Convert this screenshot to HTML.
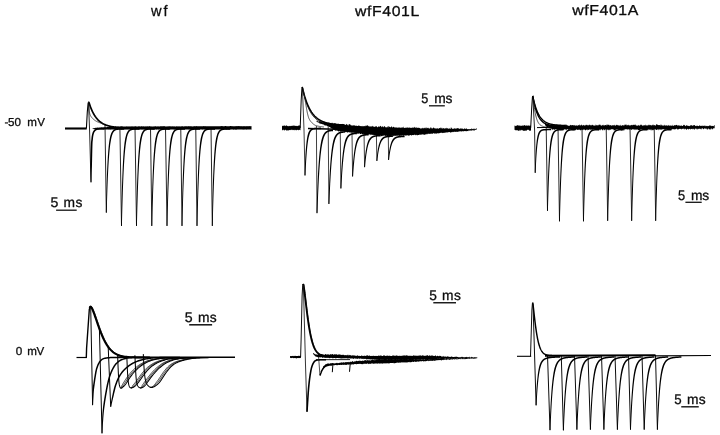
<!DOCTYPE html>
<html><head><meta charset="utf-8"><title>figure</title>
<style>html,body{margin:0;padding:0;background:#fff;}body{width:720px;height:435px;overflow:hidden;font-family:"Liberation Sans",sans-serif;}svg{display:block;}</style></head>
<body>
<svg width="720" height="435" viewBox="0 0 720 435">
<rect width="720" height="435" fill="#fff"/>
<g fill="none" stroke-linejoin="round" stroke-linecap="butt">
<path d="M65.00,128.50 L86.70,128.50" stroke="#000" stroke-width="2.1"/>
<path d="M86.40,128.40 L87.30,112.00 L88.10,103.40 L88.40,102.30" stroke="#000" stroke-width="1.1"/>
<path d="M88.35,102.20 L88.60,102.20 L89.00,102.60 L89.25,103.38 L89.50,104.14 L89.75,104.88 L90.00,105.60 L90.25,106.29 L90.50,106.96 L90.75,107.61 L91.00,108.24 L91.25,108.85 L91.50,109.44 L91.75,110.02 L92.00,110.57 L92.25,111.11 L92.50,111.64 L92.75,112.14 L93.00,112.63 L93.25,113.11 L93.50,113.57 L93.75,114.02 L94.00,114.45 L94.25,114.87 L94.50,115.28 L94.75,115.67 L95.00,116.05 L95.25,116.43 L95.50,116.78 L95.75,117.13 L96.00,117.47 L96.25,117.80 L96.50,118.11 L96.75,118.42 L97.00,118.72 L97.25,119.01 L97.50,119.29 L97.75,119.56 L98.00,119.82 L98.25,120.08 L98.50,120.32 L98.75,120.56 L99.00,120.79 L99.25,121.02 L99.50,121.24 L99.75,121.45 L100.00,121.65 L100.25,121.85 L100.50,122.04 L100.75,122.23 L101.00,122.41 L101.25,122.59 L101.50,122.75 L101.75,122.92 L102.00,123.08 L102.25,123.23 L102.50,123.38 L102.75,123.53 L103.00,123.67 L103.25,123.81 L103.50,123.94 L103.75,124.07 L104.00,124.19 L104.25,124.31 L104.50,124.43 L104.75,124.54 L105.00,124.65 L105.25,124.76 L105.50,124.86 L105.75,124.96 L106.00,125.05 L106.25,125.15 L106.50,125.24 L106.75,125.33 L107.00,125.41 L107.25,125.50 L107.50,125.58 L107.75,125.65 L108.00,125.73 L108.25,125.80 L108.50,125.87 L108.75,125.94 L109.00,126.01 L109.25,126.07 L109.50,126.13 L109.75,126.19 L110.00,126.25 L110.25,126.31 L110.50,126.36 L110.75,126.42 L111.00,126.47 L111.25,126.52 L111.50,126.57 L111.75,126.62 L112.00,126.66 L112.25,126.71 L112.50,126.75 L112.75,126.79 L113.00,126.83 L113.25,126.87 L113.50,126.91 L113.75,126.94 L114.00,126.98 L114.25,127.01 L114.50,127.05 L114.75,127.08 L115.00,127.11 L115.25,127.14 L115.50,127.17 L115.75,127.20 L116.00,127.23 L116.25,127.25 L116.50,127.28 L116.75,127.31 L117.00,127.33 L117.25,127.35 L117.50,127.38 L117.75,127.40 L118.00,127.42 L118.25,127.44 L118.50,127.46 L118.75,127.48 L119.00,127.50 L119.25,127.52 L119.50,127.54 L119.75,127.55 L120.00,127.57 L120.25,127.59 L120.50,127.60 L120.75,127.62 L121.00,127.63 L121.25,127.65 L121.50,127.66 L121.75,127.67 L122.00,127.69 L122.25,127.70 L122.50,127.71 L122.75,127.72 L123.00,127.74 L123.25,127.75 L123.50,127.76 L123.75,127.77 L124.00,127.78 L124.25,127.79 L124.50,127.80 L124.75,127.81 L125.00,127.82 L125.25,127.83 L125.50,127.83 L125.75,127.84 L126.00,127.85 L126.25,127.86 L126.50,127.87 L126.75,127.87 L127.00,127.88 L127.25,127.89 L127.50,127.89 L127.75,127.90 L128.00,127.91 L128.25,127.91 L128.50,127.92 L128.75,127.92 L129.00,127.93 L129.25,127.93 L129.50,127.94 L129.75,127.94 L130.00,127.95 L130.25,127.95 L130.50,127.96 L130.75,127.96 L131.00,127.97 L131.25,127.97 L131.50,127.97 L131.75,127.98 L132.00,127.98 L132.25,127.99 L132.50,127.99 L132.75,127.99 L133.00,128.00 L133.25,128.00 L133.50,128.00 L133.75,128.01 L134.00,128.01 L134.25,128.01 L134.50,128.01 L134.75,128.02 L135.00,128.02 L135.25,128.02 L135.50,128.02 L135.75,128.03 L136.00,128.03 L136.25,128.03 L136.50,128.03 L136.75,128.03 L137.00,128.04 L137.25,128.04 L137.50,128.04 L137.75,128.04 L138.00,128.04 L138.25,128.05 L138.50,128.05 L138.75,128.05 L139.00,128.05 L139.25,128.05 L139.50,128.05 L139.75,128.06 L140.00,128.06" stroke="#000" stroke-width="1.7"/>
<path d="M88.90,104.50 L88.92,104.90 L88.95,105.42 L88.98,106.04 L89.00,106.73 L89.04,107.48 L89.08,108.26 L89.12,109.06 L89.17,109.86 L89.24,110.63 L89.31,111.36 L89.40,112.02 L89.50,112.60 L89.61,113.11 L89.73,113.58 L89.85,114.02 L89.98,114.43 L90.12,114.81 L90.28,115.17 L90.44,115.52 L90.62,115.86 L90.81,116.20 L91.02,116.53 L91.25,116.86 L91.50,117.20 L91.77,117.54 L92.06,117.88 L92.37,118.22 L92.70,118.55 L93.04,118.88 L93.40,119.19 L93.77,119.50 L94.14,119.80 L94.53,120.09 L94.92,120.37 L95.31,120.64 L95.70,120.90 L96.11,121.14 L96.53,121.37 L96.98,121.59 L97.44,121.80 L97.90,122.00 L98.37,122.19 L98.83,122.38 L99.29,122.55 L99.72,122.72 L100.14,122.88 L100.54,123.04 L100.90,123.20 L101.24,123.35 L101.57,123.50 L101.90,123.65 L102.20,123.79 L102.50,123.92 L102.78,124.04 L103.03,124.16 L103.27,124.27 L103.49,124.37 L103.69,124.46 L103.86,124.54 L104.00,124.60" stroke="#222" stroke-width="0.8"/>
<path d="M88.50,102.50 L89.50,128.00 L91.00,182.10" stroke="#000" stroke-width="0.85"/>
<path d="M105.00,124.58 L106.30,212.50" stroke="#000" stroke-width="0.85"/>
<path d="M119.90,127.55 L121.50,225.80" stroke="#000" stroke-width="0.85"/>
<path d="M135.00,127.50 L136.50,225.80" stroke="#000" stroke-width="0.85"/>
<path d="M150.50,127.50 L151.80,225.80" stroke="#000" stroke-width="0.85"/>
<path d="M165.50,127.50 L167.00,225.80" stroke="#000" stroke-width="0.85"/>
<path d="M180.75,127.50 L182.00,225.80" stroke="#000" stroke-width="0.85"/>
<path d="M195.75,127.50 L197.00,225.80" stroke="#000" stroke-width="0.85"/>
<path d="M211.00,127.50 L212.30,225.80" stroke="#000" stroke-width="0.85"/>
<path d="M300.20,128.00 L301.20,100.00 L301.90,88.50 L302.20,87.00" stroke="#000" stroke-width="1.0"/>
<path d="M302.15,87.00 L302.30,87.20 L302.30,87.20 L302.55,88.28 L302.80,89.32 L303.05,90.34 L303.30,91.33 L303.55,92.29 L303.80,93.22 L304.05,94.12 L304.30,95.00 L304.55,95.86 L304.80,96.69 L305.05,97.50 L305.30,98.28 L305.55,99.05 L305.80,99.79 L306.05,100.51 L306.30,101.21 L306.55,101.89 L306.80,102.55 L307.05,103.19 L307.30,103.81 L307.55,104.42 L307.80,105.01 L308.05,105.58 L308.30,106.13 L308.55,106.67 L308.80,107.20 L309.05,107.71 L309.30,108.20 L309.55,108.69 L309.80,109.15 L310.05,109.61 L310.30,110.05 L310.55,110.48 L310.80,110.90 L311.05,111.30 L311.30,111.69 L311.55,112.08 L311.80,112.45 L312.05,112.81 L312.30,113.16 L312.55,113.50 L312.80,113.83 L313.05,114.16 L313.30,114.47 L313.55,114.77 L313.80,115.07 L314.05,115.35 L314.30,115.63 L314.55,115.90 L314.80,116.17 L315.05,116.42 L315.30,116.67 L315.55,116.91 L315.80,117.15 L316.05,117.38 L316.30,117.60 L316.55,117.81 L316.80,118.02 L317.05,118.23 L317.30,118.42 L317.55,118.62 L317.80,118.80 L318.05,118.98 L318.30,119.16 L318.55,119.33 L318.80,119.50 L319.05,119.66 L319.30,119.82 L319.55,119.97 L319.80,120.12 L320.05,120.26 L320.30,120.40 L320.55,120.54 L320.80,120.67 L321.05,120.80 L321.30,120.92 L321.55,121.04 L321.80,121.16 L322.05,121.27 L322.30,121.39 L322.55,121.49 L322.80,121.60 L323.05,121.70 L323.30,121.80 L323.55,121.90 L323.80,121.99 L324.05,122.08 L324.30,122.17 L324.55,122.25 L324.80,122.34 L325.05,122.42 L325.30,122.50 L325.55,122.57 L325.80,122.65 L326.05,122.72 L326.30,122.79 L326.55,122.86 L326.80,122.93 L327.05,122.99 L327.30,123.05 L327.55,123.11 L327.80,123.17 L328.05,123.23 L328.30,123.29 L328.55,123.34 L328.80,123.39 L329.05,123.44 L329.30,123.49 L329.55,123.54 L329.80,123.59 L330.05,123.63 L330.30,123.68 L330.55,123.72 L330.80,123.76 L331.05,123.80 L331.30,123.84 L331.55,123.88 L331.80,123.92 L332.05,123.96 L332.30,123.99 L332.55,124.03 L332.80,124.06 L333.05,124.09 L333.30,124.12 L333.55,124.15 L333.80,124.18 L334.05,124.21 L334.30,124.24 L334.55,124.27 L334.80,124.29 L335.05,124.32 L335.30,124.34 L335.55,124.37 L335.80,124.39 L336.05,124.41 L336.30,124.44 L336.55,124.46 L336.80,124.48 L337.05,124.50 L337.30,124.52 L337.55,124.54 L337.80,124.56 L338.05,124.58 L338.30,124.59 L338.55,124.61 L338.80,124.63 L339.05,124.64 L339.30,124.66 L339.55,124.67 L339.80,124.69 L340.05,124.70 L340.30,124.72 L340.55,124.73 L340.80,124.75 L341.05,124.76 L341.30,124.77 L341.55,124.78 L341.80,124.79 L342.05,124.81 L342.30,124.82 L342.55,124.83 L342.80,124.84 L343.05,124.85 L343.30,124.86 L343.55,124.87 L343.80,124.88 L344.05,124.89 L344.30,124.90 L344.55,124.90 L344.80,124.91" stroke="#000" stroke-width="1.5"/>
<path d="M302.15,87.00 L302.30,87.20 L302.30,87.20 L302.55,88.40 L302.80,89.57 L303.05,90.70 L303.30,91.79 L303.55,92.85 L303.80,93.88 L304.05,94.87 L304.30,95.83 L304.55,96.77 L304.80,97.67 L305.05,98.55 L305.30,99.40 L305.55,100.22 L305.80,101.02 L306.05,101.79 L306.30,102.54 L306.55,103.26 L306.80,103.96 L307.05,104.64 L307.30,105.30 L307.55,105.94 L307.80,106.56 L308.05,107.16 L308.30,107.74 L308.55,108.30 L308.80,108.85 L309.05,109.37 L309.30,109.89 L309.55,110.38 L309.80,110.86 L310.05,111.33 L310.30,111.78 L310.55,112.22 L310.80,112.64 L311.05,113.05 L311.30,113.45 L311.55,113.83 L311.80,114.20 L312.05,114.56 L312.30,114.91 L312.55,115.25 L312.80,115.58 L313.05,115.90 L313.30,116.21 L313.55,116.51 L313.80,116.80 L314.05,117.08 L314.30,117.35 L314.55,117.61 L314.80,117.87 L315.05,118.11 L315.30,118.35 L315.55,118.59 L315.80,118.81 L316.05,119.03 L316.30,119.24 L316.55,119.44 L316.80,119.64 L317.05,119.83 L317.30,120.02 L317.55,120.20 L317.80,120.37 L318.05,120.54 L318.30,120.71 L318.55,120.87 L318.80,121.02 L319.05,121.17 L319.30,121.31 L319.55,121.45 L319.80,121.59 L320.05,121.72 L320.30,121.85 L320.55,121.97 L320.80,122.09 L321.05,122.20 L321.30,122.32 L321.55,122.42 L321.80,122.53 L322.05,122.63 L322.30,122.73 L322.55,122.83 L322.80,122.92 L323.05,123.01 L323.30,123.10 L323.55,123.18 L323.80,123.26 L324.05,123.34 L324.30,123.42 L324.55,123.49 L324.80,123.56 L325.05,123.63 L325.30,123.70 L325.55,123.77 L325.80,123.83 L326.05,123.89 L326.30,123.95 L326.55,124.01 L326.80,124.06 L327.05,124.12 L327.30,124.17 L327.55,124.22 L327.80,124.27 L328.05,124.32 L328.30,124.36 L328.55,124.41 L328.80,124.45 L329.05,124.49 L329.30,124.53 L329.55,124.57 L329.80,124.61 L330.05,124.65 L330.30,124.68 L330.55,124.72 L330.80,124.75 L331.05,124.79 L331.30,124.82 L331.55,124.85 L331.80,124.88 L332.05,124.91 L332.30,124.93 L332.55,124.96 L332.80,124.99 L333.05,125.01 L333.30,125.04 L333.55,125.06 L333.80,125.08 L334.05,125.11 L334.30,125.13 L334.55,125.15 L334.80,125.17 L335.05,125.19 L335.30,125.21 L335.55,125.23 L335.80,125.24 L336.05,125.26 L336.30,125.28 L336.55,125.29 L336.80,125.31 L337.05,125.33 L337.30,125.34 L337.55,125.35 L337.80,125.37 L338.05,125.38 L338.30,125.39 L338.55,125.41 L338.80,125.42 L339.05,125.43 L339.30,125.44 L339.55,125.45 L339.80,125.46 L340.05,125.48 L340.30,125.49 L340.55,125.50 L340.80,125.50 L341.05,125.51 L341.30,125.52 L341.55,125.53 L341.80,125.54 L342.05,125.55 L342.30,125.56 L342.55,125.56 L342.80,125.57 L343.05,125.58 L343.30,125.58 L343.55,125.59 L343.80,125.60 L344.05,125.60 L344.30,125.61 L344.55,125.62 L344.80,125.62" stroke="#000" stroke-width="1.0"/>
<path d="M302.60,87.80 L302.63,87.87 L302.66,87.94 L302.70,88.00 L302.74,88.08 L302.78,88.17 L302.83,88.27 L302.88,88.40 L302.94,88.55 L303.00,88.73 L303.06,88.95 L303.13,89.20 L303.20,89.50 L303.27,89.85 L303.35,90.24 L303.44,90.68 L303.53,91.15 L303.62,91.65 L303.71,92.17 L303.81,92.72 L303.91,93.27 L304.01,93.84 L304.11,94.40 L304.20,94.95 L304.30,95.50 L304.39,96.03 L304.48,96.54 L304.57,97.04 L304.66,97.54 L304.74,98.05 L304.83,98.58 L304.92,99.12 L305.02,99.69 L305.13,100.30 L305.24,100.94 L305.36,101.64 L305.50,102.40 L305.65,103.24 L305.81,104.17 L305.98,105.18 L306.16,106.24 L306.34,107.34 L306.53,108.46 L306.73,109.57 L306.92,110.66 L307.12,111.70 L307.32,112.69 L307.51,113.59 L307.70,114.40 L307.88,115.12 L308.05,115.77 L308.22,116.36 L308.38,116.90 L308.54,117.41 L308.71,117.88 L308.89,118.32 L309.07,118.74 L309.27,119.15 L309.49,119.56 L309.73,119.98 L310.00,120.40 L310.29,120.83 L310.61,121.26 L310.95,121.68 L311.31,122.09 L311.68,122.49 L312.06,122.88 L312.45,123.25 L312.85,123.61 L313.24,123.94 L313.64,124.25 L314.02,124.54 L314.40,124.80 L314.77,125.03 L315.14,125.23 L315.50,125.40 L315.87,125.54 L316.24,125.67 L316.61,125.78 L316.98,125.88 L317.35,125.97 L317.73,126.05 L318.11,126.13 L318.50,126.21 L318.90,126.30 L319.32,126.39 L319.77,126.47 L320.25,126.55 L320.74,126.62 L321.24,126.68 L321.73,126.74 L322.21,126.80 L322.66,126.85 L323.07,126.89 L323.44,126.93 L323.75,126.97 L324.00,127.00" stroke="#222" stroke-width="0.8"/>
<path d="M308.00,128.60 L337.00,129.20" stroke="#000" stroke-width="1.5"/>
<path d="M302.40,87.50 L304.00,130.00 L305.00,175.30" stroke="#000" stroke-width="0.75"/>
<path d="M316.40,126.00 L317.00,212.90" stroke="#000" stroke-width="0.75"/>
<path d="M328.20,126.00 L328.90,203.80" stroke="#000" stroke-width="0.75"/>
<path d="M340.20,126.00 L340.90,188.30" stroke="#000" stroke-width="0.75"/>
<path d="M351.90,126.00 L352.60,176.30" stroke="#000" stroke-width="0.75"/>
<path d="M363.90,126.00 L364.60,166.90" stroke="#000" stroke-width="0.75"/>
<path d="M376.20,126.00 L376.90,160.70" stroke="#000" stroke-width="0.75"/>
<path d="M388.20,126.00 L388.60,159.70" stroke="#000" stroke-width="0.75"/>
<path d="M530.70,127.90 L531.70,108.00 L532.40,97.20 L532.70,96.00" stroke="#000" stroke-width="1.0"/>
<path d="M532.65,96.00 L532.80,96.20 L532.80,96.20 L533.05,97.40 L533.30,98.55 L533.55,99.65 L533.80,100.71 L534.05,101.73 L534.30,102.70 L534.55,103.64 L534.80,104.53 L535.05,105.39 L535.30,106.22 L535.55,107.01 L535.80,107.77 L536.05,108.50 L536.30,109.19 L536.55,109.86 L536.80,110.51 L537.05,111.12 L537.30,111.71 L537.55,112.28 L537.80,112.82 L538.05,113.34 L538.30,113.84 L538.55,114.32 L538.80,114.78 L539.05,115.23 L539.30,115.65 L539.55,116.06 L539.80,116.44 L540.05,116.82 L540.30,117.18 L540.55,117.52 L540.80,117.85 L541.05,118.17 L541.30,118.47 L541.55,118.76 L541.80,119.04 L542.05,119.31 L542.30,119.56 L542.55,119.81 L542.80,120.05 L543.05,120.27 L543.30,120.49 L543.55,120.70 L543.80,120.90 L544.05,121.09 L544.30,121.28 L544.55,121.45 L544.80,121.62 L545.05,121.78 L545.30,121.94 L545.55,122.09 L545.80,122.23 L546.05,122.37 L546.30,122.50 L546.55,122.63 L546.80,122.75 L547.05,122.87 L547.30,122.98 L547.55,123.08 L547.80,123.19 L548.05,123.29 L548.30,123.38 L548.55,123.47 L548.80,123.56 L549.05,123.64 L549.30,123.72 L549.55,123.80 L549.80,123.87 L550.05,123.94 L550.30,124.01 L550.55,124.07 L550.80,124.14 L551.05,124.20 L551.30,124.25 L551.55,124.31 L551.80,124.36 L552.05,124.41 L552.30,124.46 L552.55,124.51 L552.80,124.55 L553.05,124.59 L553.30,124.64 L553.55,124.67 L553.80,124.71 L554.05,124.75 L554.30,124.78 L554.55,124.82 L554.80,124.85 L555.05,124.88 L555.30,124.91 L555.55,124.94 L555.80,124.96 L556.05,124.99 L556.30,125.01 L556.55,125.04 L556.80,125.06 L557.05,125.08 L557.30,125.10 L557.55,125.12 L557.80,125.14 L558.05,125.16 L558.30,125.18 L558.55,125.20 L558.80,125.21 L559.05,125.23 L559.30,125.25 L559.55,125.26 L559.80,125.27 L560.05,125.29 L560.30,125.30 L560.55,125.31 L560.80,125.32 L561.05,125.33 L561.30,125.35 L561.55,125.36 L561.80,125.37 L562.05,125.38 L562.30,125.38 L562.55,125.39 L562.80,125.40 L563.05,125.41 L563.30,125.42 L563.55,125.43 L563.80,125.43 L564.05,125.44 L564.30,125.45 L564.55,125.45 L564.80,125.46 L565.05,125.46 L565.30,125.47 L565.55,125.47 L565.80,125.48" stroke="#000" stroke-width="1.4"/>
<path d="M532.65,96.00 L532.80,96.20 L532.80,96.20 L533.05,97.62 L533.30,98.97 L533.55,100.26 L533.80,101.48 L534.05,102.65 L534.30,103.77 L534.55,104.83 L534.80,105.84 L535.05,106.81 L535.30,107.73 L535.55,108.60 L535.80,109.44 L536.05,110.24 L536.30,110.99 L536.55,111.72 L536.80,112.41 L537.05,113.06 L537.30,113.69 L537.55,114.29 L537.80,114.85 L538.05,115.40 L538.30,115.91 L538.55,116.41 L538.80,116.87 L539.05,117.32 L539.30,117.75 L539.55,118.15 L539.80,118.54 L540.05,118.91 L540.30,119.26 L540.55,119.60 L540.80,119.92 L541.05,120.22 L541.30,120.51 L541.55,120.79 L541.80,121.05 L542.05,121.30 L542.30,121.54 L542.55,121.77 L542.80,121.99 L543.05,122.19 L543.30,122.39 L543.55,122.58 L543.80,122.76 L544.05,122.93 L544.30,123.09 L544.55,123.25 L544.80,123.40 L545.05,123.54 L545.30,123.67 L545.55,123.80 L545.80,123.92 L546.05,124.04 L546.30,124.15 L546.55,124.25 L546.80,124.35 L547.05,124.45 L547.30,124.54 L547.55,124.63 L547.80,124.71 L548.05,124.79 L548.30,124.87 L548.55,124.94 L548.80,125.01 L549.05,125.07 L549.30,125.14 L549.55,125.19 L549.80,125.25 L550.05,125.31 L550.30,125.36 L550.55,125.41 L550.80,125.45 L551.05,125.50 L551.30,125.54 L551.55,125.58 L551.80,125.62 L552.05,125.65 L552.30,125.69 L552.55,125.72 L552.80,125.75 L553.05,125.79 L553.30,125.81 L553.55,125.84 L553.80,125.87 L554.05,125.89 L554.30,125.92 L554.55,125.94 L554.80,125.96 L555.05,125.98 L555.30,126.00 L555.55,126.02 L555.80,126.04 L556.05,126.05 L556.30,126.07 L556.55,126.09 L556.80,126.10 L557.05,126.12 L557.30,126.13 L557.55,126.14 L557.80,126.15 L558.05,126.16 L558.30,126.18 L558.55,126.19 L558.80,126.20 L559.05,126.21 L559.30,126.22 L559.55,126.22 L559.80,126.23 L560.05,126.24 L560.30,126.25 L560.55,126.25 L560.80,126.26 L561.05,126.27 L561.30,126.27 L561.55,126.28 L561.80,126.29 L562.05,126.29 L562.30,126.30 L562.55,126.30 L562.80,126.31 L563.05,126.31 L563.30,126.31 L563.55,126.32 L563.80,126.32 L564.05,126.33 L564.30,126.33 L564.55,126.33 L564.80,126.34 L565.05,126.34 L565.30,126.34 L565.55,126.34 L565.80,126.35" stroke="#000" stroke-width="1.4"/>
<path d="M533.40,99.00 L533.65,101.49 L533.90,103.77 L534.15,105.84 L534.40,107.73 L534.65,109.45 L534.90,111.02 L535.15,112.45 L535.40,113.76 L535.65,114.94 L535.90,116.03 L536.15,117.02 L536.40,117.92 L536.65,118.74 L536.90,119.49 L537.15,120.17 L537.40,120.79 L537.65,121.36 L537.90,121.87 L538.15,122.34 L538.40,122.77 L538.65,123.17 L538.90,123.52 L539.15,123.85 L539.40,124.14 L539.65,124.41 L539.90,124.66 L540.15,124.89 L540.40,125.09 L540.65,125.28 L540.90,125.45 L541.15,125.60 L541.40,125.74 L541.65,125.87 L541.90,125.99 L542.15,126.10 L542.40,126.19 L542.65,126.28 L542.90,126.36 L543.15,126.44 L543.40,126.51 L543.65,126.57 L543.90,126.62 L544.15,126.67 L544.40,126.72 L544.65,126.76 L544.90,126.80 L545.15,126.84 L545.40,126.87 L545.65,126.90 L545.90,126.92" stroke="#222" stroke-width="0.8"/>
<path d="M537.00,127.60 L552.00,127.40" stroke="#000" stroke-width="1.0"/>
<path d="M532.80,96.50 L534.60,130.00 L535.20,172.60" stroke="#000" stroke-width="0.85"/>
<path d="M546.20,127.00 L547.50,210.60" stroke="#000" stroke-width="0.85"/>
<path d="M558.00,127.00 L559.50,221.10" stroke="#000" stroke-width="0.85"/>
<path d="M582.00,127.00 L583.50,221.10" stroke="#000" stroke-width="0.85"/>
<path d="M606.20,127.00 L607.70,220.60" stroke="#000" stroke-width="0.85"/>
<path d="M630.00,127.00 L631.70,220.60" stroke="#000" stroke-width="0.85"/>
<path d="M654.20,127.00 L655.70,220.60" stroke="#000" stroke-width="0.85"/>
<path d="M76.50,357.50 L86.90,357.50" stroke="#000" stroke-width="1.2"/>
<path d="M86.30,357.80 L86.60,348.00 L89.30,309.50 L90.00,307.10 L90.60,306.60" stroke="#000" stroke-width="1.4"/>
<path d="M89.60,308.00 L90.10,306.90 L90.60,306.60 L90.85,306.77 L91.10,307.06 L91.35,307.42 L91.60,307.84 L91.85,308.31 L92.10,308.81 L92.35,309.35 L92.60,309.92 L92.85,310.51 L93.10,311.13 L93.35,311.76 L93.60,312.42 L93.85,313.08 L94.10,313.76 L94.35,314.46 L94.60,315.16 L94.85,315.87 L95.10,316.59 L95.35,317.31 L95.60,318.03 L95.85,318.76 L96.10,319.50 L96.35,320.23 L96.60,320.96 L96.85,321.69 L97.10,322.42 L97.35,323.15 L97.60,323.87 L97.85,324.59 L98.10,325.31 L98.35,326.02 L98.60,326.72 L98.85,327.42 L99.10,328.11 L99.35,328.80 L99.60,329.47 L99.85,330.14 L100.10,330.80 L100.35,331.46 L100.60,332.10 L100.85,332.74 L101.10,333.36 L101.35,333.98 L101.60,334.59 L101.85,335.19 L102.10,335.77 L102.35,336.35 L102.60,336.92 L102.85,337.48 L103.10,338.03 L103.35,338.56 L103.60,339.09 L103.85,339.61 L104.10,340.11 L104.35,340.61 L104.60,341.10 L104.85,341.57 L105.10,342.04 L105.35,342.49 L105.60,342.94 L105.85,343.37 L106.10,343.80 L106.35,344.21 L106.60,344.62 L106.85,345.02 L107.10,345.40 L107.35,345.78 L107.60,346.15 L107.85,346.51 L108.10,346.86 L108.35,347.20 L108.60,347.53 L108.85,347.85 L109.10,348.17 L109.35,348.47 L109.60,348.77 L109.85,349.06 L110.10,349.34 L110.35,349.62 L110.60,349.88 L110.85,350.14 L111.10,350.39 L111.35,350.63 L111.60,350.87 L111.85,351.10 L112.10,351.32 L112.35,351.54 L112.60,351.75 L112.85,351.95 L113.10,352.15 L113.35,352.34 L113.60,352.53 L113.85,352.71 L114.10,352.88 L114.35,353.05 L114.60,353.21 L114.85,353.37 L115.10,353.52 L115.35,353.67 L115.60,353.81 L115.85,353.95 L116.10,354.08 L116.35,354.21 L116.60,354.34 L116.85,354.46 L117.10,354.57 L117.35,354.69 L117.60,354.79 L117.85,354.90 L118.10,355.00 L118.35,355.10 L118.60,355.19 L118.85,355.28 L119.10,355.37 L119.35,355.46 L119.60,355.54 L119.85,355.61 L120.10,355.69 L120.35,355.76 L120.60,355.83 L120.85,355.90 L121.10,355.97 L121.35,356.03 L121.60,356.09 L121.85,356.15 L122.10,356.20 L122.35,356.26 L122.60,356.31 L122.85,356.36 L123.10,356.41 L123.35,356.45 L123.60,356.50 L123.85,356.54 L124.10,356.58 L124.35,356.62 L124.60,356.66 L124.85,356.69 L125.10,356.73 L125.35,356.76 L125.60,356.79 L125.85,356.82 L126.10,356.85 L126.35,356.88 L126.60,356.91 L126.85,356.93 L127.10,356.96 L127.35,356.98 L127.60,357.01 L127.85,357.03 L128.10,357.05 L128.35,357.07 L128.60,357.09 L128.85,357.11 L129.10,357.12 L129.35,357.14 L129.60,357.16 L129.85,357.17 L130.10,357.19 L130.35,357.20 L130.60,357.22 L130.85,357.23 L131.10,357.24 L131.35,357.25 L131.60,357.27 L131.85,357.28 L132.10,357.29 L132.35,357.30 L132.60,357.31 L132.85,357.32 L133.10,357.32 L133.35,357.33 L133.60,357.34 L133.85,357.35 L134.10,357.35 L134.35,357.36 L134.60,357.37 L134.85,357.37 L135.10,357.38 L135.35,357.39 L135.60,357.39 L135.85,357.40 L136.10,357.40 L136.35,357.41 L136.60,357.41 L136.85,357.42 L137.10,357.42 L137.35,357.42 L137.60,357.43 L137.85,357.43 L138.10,357.43 L138.35,357.44 L138.60,357.44 L138.85,357.44 L139.10,357.45 L139.35,357.45 L139.60,357.45 L139.85,357.45 L140.10,357.46 L140.35,357.46 L140.60,357.46 L140.85,357.46 L141.10,357.46 L141.35,357.47 L141.60,357.47 L141.85,357.47 L142.10,357.47 L142.35,357.47 L142.60,357.47 L142.85,357.48 L143.10,357.48 L143.35,357.48 L143.60,357.48 L143.85,357.48 L144.10,357.48 L144.35,357.48 L144.60,357.48 L144.85,357.48 L145.10,357.48 L145.35,357.49 L145.60,357.49 L145.85,357.49 L146.10,357.49 L146.35,357.49 L146.60,357.49 L146.85,357.49 L147.10,357.49 L147.35,357.49 L147.60,357.49 L147.85,357.49 L148.10,357.49 L148.35,357.49 L148.60,357.49 L148.85,357.49 L149.10,357.49 L149.35,357.49 L149.60,357.49 L149.85,357.49" stroke="#000" stroke-width="2.0"/>
<path d="M91.20,307.10 L91.40,306.60 L91.65,306.77 L91.90,307.06 L92.15,307.42 L92.40,307.84 L92.65,308.31 L92.90,308.81 L93.15,309.35 L93.40,309.92 L93.65,310.51 L93.90,311.13 L94.15,311.76 L94.40,312.42 L94.65,313.08 L94.90,313.76 L95.15,314.46 L95.40,315.16 L95.65,315.87 L95.90,316.59 L96.15,317.31 L96.40,318.03 L96.65,318.76 L96.90,319.50 L97.15,320.23 L97.40,320.96 L97.65,321.69 L97.90,322.42 L98.15,323.15 L98.40,323.87 L98.65,324.59 L98.90,325.31 L99.15,326.02 L99.40,326.72 L99.65,327.42 L99.90,328.11 L100.15,328.80 L100.40,329.47 L100.65,330.14 L100.90,330.80 L101.15,331.46 L101.40,332.10 L101.65,332.74 L101.90,333.36 L102.15,333.98 L102.40,334.59 L102.65,335.19 L102.90,335.77 L103.15,336.35 L103.40,336.92 L103.65,337.48 L103.90,338.03 L104.15,338.56 L104.40,339.09 L104.65,339.61 L104.90,340.11 L105.15,340.61 L105.40,341.10 L105.65,341.57 L105.90,342.04 L106.15,342.49 L106.40,342.94 L106.65,343.37 L106.90,343.80 L107.15,344.21 L107.40,344.62 L107.65,345.02 L107.90,345.40 L108.15,345.78 L108.40,346.15 L108.65,346.51 L108.90,346.86 L109.15,347.20 L109.40,347.53 L109.65,347.85 L109.90,348.17 L110.15,348.47 L110.40,348.77 L110.65,349.06 L110.90,349.34 L111.15,349.62 L111.40,349.88 L111.65,350.14 L111.90,350.39 L112.15,350.63 L112.40,350.87 L112.65,351.10 L112.90,351.32 L113.15,351.54 L113.40,351.75 L113.65,351.95 L113.90,352.15 L114.15,352.34 L114.40,352.53 L114.65,352.71 L114.90,352.88 L115.15,353.05 L115.40,353.21 L115.65,353.37 L115.90,353.52 L116.15,353.67 L116.40,353.81 L116.65,353.95 L116.90,354.08 L117.15,354.21 L117.40,354.34 L117.65,354.46 L117.90,354.57 L118.15,354.69 L118.40,354.79 L118.65,354.90 L118.90,355.00 L119.15,355.10 L119.40,355.19 L119.65,355.28 L119.90,355.37 L120.15,355.46 L120.40,355.54 L120.65,355.61 L120.90,355.69 L121.15,355.76 L121.40,355.83 L121.65,355.90 L121.90,355.97 L122.15,356.03 L122.40,356.09 L122.65,356.15 L122.90,356.20 L123.15,356.26 L123.40,356.31 L123.65,356.36 L123.90,356.41 L124.15,356.45 L124.40,356.50 L124.65,356.54 L124.90,356.58 L125.15,356.62 L125.40,356.66 L125.65,356.69 L125.90,356.73 L126.15,356.76" stroke="#000" stroke-width="1.0"/>
<path d="M118.00,357.30 L235.00,357.30" stroke="#000" stroke-width="1.4"/>
<path d="M90.70,306.80 L92.60,405.00" stroke="#000" stroke-width="1.0"/>
<path d="M99.40,328.59 L102.00,433.20" stroke="#000" stroke-width="1.0"/>
<path d="M108.20,346.87 L110.70,406.70" stroke="#000" stroke-width="1.0"/>
<path d="M117.60,354.80 L117.63,355.65 L117.68,356.75 L117.73,358.05 L117.78,359.51 L117.84,361.09 L117.91,362.74 L117.97,364.44 L118.04,366.13 L118.11,367.77 L118.18,369.32 L118.24,370.75 L118.30,372.00 L118.36,373.13 L118.41,374.21 L118.47,375.24 L118.53,376.23 L118.58,377.16 L118.64,378.06 L118.69,378.90 L118.75,379.71 L118.81,380.47 L118.87,381.19 L118.93,381.86 L119.00,382.50 L119.07,383.08 L119.14,383.61 L119.21,384.08 L119.28,384.50 L119.35,384.88 L119.43,385.22 L119.50,385.53 L119.58,385.81 L119.66,386.07 L119.74,386.32 L119.82,386.56 L119.90,386.80 L119.98,387.03 L120.07,387.23 L120.15,387.41 L120.23,387.57 L120.32,387.71 L120.41,387.83 L120.50,387.93 L120.59,388.01 L120.69,388.08 L120.79,388.13 L120.89,388.17 L121.00,388.20 L121.11,388.21 L121.22,388.21 L121.33,388.19 L121.44,388.16 L121.55,388.11 L121.67,388.04 L121.79,387.96 L121.93,387.86 L122.08,387.75 L122.23,387.62 L122.41,387.47 L122.60,387.30 L122.81,387.12 L123.03,386.93 L123.26,386.73 L123.50,386.51 L123.76,386.27 L124.02,386.02 L124.30,385.74 L124.59,385.45 L124.88,385.13 L125.18,384.78 L125.49,384.41 L125.80,384.00 L126.12,383.55 L126.46,383.06 L126.80,382.53 L127.15,381.97 L127.51,381.39 L127.88,380.79 L128.26,380.18 L128.64,379.56 L129.02,378.95 L129.41,378.34 L129.81,377.76 L130.20,377.20 L130.59,376.66 L130.98,376.12 L131.37,375.59 L131.76,375.07 L132.15,374.54 L132.55,374.02 L132.96,373.51 L133.39,372.99 L133.83,372.47 L134.30,371.95 L134.79,371.43 L135.30,370.90 L135.84,370.36 L136.39,369.82 L136.97,369.26 L137.56,368.70 L138.16,368.14 L138.79,367.59 L139.43,367.04 L140.09,366.50 L140.77,365.97 L141.46,365.46 L142.17,364.97 L142.90,364.50 L143.64,364.05 L144.39,363.61 L145.16,363.19 L145.94,362.77 L146.74,362.37 L147.56,361.98 L148.40,361.61 L149.26,361.25 L150.15,360.91 L151.07,360.59 L152.02,360.28 L153.00,360.00 L154.02,359.74 L155.08,359.49 L156.18,359.27 L157.31,359.06 L158.46,358.87 L159.64,358.69 L160.83,358.53 L162.04,358.39 L163.25,358.25 L164.47,358.12 L165.69,358.01 L166.90,357.90 L168.16,357.81 L169.52,357.73 L170.94,357.67 L172.40,357.63 L173.87,357.59 L175.32,357.57 L176.72,357.55 L178.04,357.54 L179.26,357.53 L180.34,357.52 L181.27,357.51 L182.00,357.50" stroke="#000" stroke-width="1.05"/>
<path d="M121.00,388.20 L121.04,388.16 L121.07,388.13 L121.12,388.09 L121.16,388.06 L121.21,388.01 L121.27,387.96 L121.34,387.89 L121.42,387.81 L121.51,387.71 L121.61,387.60 L121.72,387.46 L121.85,387.30 L121.99,387.12 L122.14,386.93 L122.30,386.73 L122.48,386.51 L122.66,386.27 L122.85,386.02 L123.06,385.74 L123.28,385.45 L123.51,385.13 L123.76,384.78 L124.02,384.41 L124.30,384.00 L124.60,383.55 L124.91,383.06 L125.25,382.53 L125.60,381.97 L125.96,381.39 L126.33,380.79 L126.72,380.18 L127.11,379.56 L127.51,378.95 L127.90,378.34 L128.30,377.76 L128.70,377.20 L129.09,376.66 L129.48,376.12 L129.87,375.59 L130.26,375.07 L130.65,374.54 L131.05,374.02 L131.46,373.51 L131.89,372.99 L132.33,372.47 L132.80,371.95 L133.29,371.43 L133.80,370.90 L134.34,370.36 L134.89,369.82 L135.47,369.26 L136.06,368.70 L136.66,368.14 L137.29,367.59 L137.93,367.04 L138.59,366.50 L139.27,365.97 L139.96,365.46 L140.67,364.97 L141.40,364.50 L142.14,364.05 L142.89,363.61 L143.66,363.19 L144.44,362.77 L145.24,362.37 L146.06,361.98 L146.90,361.61 L147.76,361.25 L148.65,360.91 L149.57,360.59 L150.52,360.28 L151.50,360.00 L152.52,359.74 L153.58,359.49 L154.68,359.27 L155.81,359.06 L156.96,358.87 L158.14,358.69 L159.33,358.53 L160.54,358.39 L161.75,358.25 L162.97,358.12 L164.19,358.01 L165.40,357.90 L166.66,357.81 L168.02,357.73 L169.44,357.67 L170.90,357.63 L172.37,357.59 L173.82,357.57 L175.22,357.55 L176.54,357.54 L177.76,357.53 L178.84,357.52 L179.77,357.51 L180.50,357.50" stroke="#000" stroke-width="0.8"/>
<path d="M121.00,388.20 L121.00,388.16 L120.99,388.13 L120.98,388.09 L120.97,388.06 L120.95,388.01 L120.94,387.96 L120.94,387.89 L120.94,387.81 L120.96,387.71 L120.99,387.60 L121.04,387.46 L121.10,387.30 L121.18,387.12 L121.26,386.93 L121.35,386.73 L121.45,386.51 L121.56,386.27 L121.68,386.02 L121.82,385.74 L121.97,385.45 L122.15,385.13 L122.34,384.78 L122.56,384.41 L122.80,384.00 L123.07,383.55 L123.37,383.06 L123.69,382.53 L124.04,381.97 L124.41,381.39 L124.79,380.79 L125.18,380.18 L125.58,379.56 L125.99,378.95 L126.39,378.34 L126.80,377.76 L127.20,377.20 L127.59,376.66 L127.98,376.12 L128.37,375.59 L128.76,375.07 L129.15,374.54 L129.55,374.02 L129.96,373.51 L130.39,372.99 L130.83,372.47 L131.30,371.95 L131.79,371.43 L132.30,370.90 L132.84,370.36 L133.39,369.82 L133.97,369.26 L134.56,368.70 L135.16,368.14 L135.79,367.59 L136.43,367.04 L137.09,366.50 L137.77,365.97 L138.46,365.46 L139.17,364.97 L139.90,364.50 L140.64,364.05 L141.39,363.61 L142.16,363.19 L142.94,362.77 L143.74,362.37 L144.56,361.98 L145.40,361.61 L146.26,361.25 L147.15,360.91 L148.07,360.59 L149.02,360.28 L150.00,360.00 L151.02,359.74 L152.08,359.49 L153.18,359.27 L154.31,359.06 L155.46,358.87 L156.64,358.69 L157.83,358.53 L159.04,358.39 L160.25,358.25 L161.47,358.12 L162.69,358.01 L163.90,357.90 L165.16,357.81 L166.52,357.73 L167.94,357.67 L169.40,357.63 L170.87,357.59 L172.32,357.57 L173.72,357.55 L175.04,357.54 L176.26,357.53 L177.34,357.52 L178.27,357.51 L179.00,357.50" stroke="#000" stroke-width="0.8"/>
<path d="M126.80,355.70 L126.83,356.51 L126.88,357.55 L126.92,358.78 L126.98,360.16 L127.04,361.66 L127.10,363.22 L127.17,364.83 L127.23,366.43 L127.30,367.99 L127.37,369.46 L127.44,370.81 L127.50,372.00 L127.56,373.07 L127.62,374.09 L127.69,375.07 L127.75,376.00 L127.81,376.89 L127.88,377.74 L127.94,378.54 L128.01,379.31 L128.08,380.03 L128.15,380.72 L128.22,381.38 L128.30,382.00 L128.38,382.58 L128.46,383.10 L128.54,383.58 L128.63,384.02 L128.71,384.42 L128.80,384.79 L128.89,385.12 L128.99,385.43 L129.08,385.72 L129.18,385.99 L129.29,386.25 L129.40,386.50 L129.51,386.73 L129.63,386.94 L129.74,387.12 L129.86,387.27 L129.99,387.41 L130.11,387.53 L130.24,387.62 L130.38,387.70 L130.53,387.77 L130.68,387.82 L130.83,387.87 L131.00,387.90 L131.18,387.92 L131.36,387.92 L131.56,387.90 L131.77,387.87 L131.98,387.82 L132.19,387.76 L132.41,387.69 L132.63,387.61 L132.85,387.52 L133.07,387.42 L133.29,387.31 L133.50,387.20 L133.71,387.08 L133.91,386.96 L134.11,386.83 L134.31,386.69 L134.52,386.54 L134.72,386.38 L134.92,386.21 L135.13,386.03 L135.34,385.84 L135.55,385.64 L135.77,385.43 L136.00,385.20 L136.22,384.97 L136.43,384.75 L136.64,384.53 L136.84,384.31 L137.04,384.08 L137.26,383.82 L137.48,383.55 L137.73,383.24 L138.00,382.90 L138.30,382.52 L138.63,382.09 L139.00,381.60 L139.41,381.04 L139.87,380.41 L140.36,379.71 L140.89,378.96 L141.43,378.18 L141.99,377.38 L142.57,376.56 L143.15,375.75 L143.73,374.95 L144.30,374.19 L144.86,373.47 L145.40,372.80 L145.92,372.18 L146.43,371.58 L146.92,371.00 L147.41,370.44 L147.90,369.89 L148.39,369.36 L148.90,368.85 L149.41,368.34 L149.94,367.85 L150.50,367.36 L151.08,366.88 L151.70,366.40 L152.34,365.93 L152.99,365.46 L153.66,365.01 L154.34,364.56 L155.04,364.12 L155.76,363.69 L156.50,363.28 L157.26,362.87 L158.05,362.48 L158.87,362.11 L159.72,361.75 L160.60,361.40 L161.51,361.07 L162.44,360.75 L163.39,360.44 L164.37,360.14 L165.38,359.86 L166.41,359.59 L167.46,359.33 L168.55,359.09 L169.67,358.87 L170.81,358.66 L171.99,358.47 L173.20,358.30 L174.51,358.15 L175.95,358.02 L177.50,357.92 L179.11,357.83 L180.75,357.76 L182.39,357.71 L183.98,357.66 L185.49,357.62 L186.88,357.59 L188.12,357.56 L189.17,357.53 L190.00,357.50" stroke="#000" stroke-width="1.05"/>
<path d="M131.00,387.90 L131.08,387.87 L131.19,387.84 L131.31,387.80 L131.45,387.77 L131.61,387.72 L131.77,387.67 L131.93,387.62 L132.10,387.56 L132.27,387.48 L132.44,387.40 L132.60,387.31 L132.75,387.20 L132.89,387.08 L133.03,386.96 L133.16,386.83 L133.29,386.69 L133.42,386.54 L133.55,386.38 L133.68,386.21 L133.82,386.03 L133.97,385.84 L134.14,385.64 L134.31,385.43 L134.50,385.20 L134.70,384.97 L134.89,384.75 L135.08,384.53 L135.28,384.31 L135.49,384.08 L135.71,383.82 L135.95,383.55 L136.20,383.24 L136.48,382.90 L136.79,382.52 L137.13,382.09 L137.50,381.60 L137.91,381.04 L138.37,380.41 L138.86,379.71 L139.39,378.96 L139.93,378.18 L140.49,377.38 L141.07,376.56 L141.65,375.75 L142.23,374.95 L142.80,374.19 L143.36,373.47 L143.90,372.80 L144.42,372.18 L144.93,371.58 L145.42,371.00 L145.91,370.44 L146.40,369.89 L146.89,369.36 L147.40,368.85 L147.91,368.34 L148.44,367.85 L149.00,367.36 L149.58,366.88 L150.20,366.40 L150.84,365.93 L151.49,365.46 L152.16,365.01 L152.84,364.56 L153.54,364.12 L154.26,363.69 L155.00,363.28 L155.76,362.87 L156.55,362.48 L157.37,362.11 L158.22,361.75 L159.10,361.40 L160.01,361.07 L160.94,360.75 L161.89,360.44 L162.87,360.14 L163.88,359.86 L164.91,359.59 L165.96,359.33 L167.05,359.09 L168.17,358.87 L169.31,358.66 L170.49,358.47 L171.70,358.30 L173.01,358.15 L174.45,358.02 L176.00,357.92 L177.61,357.83 L179.25,357.76 L180.89,357.71 L182.48,357.66 L183.99,357.62 L185.38,357.59 L186.62,357.56 L187.67,357.53 L188.50,357.50" stroke="#000" stroke-width="0.8"/>
<path d="M131.00,387.90 L131.05,387.87 L131.11,387.84 L131.18,387.80 L131.26,387.77 L131.35,387.72 L131.44,387.67 L131.53,387.62 L131.63,387.56 L131.73,387.48 L131.82,387.40 L131.91,387.31 L132.00,387.20 L132.08,387.08 L132.14,386.96 L132.20,386.83 L132.26,386.69 L132.32,386.54 L132.38,386.38 L132.44,386.21 L132.52,386.03 L132.61,385.84 L132.72,385.64 L132.85,385.43 L133.00,385.20 L133.17,384.97 L133.34,384.75 L133.53,384.53 L133.73,384.31 L133.94,384.08 L134.16,383.82 L134.41,383.55 L134.67,383.24 L134.96,382.90 L135.28,382.52 L135.62,382.09 L136.00,381.60 L136.41,381.04 L136.87,380.41 L137.36,379.71 L137.89,378.96 L138.43,378.18 L138.99,377.38 L139.57,376.56 L140.15,375.75 L140.73,374.95 L141.30,374.19 L141.86,373.47 L142.40,372.80 L142.92,372.18 L143.43,371.58 L143.92,371.00 L144.41,370.44 L144.90,369.89 L145.39,369.36 L145.90,368.85 L146.41,368.34 L146.94,367.85 L147.50,367.36 L148.08,366.88 L148.70,366.40 L149.34,365.93 L149.99,365.46 L150.66,365.01 L151.34,364.56 L152.04,364.12 L152.76,363.69 L153.50,363.28 L154.26,362.87 L155.05,362.48 L155.87,362.11 L156.72,361.75 L157.60,361.40 L158.51,361.07 L159.44,360.75 L160.39,360.44 L161.37,360.14 L162.38,359.86 L163.41,359.59 L164.46,359.33 L165.55,359.09 L166.67,358.87 L167.81,358.66 L168.99,358.47 L170.20,358.30 L171.51,358.15 L172.95,358.02 L174.50,357.92 L176.11,357.83 L177.75,357.76 L179.39,357.71 L180.98,357.66 L182.49,357.62 L183.88,357.59 L185.12,357.56 L186.17,357.53 L187.00,357.50" stroke="#000" stroke-width="0.8"/>
<path d="M134.90,355.20 L134.94,356.03 L134.99,357.11 L135.04,358.38 L135.10,359.81 L135.17,361.35 L135.24,362.97 L135.32,364.63 L135.40,366.28 L135.47,367.88 L135.55,369.40 L135.63,370.78 L135.70,372.00 L135.77,373.09 L135.84,374.12 L135.90,375.11 L135.97,376.04 L136.03,376.93 L136.10,377.77 L136.17,378.57 L136.24,379.33 L136.32,380.05 L136.41,380.73 L136.50,381.38 L136.60,382.00 L136.71,382.58 L136.82,383.10 L136.93,383.58 L137.06,384.02 L137.18,384.42 L137.31,384.79 L137.45,385.12 L137.59,385.43 L137.73,385.72 L137.88,385.99 L138.04,386.25 L138.20,386.50 L138.37,386.73 L138.54,386.94 L138.72,387.12 L138.91,387.27 L139.10,387.41 L139.29,387.53 L139.49,387.62 L139.69,387.70 L139.89,387.77 L140.10,387.82 L140.30,387.87 L140.50,387.90 L140.70,387.92 L140.91,387.92 L141.11,387.91 L141.32,387.88 L141.53,387.83 L141.74,387.77 L141.95,387.70 L142.16,387.62 L142.37,387.53 L142.58,387.43 L142.79,387.32 L143.00,387.20 L143.21,387.07 L143.42,386.93 L143.63,386.78 L143.84,386.62 L144.05,386.45 L144.26,386.27 L144.47,386.08 L144.67,385.88 L144.88,385.67 L145.09,385.45 L145.30,385.23 L145.50,385.00 L145.69,384.77 L145.86,384.56 L146.02,384.35 L146.16,384.13 L146.31,383.91 L146.46,383.68 L146.63,383.42 L146.81,383.13 L147.03,382.82 L147.28,382.46 L147.56,382.06 L147.90,381.60 L148.29,381.08 L148.72,380.49 L149.20,379.85 L149.71,379.16 L150.24,378.43 L150.80,377.69 L151.37,376.93 L151.95,376.18 L152.53,375.44 L153.10,374.72 L153.66,374.04 L154.20,373.40 L154.73,372.80 L155.25,372.21 L155.76,371.64 L156.28,371.08 L156.80,370.53 L157.32,370.00 L157.84,369.48 L158.37,368.96 L158.91,368.46 L159.46,367.96 L160.02,367.48 L160.60,367.00 L161.18,366.53 L161.75,366.07 L162.33,365.61 L162.91,365.17 L163.49,364.73 L164.09,364.31 L164.71,363.89 L165.35,363.49 L166.01,363.10 L166.71,362.72 L167.43,362.35 L168.20,362.00 L168.99,361.66 L169.79,361.33 L170.60,361.01 L171.43,360.70 L172.28,360.40 L173.17,360.11 L174.09,359.84 L175.06,359.58 L176.08,359.34 L177.16,359.11 L178.29,358.90 L179.50,358.70 L180.85,358.52 L182.38,358.36 L184.05,358.22 L185.82,358.10 L187.63,357.99 L189.46,357.89 L191.24,357.81 L192.94,357.73 L194.51,357.67 L195.90,357.61 L197.08,357.55 L198.00,357.50" stroke="#000" stroke-width="1.05"/>
<path d="M140.50,387.90 L140.58,387.87 L140.69,387.84 L140.81,387.81 L140.95,387.77 L141.11,387.73 L141.27,387.69 L141.43,387.63 L141.60,387.57 L141.77,387.50 L141.94,387.41 L142.10,387.31 L142.25,387.20 L142.39,387.07 L142.53,386.93 L142.67,386.78 L142.81,386.62 L142.95,386.45 L143.08,386.27 L143.22,386.08 L143.37,385.88 L143.52,385.67 L143.67,385.45 L143.83,385.23 L144.00,385.00 L144.16,384.77 L144.32,384.56 L144.46,384.35 L144.61,384.13 L144.76,383.91 L144.92,383.68 L145.09,383.42 L145.29,383.13 L145.51,382.82 L145.77,382.46 L146.06,382.06 L146.40,381.60 L146.79,381.08 L147.22,380.49 L147.70,379.85 L148.21,379.16 L148.74,378.43 L149.30,377.69 L149.87,376.93 L150.45,376.18 L151.03,375.44 L151.60,374.72 L152.16,374.04 L152.70,373.40 L153.23,372.80 L153.75,372.21 L154.26,371.64 L154.78,371.08 L155.30,370.53 L155.82,370.00 L156.34,369.48 L156.87,368.96 L157.41,368.46 L157.96,367.96 L158.52,367.48 L159.10,367.00 L159.68,366.53 L160.25,366.07 L160.83,365.61 L161.41,365.17 L161.99,364.73 L162.59,364.31 L163.21,363.89 L163.85,363.49 L164.51,363.10 L165.21,362.72 L165.93,362.35 L166.70,362.00 L167.49,361.66 L168.29,361.33 L169.10,361.01 L169.93,360.70 L170.78,360.40 L171.67,360.11 L172.59,359.84 L173.56,359.58 L174.58,359.34 L175.66,359.11 L176.79,358.90 L178.00,358.70 L179.35,358.52 L180.88,358.36 L182.55,358.22 L184.32,358.10 L186.13,357.99 L187.96,357.89 L189.74,357.81 L191.44,357.73 L193.01,357.67 L194.40,357.61 L195.58,357.55 L196.50,357.50" stroke="#000" stroke-width="0.8"/>
<path d="M140.50,387.90 L140.55,387.87 L140.61,387.84 L140.68,387.81 L140.76,387.77 L140.85,387.73 L140.94,387.69 L141.03,387.63 L141.13,387.57 L141.23,387.50 L141.32,387.41 L141.41,387.31 L141.50,387.20 L141.58,387.07 L141.65,386.93 L141.72,386.78 L141.78,386.62 L141.85,386.45 L141.91,386.27 L141.98,386.08 L142.06,385.88 L142.15,385.67 L142.25,385.45 L142.37,385.23 L142.50,385.00 L142.64,384.77 L142.77,384.56 L142.91,384.35 L143.05,384.13 L143.20,383.91 L143.37,383.68 L143.55,383.42 L143.76,383.13 L143.99,382.82 L144.26,382.46 L144.56,382.06 L144.90,381.60 L145.29,381.08 L145.72,380.49 L146.20,379.85 L146.71,379.16 L147.24,378.43 L147.80,377.69 L148.37,376.93 L148.95,376.18 L149.53,375.44 L150.10,374.72 L150.66,374.04 L151.20,373.40 L151.73,372.80 L152.25,372.21 L152.76,371.64 L153.28,371.08 L153.80,370.53 L154.32,370.00 L154.84,369.48 L155.37,368.96 L155.91,368.46 L156.46,367.96 L157.02,367.48 L157.60,367.00 L158.18,366.53 L158.75,366.07 L159.33,365.61 L159.91,365.17 L160.49,364.73 L161.09,364.31 L161.71,363.89 L162.35,363.49 L163.01,363.10 L163.71,362.72 L164.43,362.35 L165.20,362.00 L165.99,361.66 L166.79,361.33 L167.60,361.01 L168.43,360.70 L169.28,360.40 L170.17,360.11 L171.09,359.84 L172.06,359.58 L173.08,359.34 L174.16,359.11 L175.29,358.90 L176.50,358.70 L177.85,358.52 L179.38,358.36 L181.05,358.22 L182.82,358.10 L184.63,357.99 L186.46,357.89 L188.24,357.81 L189.94,357.73 L191.51,357.67 L192.90,357.61 L194.08,357.55 L195.00,357.50" stroke="#000" stroke-width="0.8"/>
<path d="M143.30,354.10 L143.34,354.89 L143.39,355.90 L143.45,357.10 L143.52,358.44 L143.60,359.90 L143.68,361.43 L143.76,362.99 L143.84,364.55 L143.93,366.07 L144.02,367.51 L144.11,368.83 L144.20,370.00 L144.29,371.06 L144.37,372.07 L144.46,373.04 L144.55,373.96 L144.64,374.85 L144.73,375.69 L144.83,376.50 L144.93,377.27 L145.04,378.00 L145.15,378.70 L145.27,379.37 L145.40,380.00 L145.54,380.59 L145.67,381.13 L145.82,381.62 L145.97,382.07 L146.12,382.49 L146.28,382.87 L146.45,383.23 L146.62,383.56 L146.80,383.88 L146.99,384.19 L147.19,384.50 L147.40,384.80 L147.62,385.10 L147.85,385.39 L148.09,385.66 L148.33,385.92 L148.59,386.16 L148.85,386.39 L149.12,386.59 L149.39,386.78 L149.66,386.95 L149.94,387.09 L150.22,387.21 L150.50,387.30 L150.78,387.37 L151.06,387.41 L151.34,387.44 L151.62,387.44 L151.91,387.42 L152.20,387.38 L152.50,387.32 L152.80,387.24 L153.11,387.13 L153.43,387.01 L153.76,386.86 L154.10,386.70 L154.46,386.51 L154.83,386.29 L155.22,386.04 L155.63,385.77 L156.04,385.48 L156.45,385.17 L156.86,384.84 L157.27,384.51 L157.68,384.16 L158.07,383.81 L158.44,383.46 L158.80,383.10 L159.14,382.74 L159.46,382.36 L159.78,381.98 L160.08,381.58 L160.38,381.18 L160.67,380.77 L160.96,380.35 L161.24,379.92 L161.53,379.49 L161.81,379.06 L162.10,378.63 L162.40,378.20 L162.69,377.77 L162.98,377.33 L163.26,376.89 L163.54,376.45 L163.82,376.01 L164.10,375.56 L164.39,375.11 L164.68,374.65 L164.99,374.18 L165.31,373.71 L165.64,373.23 L166.00,372.75 L166.38,372.25 L166.77,371.72 L167.19,371.18 L167.61,370.63 L168.05,370.07 L168.50,369.51 L168.95,368.96 L169.41,368.42 L169.86,367.89 L170.31,367.40 L170.76,366.93 L171.20,366.50 L171.63,366.10 L172.07,365.73 L172.50,365.38 L172.94,365.04 L173.37,364.73 L173.81,364.43 L174.24,364.15 L174.67,363.88 L175.11,363.63 L175.54,363.38 L175.97,363.14 L176.40,362.90 L176.82,362.68 L177.23,362.47 L177.63,362.28 L178.03,362.11 L178.42,361.94 L178.82,361.79 L179.22,361.64 L179.64,361.49 L180.07,361.35 L180.52,361.20 L181.00,361.05 L181.50,360.90 L182.03,360.74 L182.58,360.58 L183.15,360.42 L183.74,360.26 L184.34,360.10 L184.96,359.94 L185.58,359.79 L186.22,359.64 L186.86,359.50 L187.51,359.36 L188.15,359.22 L188.80,359.10 L189.43,358.98 L190.04,358.87 L190.63,358.76 L191.21,358.66 L191.81,358.56 L192.42,358.47 L193.06,358.38 L193.73,358.30 L194.45,358.22 L195.23,358.14 L196.08,358.07 L197.00,358.00 L198.06,357.94 L199.28,357.88 L200.62,357.82 L202.05,357.77 L203.53,357.72 L205.01,357.68 L206.47,357.64 L207.86,357.61 L209.15,357.58 L210.29,357.55 L211.25,357.52 L212.00,357.50" stroke="#000" stroke-width="1.05"/>
<path d="M150.50,387.30 L150.63,387.28 L150.80,387.27 L150.99,387.26 L151.20,387.26 L151.43,387.24 L151.68,387.22 L151.94,387.19 L152.21,387.14 L152.49,387.07 L152.78,386.98 L153.06,386.86 L153.35,386.70 L153.64,386.51 L153.95,386.29 L154.27,386.04 L154.60,385.77 L154.94,385.48 L155.28,385.17 L155.62,384.84 L155.97,384.51 L156.31,384.16 L156.65,383.81 L156.98,383.46 L157.30,383.10 L157.61,382.74 L157.92,382.36 L158.22,381.98 L158.53,381.58 L158.82,381.18 L159.12,380.77 L159.42,380.35 L159.71,379.92 L160.01,379.49 L160.30,379.06 L160.60,378.63 L160.90,378.20 L161.19,377.77 L161.48,377.33 L161.76,376.89 L162.04,376.45 L162.32,376.01 L162.60,375.56 L162.89,375.11 L163.18,374.65 L163.49,374.18 L163.81,373.71 L164.14,373.23 L164.50,372.75 L164.88,372.25 L165.27,371.72 L165.69,371.18 L166.11,370.63 L166.55,370.07 L167.00,369.51 L167.45,368.96 L167.91,368.42 L168.36,367.89 L168.81,367.40 L169.26,366.93 L169.70,366.50 L170.13,366.10 L170.57,365.73 L171.00,365.38 L171.44,365.04 L171.87,364.73 L172.31,364.43 L172.74,364.15 L173.17,363.88 L173.61,363.63 L174.04,363.38 L174.47,363.14 L174.90,362.90 L175.32,362.68 L175.73,362.47 L176.13,362.28 L176.53,362.11 L176.92,361.94 L177.32,361.79 L177.72,361.64 L178.14,361.49 L178.57,361.35 L179.02,361.20 L179.50,361.05 L180.00,360.90 L180.53,360.74 L181.08,360.58 L181.65,360.42 L182.24,360.26 L182.84,360.10 L183.46,359.94 L184.08,359.79 L184.72,359.64 L185.36,359.50 L186.01,359.36 L186.65,359.22 L187.30,359.10 L187.93,358.98 L188.54,358.87 L189.13,358.76 L189.71,358.66 L190.31,358.56 L190.92,358.47 L191.56,358.38 L192.23,358.30 L192.95,358.22 L193.73,358.14 L194.58,358.07 L195.50,358.00 L196.56,357.94 L197.78,357.88 L199.12,357.82 L200.55,357.77 L202.03,357.72 L203.51,357.68 L204.97,357.64 L206.36,357.61 L207.65,357.58 L208.79,357.55 L209.75,357.52 L210.50,357.50" stroke="#000" stroke-width="0.8"/>
<path d="M150.50,387.30 L150.60,387.28 L150.72,387.27 L150.85,387.26 L151.00,387.26 L151.17,387.24 L151.35,387.22 L151.54,387.19 L151.74,387.14 L151.95,387.07 L152.16,386.98 L152.38,386.86 L152.60,386.70 L152.83,386.51 L153.07,386.29 L153.31,386.04 L153.57,385.77 L153.84,385.48 L154.11,385.17 L154.38,384.84 L154.66,384.51 L154.95,384.16 L155.23,383.81 L155.52,383.46 L155.80,383.10 L156.09,382.74 L156.38,382.36 L156.67,381.98 L156.97,381.58 L157.27,381.18 L157.57,380.77 L157.88,380.35 L158.19,379.92 L158.49,379.49 L158.80,379.06 L159.10,378.63 L159.40,378.20 L159.69,377.77 L159.98,377.33 L160.26,376.89 L160.54,376.45 L160.82,376.01 L161.10,375.56 L161.39,375.11 L161.68,374.65 L161.99,374.18 L162.31,373.71 L162.64,373.23 L163.00,372.75 L163.38,372.25 L163.77,371.72 L164.19,371.18 L164.61,370.63 L165.05,370.07 L165.50,369.51 L165.95,368.96 L166.41,368.42 L166.86,367.89 L167.31,367.40 L167.76,366.93 L168.20,366.50 L168.63,366.10 L169.07,365.73 L169.50,365.38 L169.94,365.04 L170.37,364.73 L170.81,364.43 L171.24,364.15 L171.67,363.88 L172.11,363.63 L172.54,363.38 L172.97,363.14 L173.40,362.90 L173.82,362.68 L174.23,362.47 L174.63,362.28 L175.03,362.11 L175.42,361.94 L175.82,361.79 L176.22,361.64 L176.64,361.49 L177.07,361.35 L177.52,361.20 L178.00,361.05 L178.50,360.90 L179.03,360.74 L179.58,360.58 L180.15,360.42 L180.74,360.26 L181.34,360.10 L181.96,359.94 L182.58,359.79 L183.22,359.64 L183.86,359.50 L184.51,359.36 L185.15,359.22 L185.80,359.10 L186.43,358.98 L187.04,358.87 L187.63,358.76 L188.21,358.66 L188.81,358.56 L189.42,358.47 L190.06,358.38 L190.73,358.30 L191.45,358.22 L192.23,358.14 L193.08,358.07 L194.00,358.00 L195.06,357.94 L196.28,357.88 L197.62,357.82 L199.05,357.77 L200.53,357.72 L202.01,357.68 L203.47,357.64 L204.86,357.61 L206.15,357.58 L207.29,357.55 L208.25,357.52 L209.00,357.50" stroke="#000" stroke-width="0.8"/>
<path d="M300.60,357.00 L301.10,340.00 L302.10,296.00 L302.70,285.40 L303.00,284.00" stroke="#000" stroke-width="0.95"/>
<path d="M303.10,283.90 L303.35,284.82 L303.60,286.23 L303.85,287.87 L304.10,289.68 L304.35,291.60 L304.60,293.60 L304.85,295.65 L305.10,297.74 L305.35,299.84 L305.60,301.95 L305.85,304.04 L306.10,306.12 L306.35,308.18 L306.60,310.20 L306.85,312.19 L307.10,314.13 L307.35,316.03 L307.60,317.88 L307.85,319.68 L308.10,321.43 L308.35,323.12 L308.60,324.75 L308.85,326.33 L309.10,327.85 L309.35,329.32 L309.60,330.72 L309.85,332.08 L310.10,333.37 L310.35,334.61 L310.60,335.80 L310.85,336.94 L311.10,338.02 L311.35,339.06 L311.60,340.04 L311.85,340.98 L312.10,341.87 L312.35,342.72 L312.60,343.52 L312.85,344.29 L313.10,345.01 L313.35,345.70 L313.60,346.35 L313.85,346.96 L314.10,347.54 L314.35,348.09 L314.60,348.61 L314.85,349.09 L315.10,349.55 L315.35,349.99 L315.60,350.39 L315.85,350.78 L316.10,351.14 L316.35,351.48 L316.60,351.79 L316.85,352.09 L317.10,352.37 L317.35,352.64 L317.60,352.88 L317.85,353.11 L318.10,353.33 L318.35,353.53 L318.60,353.72 L318.85,353.89 L319.10,354.06 L319.35,354.21 L319.60,354.36 L319.85,354.49 L320.10,354.61 L320.35,354.73 L320.60,354.84 L320.85,354.94 L321.10,355.03 L321.35,355.12 L321.60,355.20 L321.85,355.28 L322.10,355.35 L322.35,355.41 L322.60,355.47 L322.85,355.53 L323.10,355.58 L323.35,355.63 L323.60,355.67 L323.85,355.71 L324.10,355.75 L324.35,355.79 L324.60,355.82 L324.85,355.85 L325.10,355.88 L325.35,355.90 L325.60,355.93 L325.85,355.95 L326.10,355.97 L326.35,355.99 L326.60,356.00 L326.85,356.02 L327.10,356.04 L327.35,356.05 L327.60,356.06 L327.85,356.07 L328.10,356.08 L328.35,356.09 L328.60,356.10 L328.85,356.11 L329.10,356.12 L329.35,356.12 L329.60,356.13 L329.85,356.14" stroke="#000" stroke-width="1.7"/>
<path d="M303.70,283.90 L303.95,284.82 L304.20,286.23 L304.45,287.87 L304.70,289.68 L304.95,291.60 L305.20,293.60 L305.45,295.65 L305.70,297.74 L305.95,299.84 L306.20,301.95 L306.45,304.04 L306.70,306.12 L306.95,308.18 L307.20,310.20 L307.45,312.19 L307.70,314.13 L307.95,316.03 L308.20,317.88 L308.45,319.68 L308.70,321.43 L308.95,323.12 L309.20,324.75 L309.45,326.33 L309.70,327.85 L309.95,329.32 L310.20,330.72 L310.45,332.08 L310.70,333.37 L310.95,334.61 L311.20,335.80 L311.45,336.94 L311.70,338.02 L311.95,339.06 L312.20,340.04 L312.45,340.98 L312.70,341.87 L312.95,342.72 L313.20,343.52 L313.45,344.29 L313.70,345.01 L313.95,345.70 L314.20,346.35 L314.45,346.96 L314.70,347.54 L314.95,348.09 L315.20,348.61 L315.45,349.09 L315.70,349.55 L315.95,349.99 L316.20,350.39 L316.45,350.78 L316.70,351.14 L316.95,351.48 L317.20,351.79 L317.45,352.09 L317.70,352.37 L317.95,352.64 L318.20,352.88 L318.45,353.11 L318.70,353.33 L318.95,353.53 L319.20,353.72 L319.45,353.89 L319.70,354.06 L319.95,354.21 L320.20,354.36 L320.45,354.49 L320.70,354.61 L320.95,354.73 L321.20,354.84 L321.45,354.94 L321.70,355.03 L321.95,355.12 L322.20,355.20 L322.45,355.28 L322.70,355.35 L322.95,355.41 L323.20,355.47 L323.45,355.53 L323.70,355.58 L323.95,355.63 L324.20,355.67 L324.45,355.71 L324.70,355.75 L324.95,355.79 L325.20,355.82 L325.45,355.85 L325.70,355.88 L325.95,355.90 L326.20,355.93 L326.45,355.95 L326.70,355.97 L326.95,355.99 L327.20,356.00 L327.45,356.02 L327.70,356.04 L327.95,356.05 L328.20,356.06 L328.45,356.07 L328.70,356.08 L328.95,356.09 L329.20,356.10 L329.45,356.11 L329.70,356.12 L329.95,356.12 L330.20,356.13 L330.45,356.14" stroke="#000" stroke-width="0.9"/>
<path d="M316.00,359.70 L350.00,359.60" stroke="#000" stroke-width="0.9"/>
<path d="M303.40,285.00 L305.50,365.00 L307.00,411.80" stroke="#111" stroke-width="0.85"/>
<path d="M307.00,411.80 L307.03,411.34 L307.06,410.78 L307.10,410.14 L307.14,409.41 L307.19,408.62 L307.24,407.78 L307.29,406.88 L307.35,405.94 L307.41,404.98 L307.47,403.99 L307.53,402.99 L307.60,402.00 L307.67,400.97 L307.74,399.89 L307.81,398.75 L307.89,397.57 L307.97,396.36 L308.05,395.14 L308.13,393.90 L308.22,392.67 L308.31,391.46 L308.41,390.27 L308.50,389.11 L308.60,388.00 L308.70,386.92 L308.81,385.84 L308.92,384.78 L309.03,383.72 L309.14,382.68 L309.26,381.66 L309.38,380.65 L309.50,379.67 L309.63,378.71 L309.75,377.77 L309.88,376.87 L310.00,376.00 L310.12,375.16 L310.25,374.34 L310.37,373.55 L310.50,372.78 L310.63,372.03 L310.76,371.31 L310.89,370.62 L311.02,369.94 L311.16,369.30 L311.30,368.67 L311.45,368.07 L311.60,367.50 L311.76,366.95 L311.92,366.43 L312.09,365.94 L312.26,365.47 L312.43,365.02 L312.61,364.60 L312.79,364.20 L312.97,363.82 L313.15,363.46 L313.33,363.12 L313.52,362.80 L313.70,362.50 L313.88,362.22 L314.05,361.96 L314.22,361.74 L314.39,361.53 L314.56,361.34 L314.73,361.18 L314.91,361.02 L315.10,360.88 L315.30,360.75 L315.52,360.63 L315.75,360.51 L316.00,360.40 L316.27,360.30 L316.55,360.21 L316.83,360.13 L317.13,360.07 L317.44,360.02 L317.77,359.97 L318.11,359.94 L318.46,359.91 L318.82,359.88 L319.20,359.85 L319.59,359.83 L320.00,359.80 L320.45,359.77 L320.95,359.75 L321.50,359.74 L322.07,359.73 L322.66,359.72 L323.25,359.71 L323.82,359.71 L324.37,359.71 L324.88,359.71 L325.32,359.71 L325.70,359.70 L326.00,359.70" stroke="#000" stroke-width="1.6"/>
<path d="M318.50,356.00 L320.00,375.60" stroke="#222" stroke-width="0.8"/>
<path d="M320.00,375.60 L320.04,375.49 L320.08,375.35 L320.13,375.19 L320.18,375.01 L320.24,374.82 L320.31,374.61 L320.38,374.39 L320.45,374.16 L320.53,373.93 L320.62,373.69 L320.71,373.44 L320.80,373.20 L320.90,372.95 L321.00,372.68 L321.11,372.41 L321.22,372.12 L321.34,371.82 L321.46,371.52 L321.59,371.22 L321.72,370.93 L321.86,370.63 L322.00,370.34 L322.15,370.07 L322.30,369.80 L322.46,369.54 L322.62,369.28 L322.79,369.03 L322.97,368.78 L323.15,368.53 L323.34,368.29 L323.53,368.05 L323.72,367.82 L323.91,367.60 L324.11,367.39 L324.30,367.19 L324.50,367.00 L324.69,366.82 L324.88,366.66 L325.07,366.50 L325.26,366.35 L325.44,366.21 L325.64,366.08 L325.84,365.96 L326.04,365.84 L326.26,365.72 L326.49,365.61 L326.74,365.51 L327.00,365.40 L327.29,365.30 L327.63,365.20 L327.99,365.10 L328.37,365.01 L328.76,364.93 L329.16,364.85 L329.54,364.78 L329.91,364.71 L330.25,364.65 L330.55,364.59 L330.80,364.54 L331.00,364.50" stroke="#000" stroke-width="1.5"/>
<path d="M332.90,364.50 L332.30,372.20" stroke="#000" stroke-width="1.0"/>
<path d="M350.20,364.00 L349.50,371.80" stroke="#000" stroke-width="1.0"/>
<path d="M517.00,356.30 L531.20,356.30" stroke="#000" stroke-width="1.1"/>
<path d="M530.50,356.30 L531.00,340.00 L531.90,310.00 L532.40,303.60 L532.70,302.60" stroke="#000" stroke-width="0.95"/>
<path d="M532.70,302.60 L532.95,304.05 L533.20,305.99 L533.45,308.11 L533.70,310.31 L533.95,312.55 L534.20,314.78 L534.45,316.98 L534.70,319.14 L534.95,321.24 L535.20,323.28 L535.45,325.24 L535.70,327.12 L535.95,328.93 L536.20,330.65 L536.45,332.29 L536.70,333.84 L536.95,335.32 L537.20,336.71 L537.45,338.03 L537.70,339.27 L537.95,340.44 L538.20,341.54 L538.45,342.57 L538.70,343.53 L538.95,344.44 L539.20,345.28 L539.45,346.07 L539.70,346.81 L539.95,347.49 L540.20,348.13 L540.45,348.72 L540.70,349.27 L540.95,349.78 L541.20,350.26 L541.45,350.69 L541.70,351.10 L541.95,351.48 L542.20,351.82 L542.45,352.14 L542.70,352.44 L542.95,352.71 L543.20,352.96 L543.45,353.20 L543.70,353.41 L543.95,353.61 L544.20,353.79 L544.45,353.95 L544.70,354.10 L544.95,354.24 L545.20,354.37 L545.45,354.49 L545.70,354.60 L545.95,354.69 L546.20,354.78 L546.45,354.87 L546.70,354.94 L546.95,355.01 L547.20,355.07 L547.45,355.13 L547.70,355.18 L547.95,355.23 L548.20,355.27 L548.45,355.31 L548.70,355.35 L548.95,355.38 L549.20,355.41 L549.45,355.44 L549.70,355.46 L549.95,355.49 L550.20,355.51 L550.45,355.53 L550.70,355.54 L550.95,355.56 L551.20,355.57 L551.45,355.58 L551.70,355.59 L551.95,355.61 L552.20,355.61 L552.45,355.62 L552.70,355.63 L552.95,355.64 L553.20,355.64 L553.45,355.65 L553.70,355.65 L553.95,355.66 L554.20,355.66 L554.45,355.67 L554.70,355.67 L554.95,355.67 L555.20,355.68 L555.45,355.68 L555.70,355.68 L555.95,355.68 L556.20,355.68 L556.45,355.69 L556.70,355.69 L556.95,355.69 L557.20,355.69 L557.45,355.69 L557.70,355.69 L557.95,355.69 L558.20,355.69 L558.45,355.69 L558.70,355.69 L558.95,355.70 L559.20,355.70 L559.45,355.70 L559.70,355.70 L559.95,355.70" stroke="#000" stroke-width="1.45"/>
<path d="M545.00,355.70 L655.50,355.30" stroke="#000" stroke-width="2.0"/>
<path d="M655.00,355.90 L711.00,355.50" stroke="#000" stroke-width="1.1"/>
<path d="M533.00,303.50 L536.10,405.10" stroke="#000" stroke-width="0.95"/>
<path d="M547.50,355.00 L550.00,430.00" stroke="#000" stroke-width="0.95"/>
<path d="M561.25,355.00 L563.40,430.10" stroke="#000" stroke-width="0.95"/>
<path d="M574.50,355.00 L576.90,429.50" stroke="#000" stroke-width="0.95"/>
<path d="M588.00,355.00 L590.40,429.50" stroke="#000" stroke-width="0.95"/>
<path d="M601.50,355.00 L603.90,429.50" stroke="#000" stroke-width="0.95"/>
<path d="M615.00,355.00 L617.40,429.50" stroke="#000" stroke-width="0.95"/>
<path d="M628.50,355.00 L630.50,429.50" stroke="#000" stroke-width="0.95"/>
<path d="M642.00,355.00 L644.20,429.50" stroke="#000" stroke-width="0.95"/>
<path d="M655.50,355.00 L657.40,429.50" stroke="#000" stroke-width="0.95"/>
</g>
<g fill="#000" stroke="none">
<path d="M92.50,128.55 L93.00,128.30 L93.50,128.21 L94.00,128.17 L94.50,128.03 L95.00,127.89 L95.50,127.79 L96.00,127.82 L96.50,127.66 L97.00,127.65 L97.50,127.40 L98.00,127.45 L98.50,127.67 L99.00,127.61 L99.50,127.61 L100.00,127.44 L100.50,127.46 L101.00,127.54 L101.50,127.35 L102.00,127.45 L102.50,127.39 L103.00,127.22 L103.50,127.39 L104.00,127.29 L104.50,127.18 L105.00,127.00 L105.50,127.25 L106.00,127.28 L106.50,127.26 L107.00,127.03 L107.50,126.94 L108.00,127.02 L108.50,127.04 L109.00,126.89 L109.50,127.03 L110.00,127.09 L110.50,126.92 L111.00,126.80 L111.50,126.96 L112.00,126.99 L112.50,126.96 L113.00,126.95 L113.50,126.92 L114.00,126.86 L114.50,126.89 L115.00,126.77 L115.50,126.62 L116.00,126.81 L116.50,126.77 L117.00,126.47 L117.50,126.77 L118.00,126.74 L118.50,126.62 L119.00,126.72 L119.50,126.65 L120.00,126.36 L120.50,126.57 L121.00,126.48 L121.50,126.34 L122.00,126.34 L122.50,126.53 L123.00,126.56 L123.50,126.54 L124.00,126.51 L124.50,126.47 L125.00,126.49 L125.50,126.48 L126.00,126.49 L126.50,126.35 L127.00,126.46 L127.50,126.44 L128.00,126.23 L128.50,126.41 L129.00,126.48 L129.50,126.44 L130.00,126.24 L130.50,126.48 L131.00,126.38 L131.50,126.37 L132.00,126.38 L132.50,126.21 L133.00,126.45 L133.50,126.46 L134.00,126.37 L134.50,126.43 L135.00,126.24 L135.50,126.22 L136.00,126.24 L136.50,126.45 L137.00,126.42 L137.50,126.47 L138.00,126.44 L138.50,126.15 L139.00,126.16 L139.50,126.15 L140.00,126.45 L140.50,126.45 L141.00,126.33 L141.50,126.21 L142.00,126.31 L142.50,126.46 L143.00,126.17 L143.50,126.26 L144.00,126.45 L144.50,126.42 L145.00,126.13 L145.50,126.40 L146.00,126.27 L146.50,126.45 L147.00,126.17 L147.50,126.44 L148.00,126.11 L148.50,126.41 L149.00,126.44 L149.50,126.12 L150.00,126.35 L150.50,126.38 L151.00,126.21 L151.50,126.42 L152.00,126.42 L152.50,126.42 L153.00,126.44 L153.50,126.40 L154.00,126.32 L154.50,126.38 L155.00,126.35 L155.50,126.34 L156.00,126.37 L156.50,126.44 L157.00,126.43 L157.50,126.25 L158.00,126.40 L158.50,126.33 L159.00,126.43 L159.50,126.41 L160.00,126.22 L160.50,126.32 L161.00,126.14 L161.50,126.30 L162.00,126.34 L162.50,126.36 L163.00,126.35 L163.50,126.26 L164.00,126.12 L164.50,126.32 L165.00,126.18 L165.50,126.42 L166.00,126.42 L166.50,126.42 L167.00,126.21 L167.50,126.41 L168.00,126.27 L168.50,126.15 L169.00,126.40 L169.50,126.36 L170.00,126.07 L170.50,126.41 L171.00,126.32 L171.50,126.40 L172.00,126.23 L172.50,126.31 L173.00,126.41 L173.50,126.27 L174.00,126.41 L174.50,126.19 L175.00,126.40 L175.50,126.41 L176.00,126.38 L176.50,126.34 L177.00,126.17 L177.50,126.40 L178.00,126.29 L178.50,126.40 L179.00,126.24 L179.50,126.40 L180.00,126.26 L180.50,126.40 L181.00,126.40 L181.50,126.33 L182.00,126.29 L182.50,126.37 L183.00,126.30 L183.50,126.39 L184.00,126.39 L184.50,126.36 L185.00,126.19 L185.50,126.30 L186.00,126.35 L186.50,126.37 L187.00,126.20 L187.50,126.38 L188.00,126.08 L188.50,126.15 L189.00,126.30 L189.50,126.33 L190.00,126.22 L190.50,126.34 L191.00,126.21 L191.50,126.33 L192.00,126.38 L192.50,126.38 L193.00,126.36 L193.50,126.38 L194.00,126.11 L194.50,126.35 L195.00,126.35 L195.50,126.37 L196.00,126.35 L196.50,126.04 L197.00,126.35 L197.50,126.34 L198.00,126.37 L198.50,126.29 L199.00,126.36 L199.50,126.37 L200.00,126.37 L200.50,126.37 L201.00,126.34 L201.50,126.25 L202.00,126.17 L202.50,126.19 L203.00,126.31 L203.50,126.02 L204.00,126.18 L204.50,126.36 L205.00,126.08 L205.50,126.17 L206.00,126.35 L206.50,126.27 L207.00,126.13 L207.50,126.24 L208.00,126.19 L208.50,126.34 L209.00,126.35 L209.50,126.35 L210.00,126.24 L210.50,126.22 L211.00,126.27 L211.50,126.13 L212.00,126.26 L212.50,126.20 L213.00,126.16 L213.50,126.35 L214.00,126.16 L214.50,126.15 L215.00,126.26 L215.50,126.26 L216.00,126.14 L216.50,126.20 L217.00,126.33 L217.50,126.15 L218.00,126.23 L218.50,126.34 L219.00,126.18 L219.50,126.18 L220.00,126.24 L220.50,126.26 L221.00,126.06 L221.50,126.00 L222.00,126.33 L222.50,126.10 L223.00,126.26 L223.50,126.32 L224.00,126.32 L224.50,126.32 L225.00,126.01 L225.50,126.09 L226.00,126.05 L226.50,126.31 L227.00,126.24 L227.50,126.33 L228.00,126.25 L228.50,126.32 L229.00,126.29 L229.50,126.32 L230.00,126.08 L230.50,126.02 L231.00,126.04 L231.50,126.27 L232.00,125.97 L232.50,126.27 L233.00,126.29 L233.50,126.31 L234.00,126.29 L234.50,126.29 L235.00,126.22 L235.50,126.26 L236.00,126.04 L236.50,126.17 L237.00,126.00 L237.50,126.13 L238.00,126.12 L238.50,126.11 L239.00,126.28 L239.50,126.01 L240.00,126.23 L240.50,126.27 L241.00,125.97 L241.50,126.15 L242.00,126.19 L242.50,126.29 L243.00,126.29 L243.50,126.21 L244.00,126.01 L244.50,126.23 L245.00,126.29 L245.50,126.26 L246.00,126.28 L246.50,126.18 L247.00,126.10 L247.50,126.23 L248.00,126.24 L248.50,126.29 L249.00,125.96 L249.50,126.20 L250.00,126.03 L250.50,126.26 L251.00,126.23 L251.50,125.97 L251.50,129.66 L251.00,129.48 L250.50,129.43 L250.00,129.43 L249.50,129.55 L249.00,129.42 L248.50,129.44 L248.00,129.45 L247.50,129.51 L247.00,129.47 L246.50,129.69 L246.00,129.44 L245.50,129.42 L245.00,129.42 L244.50,129.42 L244.00,129.76 L243.50,129.43 L243.00,129.70 L242.50,129.42 L242.00,129.47 L241.50,129.44 L241.00,129.44 L240.50,129.60 L240.00,129.45 L239.50,129.42 L239.00,129.41 L238.50,129.56 L238.00,129.48 L237.50,129.41 L237.00,129.52 L236.50,129.70 L236.00,129.64 L235.50,129.73 L235.00,129.43 L234.50,129.44 L234.00,129.72 L233.50,129.66 L233.00,129.41 L232.50,129.48 L232.00,129.53 L231.50,129.47 L231.00,129.44 L230.50,129.59 L230.00,129.42 L229.50,129.61 L229.00,129.66 L228.50,129.45 L228.00,129.44 L227.50,129.50 L227.00,129.41 L226.50,129.69 L226.00,129.59 L225.50,129.50 L225.00,129.42 L224.50,129.51 L224.00,129.53 L223.50,129.73 L223.00,129.44 L222.50,129.74 L222.00,129.49 L221.50,129.72 L221.00,129.43 L220.50,129.42 L220.00,129.49 L219.50,129.44 L219.00,129.58 L218.50,129.44 L218.00,129.41 L217.50,129.44 L217.00,129.44 L216.50,129.41 L216.00,129.55 L215.50,129.58 L215.00,129.46 L214.50,129.75 L214.00,129.43 L213.50,129.44 L213.00,129.43 L212.50,129.41 L212.00,129.51 L211.50,129.61 L211.00,129.41 L210.50,129.57 L210.00,129.55 L209.50,129.66 L209.00,129.46 L208.50,129.41 L208.00,129.58 L207.50,129.69 L207.00,129.65 L206.50,129.66 L206.00,129.51 L205.50,129.64 L205.00,129.55 L204.50,129.66 L204.00,129.56 L203.50,129.42 L203.00,129.45 L202.50,129.68 L202.00,129.56 L201.50,129.51 L201.00,129.43 L200.50,129.41 L200.00,129.47 L199.50,129.44 L199.00,129.50 L198.50,129.50 L198.00,129.46 L197.50,129.46 L197.00,129.74 L196.50,129.52 L196.00,129.74 L195.50,129.48 L195.00,129.49 L194.50,129.43 L194.00,129.57 L193.50,129.66 L193.00,129.42 L192.50,129.60 L192.00,129.42 L191.50,129.45 L191.00,129.55 L190.50,129.65 L190.00,129.75 L189.50,129.50 L189.00,129.66 L188.50,129.48 L188.00,129.42 L187.50,129.49 L187.00,129.52 L186.50,129.41 L186.00,129.41 L185.50,129.42 L185.00,129.44 L184.50,129.45 L184.00,129.43 L183.50,129.42 L183.00,129.43 L182.50,129.42 L182.00,129.71 L181.50,129.45 L181.00,129.67 L180.50,129.67 L180.00,129.64 L179.50,129.72 L179.00,129.48 L178.50,129.41 L178.00,129.58 L177.50,129.71 L177.00,129.44 L176.50,129.70 L176.00,129.42 L175.50,129.62 L175.00,129.44 L174.50,129.74 L174.00,129.75 L173.50,129.50 L173.00,129.45 L172.50,129.48 L172.00,129.41 L171.50,129.45 L171.00,129.45 L170.50,129.48 L170.00,129.66 L169.50,129.50 L169.00,129.73 L168.50,129.74 L168.00,129.42 L167.50,129.59 L167.00,129.69 L166.50,129.57 L166.00,129.43 L165.50,129.48 L165.00,129.42 L164.50,129.72 L164.00,129.44 L163.50,129.68 L163.00,129.72 L162.50,129.51 L162.00,129.58 L161.50,129.50 L161.00,129.48 L160.50,129.61 L160.00,129.50 L159.50,129.44 L159.00,129.52 L158.50,129.63 L158.00,129.51 L157.50,129.52 L157.00,129.49 L156.50,129.64 L156.00,129.42 L155.50,129.41 L155.00,129.51 L154.50,129.71 L154.00,129.70 L153.50,129.49 L153.00,129.70 L152.50,129.47 L152.00,129.53 L151.50,129.44 L151.00,129.43 L150.50,129.68 L150.00,129.72 L149.50,129.56 L149.00,129.41 L148.50,129.52 L148.00,129.56 L147.50,129.65 L147.00,129.64 L146.50,129.42 L146.00,129.42 L145.50,129.73 L145.00,129.47 L144.50,129.64 L144.00,129.63 L143.50,129.49 L143.00,129.63 L142.50,129.57 L142.00,129.64 L141.50,129.49 L141.00,129.70 L140.50,129.43 L140.00,129.43 L139.50,129.46 L139.00,129.75 L138.50,129.48 L138.00,129.58 L137.50,129.44 L137.00,129.41 L136.50,129.51 L136.00,129.60 L135.50,129.64 L135.00,129.75 L134.50,129.43 L134.00,129.62 L133.50,129.62 L133.00,129.46 L132.50,129.58 L132.00,129.75 L131.50,129.41 L131.00,129.42 L130.50,129.73 L130.00,129.42 L129.50,129.44 L129.00,129.42 L128.50,129.49 L128.00,129.76 L127.50,129.42 L127.00,129.45 L126.50,129.42 L126.00,129.68 L125.50,129.46 L125.00,129.42 L124.50,129.41 L124.00,129.42 L123.50,129.41 L123.00,129.55 L122.50,129.47 L122.00,129.64 L121.50,129.63 L121.00,129.41 L120.50,129.55 L120.00,129.58 L119.50,129.52 L119.00,129.47 L118.50,129.44 L118.00,129.49 L117.50,129.43 L117.00,129.42 L116.50,129.69 L116.00,129.47 L115.50,129.67 L115.00,129.69 L114.50,129.48 L114.00,129.68 L113.50,129.43 L113.00,129.62 L112.50,129.42 L112.00,129.49 L111.50,129.57 L111.00,129.44 L110.50,129.76 L110.00,129.58 L109.50,129.57 L109.00,129.72 L108.50,129.49 L108.00,129.54 L107.50,129.45 L107.00,129.53 L106.50,129.57 L106.00,129.50 L105.50,129.61 L105.00,129.42 L104.50,129.44 L104.00,129.68 L103.50,129.53 L103.00,129.58 L102.50,129.44 L102.00,129.53 L101.50,129.48 L101.00,129.43 L100.50,129.41 L100.00,129.46 L99.50,129.52 L99.00,129.63 L98.50,129.39 L98.00,129.40 L97.50,129.36 L97.00,129.41 L96.50,129.66 L96.00,129.35 L95.50,129.56 L95.00,129.32 L94.50,129.28 L94.00,129.20 L93.50,129.06 L93.00,128.91 L92.50,128.82Z"/>
<path d="M91.40,182.40 L91.42,181.80 L91.45,181.23 L91.48,180.50 L91.51,179.64 L91.54,178.68 L91.57,177.63 L91.60,176.53 L91.63,175.39 L91.67,174.24 L91.70,173.11 L91.74,172.01 L91.77,170.97 L91.81,170.01 L91.84,169.13 L91.88,168.31 L91.91,167.52 L91.95,166.76 L91.97,166.02 L91.98,165.27 L92.00,164.50 L92.01,163.71 L92.03,162.88 L92.05,162.00 L92.08,161.05 L92.10,160.02 L92.13,158.87 L92.15,157.59 L92.19,156.22 L92.22,154.77 L92.25,153.28 L92.29,151.79 L92.32,150.31 L92.36,148.88 L92.40,147.53 L92.43,146.28 L92.47,145.17 L92.50,144.23 L92.53,143.45 L92.57,142.80 L92.60,142.27 L92.63,141.83 L92.66,141.47 L92.69,141.17 L92.73,140.91 L92.76,140.67 L92.79,140.43 L92.83,140.18 L92.86,139.90 L92.90,139.58 L92.93,139.25 L92.96,138.93 L92.99,138.63 L93.02,138.33 L93.05,138.05 L93.08,137.78 L93.11,137.51 L93.14,137.25 L93.17,136.99 L93.21,136.74 L93.25,136.49 L93.29,136.24 L93.33,135.98 L93.38,135.73 L93.43,135.48 L93.49,135.23 L93.54,134.98 L93.60,134.74 L93.65,134.51 L93.71,134.28 L93.77,134.06 L93.84,133.85 L93.90,133.64 L93.96,133.45 L94.02,133.27 L94.08,133.10 L94.15,132.93 L94.21,132.78 L94.27,132.63 L94.33,132.50 L94.39,132.36 L94.46,132.24 L94.53,132.12 L94.60,132.00 L94.68,131.88 L94.76,131.76 L94.84,131.64 L94.93,131.53 L95.02,131.41 L95.11,131.31 L95.21,131.20 L95.31,131.10 L95.41,131.00 L95.52,130.90 L95.62,130.81 L95.73,130.72 L95.84,130.64 L95.95,130.56 L96.07,130.48 L96.18,130.41 L96.29,130.34 L96.41,130.28 L96.53,130.22 L96.64,130.17 L96.77,130.11 L96.90,130.06 L97.04,130.01 L97.18,129.97 L97.34,129.92 L97.51,129.87 L97.68,129.83 L97.86,129.79 L98.04,129.75 L98.23,129.71 L98.42,129.68 L98.63,129.65 L98.84,129.62 L99.06,129.59 L99.30,129.57 L99.54,129.54 L99.79,129.52 L100.06,129.50 L100.34,129.48 L100.67,129.46 L101.03,129.45 L101.41,129.44 L101.79,129.43 L102.18,129.42 L102.56,129.42 L102.92,129.41 L103.26,129.41 L103.56,129.41 L103.82,129.40 L104.02,129.40 L103.98,127.80 L103.79,127.80 L103.54,127.81 L103.24,127.81 L102.91,127.81 L102.54,127.82 L102.16,127.83 L101.76,127.83 L101.36,127.84 L100.98,127.85 L100.60,127.87 L100.26,127.88 L99.94,127.90 L99.66,127.92 L99.39,127.95 L99.13,127.97 L98.88,128.00 L98.63,128.03 L98.40,128.06 L98.17,128.10 L97.94,128.14 L97.72,128.18 L97.51,128.23 L97.30,128.27 L97.09,128.33 L96.89,128.38 L96.70,128.44 L96.52,128.50 L96.34,128.57 L96.16,128.63 L95.99,128.71 L95.83,128.78 L95.67,128.87 L95.51,128.95 L95.35,129.04 L95.20,129.14 L95.05,129.24 L94.89,129.35 L94.74,129.46 L94.60,129.58 L94.45,129.71 L94.31,129.83 L94.18,129.97 L94.05,130.10 L93.92,130.24 L93.79,130.39 L93.67,130.54 L93.56,130.69 L93.44,130.84 L93.34,131.00 L93.24,131.16 L93.14,131.32 L93.05,131.48 L92.96,131.65 L92.88,131.82 L92.80,131.99 L92.73,132.17 L92.65,132.35 L92.58,132.54 L92.51,132.74 L92.44,132.95 L92.37,133.17 L92.30,133.39 L92.23,133.63 L92.17,133.87 L92.10,134.12 L92.04,134.37 L91.98,134.63 L91.92,134.89 L91.87,135.15 L91.81,135.42 L91.76,135.69 L91.71,135.96 L91.67,136.23 L91.62,136.51 L91.59,136.78 L91.55,137.05 L91.52,137.32 L91.49,137.60 L91.46,137.88 L91.43,138.17 L91.40,138.47 L91.37,138.77 L91.34,139.09 L91.30,139.42 L91.27,139.72 L91.24,139.98 L91.21,140.21 L91.17,140.45 L91.14,140.70 L91.11,140.98 L91.07,141.31 L91.04,141.70 L91.00,142.16 L90.97,142.71 L90.93,143.38 L90.90,144.17 L90.87,145.12 L90.83,146.23 L90.80,147.48 L90.76,148.84 L90.72,150.27 L90.69,151.75 L90.65,153.25 L90.62,154.73 L90.59,156.18 L90.56,157.56 L90.53,158.83 L90.50,159.98 L90.48,161.01 L90.45,161.96 L90.43,162.85 L90.42,163.68 L90.40,164.47 L90.38,165.23 L90.37,165.98 L90.35,166.73 L90.36,167.50 L90.37,168.28 L90.38,169.11 L90.39,169.99 L90.41,170.95 L90.42,171.99 L90.43,173.09 L90.44,174.23 L90.46,175.38 L90.47,176.52 L90.49,177.62 L90.50,178.67 L90.52,179.63 L90.54,180.49 L90.56,181.22 L90.58,181.80 L90.60,182.40Z"/>
<path d="M106.70,212.80 L106.72,212.21 L106.93,204.09 L107.15,196.76 L107.37,190.15 L107.58,184.18 L107.80,178.80 L108.02,173.94 L108.23,169.56 L108.45,165.60 L108.67,162.03 L108.88,158.81 L109.10,155.90 L109.31,153.28 L109.53,150.91 L109.75,148.78 L109.96,146.86 L110.18,145.12 L110.39,143.56 L110.61,142.15 L110.82,140.89 L111.04,139.74 L111.24,138.71 L111.43,137.79 L111.63,136.95 L111.82,136.20 L112.02,135.53 L112.21,134.93 L112.40,134.39 L112.59,133.90 L112.78,133.47 L112.97,133.08 L113.15,132.73 L113.34,132.42 L113.52,132.15 L113.70,131.90 L113.87,131.68 L114.05,131.49 L114.22,131.31 L114.39,131.16 L114.56,131.02 L114.73,130.89 L114.90,130.77 L115.07,130.67 L115.25,130.58 L115.42,130.49 L115.59,130.42 L115.77,130.34 L115.94,130.28 L116.12,130.22 L116.30,130.17 L116.48,130.12 L116.67,130.08 L116.85,130.04 L117.04,130.00 L117.22,129.97 L117.41,129.94 L117.60,129.91 L117.79,129.89 L117.98,129.86 L118.18,129.84 L118.37,129.82 L118.56,129.81 L118.76,129.79 L118.95,129.78 L119.15,129.77 L119.34,129.75 L119.54,129.74 L119.73,129.74 L119.93,129.73 L120.13,129.72 L120.32,129.71 L120.52,129.71 L120.72,129.70 L120.92,129.70 L121.12,129.69 L121.31,129.69 L121.51,129.68 L121.71,129.68 L121.91,129.68 L122.11,129.68 L122.31,129.67 L122.51,129.67 L122.71,129.67 L122.91,129.67 L123.11,129.67 L123.31,129.66 L123.50,129.66 L123.70,129.66 L123.90,129.66 L124.10,129.66 L124.30,129.66 L124.30,128.16 L124.10,128.16 L123.90,128.16 L123.70,128.16 L123.50,128.16 L123.29,128.16 L123.09,128.17 L122.89,128.17 L122.69,128.17 L122.49,128.17 L122.29,128.17 L122.09,128.18 L121.89,128.18 L121.69,128.18 L121.49,128.18 L121.29,128.19 L121.08,128.19 L120.88,128.20 L120.68,128.20 L120.48,128.21 L120.28,128.21 L120.07,128.22 L119.87,128.23 L119.67,128.24 L119.46,128.25 L119.26,128.26 L119.05,128.27 L118.85,128.28 L118.64,128.30 L118.44,128.31 L118.23,128.33 L118.02,128.35 L117.82,128.37 L117.61,128.40 L117.40,128.42 L117.19,128.45 L116.98,128.49 L116.76,128.53 L116.55,128.57 L116.33,128.61 L116.12,128.67 L115.90,128.73 L115.68,128.79 L115.46,128.86 L115.23,128.94 L115.01,129.03 L114.78,129.13 L114.55,129.25 L114.33,129.37 L114.10,129.51 L113.87,129.66 L113.64,129.84 L113.41,130.02 L113.18,130.23 L112.95,130.46 L112.73,130.71 L112.50,130.99 L112.28,131.30 L112.06,131.63 L111.85,132.00 L111.63,132.40 L111.42,132.84 L111.21,133.33 L111.00,133.86 L110.79,134.45 L110.58,135.10 L110.38,135.81 L110.17,136.59 L109.97,137.46 L109.76,138.42 L109.56,139.48 L109.38,140.65 L109.19,141.94 L109.01,143.38 L108.82,144.96 L108.64,146.71 L108.45,148.65 L108.27,150.80 L108.09,153.18 L107.90,155.81 L107.72,158.73 L107.53,161.96 L107.35,165.54 L107.17,169.50 L106.98,173.90 L106.80,178.76 L106.62,184.15 L106.43,190.12 L106.25,196.74 L106.07,204.07 L105.88,212.19 L105.90,212.80Z"/>
<path d="M121.90,226.10 L121.92,225.51 L122.13,216.09 L122.35,207.60 L122.57,199.93 L122.78,193.01 L123.00,186.76 L123.22,181.13 L123.43,176.04 L123.65,171.45 L123.87,167.31 L124.08,163.57 L124.30,160.20 L124.52,157.16 L124.73,154.41 L124.95,151.94 L125.16,149.70 L125.38,147.69 L125.60,145.87 L125.81,144.24 L126.03,142.76 L126.24,141.44 L126.44,140.24 L126.64,139.16 L126.83,138.19 L127.03,137.31 L127.23,136.53 L127.42,135.82 L127.61,135.19 L127.81,134.62 L128.00,134.11 L128.19,133.65 L128.38,133.25 L128.56,132.88 L128.74,132.56 L128.93,132.27 L129.11,132.01 L129.28,131.78 L129.46,131.57 L129.63,131.39 L129.80,131.22 L129.98,131.08 L130.15,130.94 L130.32,130.82 L130.49,130.72 L130.66,130.62 L130.83,130.53 L131.00,130.45 L131.18,130.38 L131.35,130.31 L131.53,130.25 L131.71,130.19 L131.89,130.14 L132.07,130.10 L132.26,130.05 L132.44,130.02 L132.63,129.98 L132.82,129.95 L133.01,129.92 L133.20,129.90 L133.39,129.87 L133.58,129.85 L133.77,129.83 L133.96,129.81 L134.16,129.80 L134.35,129.78 L134.55,129.77 L134.74,129.76 L134.94,129.75 L135.13,129.74 L135.33,129.73 L135.53,129.72 L135.73,129.72 L135.92,129.71 L136.12,129.70 L136.32,129.70 L136.52,129.69 L136.72,129.69 L136.91,129.69 L137.11,129.68 L137.31,129.68 L137.51,129.68 L137.71,129.67 L137.91,129.67 L138.11,129.67 L138.31,129.67 L138.51,129.67 L138.71,129.66 L138.90,129.66 L139.10,129.66 L139.30,129.66 L139.50,129.66 L139.50,128.16 L139.30,128.16 L139.10,128.16 L138.90,128.16 L138.69,128.16 L138.49,128.17 L138.29,128.17 L138.09,128.17 L137.89,128.17 L137.69,128.17 L137.49,128.18 L137.29,128.18 L137.09,128.18 L136.89,128.19 L136.68,128.19 L136.48,128.19 L136.28,128.20 L136.08,128.20 L135.88,128.21 L135.67,128.22 L135.47,128.22 L135.27,128.23 L135.07,128.24 L134.86,128.25 L134.66,128.26 L134.45,128.27 L134.25,128.29 L134.04,128.30 L133.84,128.32 L133.63,128.34 L133.42,128.36 L133.21,128.38 L133.00,128.41 L132.79,128.44 L132.58,128.47 L132.37,128.50 L132.16,128.54 L131.94,128.59 L131.73,128.64 L131.51,128.69 L131.29,128.75 L131.07,128.82 L130.85,128.90 L130.62,128.98 L130.40,129.08 L130.17,129.18 L129.94,129.30 L129.71,129.43 L129.48,129.58 L129.25,129.74 L129.02,129.92 L128.80,130.11 L128.57,130.33 L128.34,130.57 L128.12,130.84 L127.89,131.12 L127.67,131.44 L127.46,131.79 L127.24,132.17 L127.02,132.59 L126.81,133.05 L126.60,133.56 L126.39,134.12 L126.19,134.73 L125.98,135.40 L125.77,136.15 L125.57,136.97 L125.37,137.87 L125.16,138.87 L124.96,139.98 L124.76,141.20 L124.57,142.56 L124.39,144.06 L124.20,145.71 L124.02,147.55 L123.84,149.58 L123.65,151.83 L123.47,154.32 L123.28,157.07 L123.10,160.12 L122.92,163.50 L122.73,167.25 L122.55,171.40 L122.37,175.99 L122.18,181.09 L122.00,186.73 L121.82,192.98 L121.63,199.90 L121.45,207.57 L121.27,216.07 L121.08,225.49 L121.10,226.10Z"/>
<path d="M136.90,226.10 L136.92,225.51 L137.13,216.09 L137.35,207.60 L137.57,199.93 L137.78,193.01 L138.00,186.76 L138.22,181.13 L138.43,176.04 L138.65,171.45 L138.87,167.31 L139.08,163.57 L139.30,160.20 L139.52,157.16 L139.73,154.41 L139.95,151.94 L140.16,149.70 L140.38,147.69 L140.60,145.87 L140.81,144.24 L141.03,142.76 L141.24,141.44 L141.44,140.24 L141.64,139.16 L141.83,138.19 L142.03,137.31 L142.23,136.53 L142.42,135.82 L142.61,135.19 L142.81,134.62 L143.00,134.11 L143.19,133.65 L143.38,133.25 L143.56,132.88 L143.74,132.56 L143.93,132.27 L144.11,132.01 L144.28,131.78 L144.46,131.57 L144.63,131.39 L144.80,131.22 L144.98,131.08 L145.15,130.94 L145.32,130.82 L145.49,130.72 L145.66,130.62 L145.83,130.53 L146.00,130.45 L146.18,130.38 L146.35,130.31 L146.53,130.25 L146.71,130.19 L146.89,130.14 L147.07,130.10 L147.26,130.05 L147.44,130.02 L147.63,129.98 L147.82,129.95 L148.01,129.92 L148.20,129.90 L148.39,129.87 L148.58,129.85 L148.77,129.83 L148.96,129.81 L149.16,129.80 L149.35,129.78 L149.55,129.77 L149.74,129.76 L149.94,129.75 L150.13,129.74 L150.33,129.73 L150.53,129.72 L150.73,129.72 L150.92,129.71 L151.12,129.70 L151.32,129.70 L151.52,129.69 L151.72,129.69 L151.91,129.69 L152.11,129.68 L152.31,129.68 L152.51,129.68 L152.71,129.67 L152.91,129.67 L153.11,129.67 L153.31,129.67 L153.51,129.67 L153.71,129.66 L153.90,129.66 L154.10,129.66 L154.30,129.66 L154.50,129.66 L154.50,128.16 L154.30,128.16 L154.10,128.16 L153.90,128.16 L153.69,128.16 L153.49,128.17 L153.29,128.17 L153.09,128.17 L152.89,128.17 L152.69,128.17 L152.49,128.18 L152.29,128.18 L152.09,128.18 L151.89,128.19 L151.68,128.19 L151.48,128.19 L151.28,128.20 L151.08,128.20 L150.88,128.21 L150.67,128.22 L150.47,128.22 L150.27,128.23 L150.07,128.24 L149.86,128.25 L149.66,128.26 L149.45,128.27 L149.25,128.29 L149.04,128.30 L148.84,128.32 L148.63,128.34 L148.42,128.36 L148.21,128.38 L148.00,128.41 L147.79,128.44 L147.58,128.47 L147.37,128.50 L147.16,128.54 L146.94,128.59 L146.73,128.64 L146.51,128.69 L146.29,128.75 L146.07,128.82 L145.85,128.90 L145.62,128.98 L145.40,129.08 L145.17,129.18 L144.94,129.30 L144.71,129.43 L144.48,129.58 L144.25,129.74 L144.02,129.92 L143.80,130.11 L143.57,130.33 L143.34,130.57 L143.12,130.84 L142.89,131.12 L142.67,131.44 L142.46,131.79 L142.24,132.17 L142.02,132.59 L141.81,133.05 L141.60,133.56 L141.39,134.12 L141.19,134.73 L140.98,135.40 L140.77,136.15 L140.57,136.97 L140.37,137.87 L140.16,138.87 L139.96,139.98 L139.76,141.20 L139.57,142.56 L139.39,144.06 L139.20,145.71 L139.02,147.55 L138.84,149.58 L138.65,151.83 L138.47,154.32 L138.28,157.07 L138.10,160.12 L137.92,163.50 L137.73,167.25 L137.55,171.40 L137.37,175.99 L137.18,181.09 L137.00,186.73 L136.82,192.98 L136.63,199.90 L136.45,207.57 L136.27,216.07 L136.08,225.49 L136.10,226.10Z"/>
<path d="M152.20,226.10 L152.22,225.51 L152.43,216.09 L152.65,207.60 L152.87,199.93 L153.08,193.01 L153.30,186.76 L153.52,181.13 L153.73,176.04 L153.95,171.45 L154.17,167.31 L154.38,163.57 L154.60,160.20 L154.82,157.16 L155.03,154.41 L155.25,151.94 L155.46,149.70 L155.68,147.69 L155.90,145.87 L156.11,144.24 L156.33,142.76 L156.54,141.44 L156.74,140.24 L156.94,139.16 L157.13,138.19 L157.33,137.31 L157.53,136.53 L157.72,135.82 L157.91,135.19 L158.11,134.62 L158.30,134.11 L158.49,133.65 L158.68,133.25 L158.86,132.88 L159.04,132.56 L159.23,132.27 L159.41,132.01 L159.58,131.78 L159.76,131.57 L159.93,131.39 L160.10,131.22 L160.28,131.08 L160.45,130.94 L160.62,130.82 L160.79,130.72 L160.96,130.62 L161.13,130.53 L161.30,130.45 L161.48,130.38 L161.65,130.31 L161.83,130.25 L162.01,130.19 L162.19,130.14 L162.37,130.10 L162.56,130.05 L162.74,130.02 L162.93,129.98 L163.12,129.95 L163.31,129.92 L163.50,129.90 L163.69,129.87 L163.88,129.85 L164.07,129.83 L164.26,129.81 L164.46,129.80 L164.65,129.78 L164.85,129.77 L165.04,129.76 L165.24,129.75 L165.43,129.74 L165.63,129.73 L165.83,129.72 L166.03,129.72 L166.22,129.71 L166.42,129.70 L166.62,129.70 L166.82,129.69 L167.02,129.69 L167.21,129.69 L167.41,129.68 L167.61,129.68 L167.81,129.68 L168.01,129.67 L168.21,129.67 L168.41,129.67 L168.61,129.67 L168.81,129.67 L169.01,129.66 L169.20,129.66 L169.40,129.66 L169.60,129.66 L169.80,129.66 L169.80,128.16 L169.60,128.16 L169.40,128.16 L169.20,128.16 L168.99,128.16 L168.79,128.17 L168.59,128.17 L168.39,128.17 L168.19,128.17 L167.99,128.17 L167.79,128.18 L167.59,128.18 L167.39,128.18 L167.19,128.19 L166.98,128.19 L166.78,128.19 L166.58,128.20 L166.38,128.20 L166.18,128.21 L165.97,128.22 L165.77,128.22 L165.57,128.23 L165.37,128.24 L165.16,128.25 L164.96,128.26 L164.75,128.27 L164.55,128.29 L164.34,128.30 L164.14,128.32 L163.93,128.34 L163.72,128.36 L163.51,128.38 L163.30,128.41 L163.09,128.44 L162.88,128.47 L162.67,128.50 L162.46,128.54 L162.24,128.59 L162.03,128.64 L161.81,128.69 L161.59,128.75 L161.37,128.82 L161.15,128.90 L160.92,128.98 L160.70,129.08 L160.47,129.18 L160.24,129.30 L160.01,129.43 L159.78,129.58 L159.55,129.74 L159.32,129.92 L159.10,130.11 L158.87,130.33 L158.64,130.57 L158.42,130.84 L158.19,131.12 L157.97,131.44 L157.76,131.79 L157.54,132.17 L157.32,132.59 L157.11,133.05 L156.90,133.56 L156.69,134.12 L156.49,134.73 L156.28,135.40 L156.07,136.15 L155.87,136.97 L155.67,137.87 L155.46,138.87 L155.26,139.98 L155.06,141.20 L154.87,142.56 L154.69,144.06 L154.50,145.71 L154.32,147.55 L154.14,149.58 L153.95,151.83 L153.77,154.32 L153.58,157.07 L153.40,160.12 L153.22,163.50 L153.03,167.25 L152.85,171.40 L152.67,175.99 L152.48,181.09 L152.30,186.73 L152.12,192.98 L151.93,199.90 L151.75,207.57 L151.57,216.07 L151.38,225.49 L151.40,226.10Z"/>
<path d="M167.40,226.10 L167.42,225.51 L167.63,216.09 L167.85,207.60 L168.07,199.93 L168.28,193.01 L168.50,186.76 L168.72,181.13 L168.93,176.04 L169.15,171.45 L169.37,167.31 L169.58,163.57 L169.80,160.20 L170.02,157.16 L170.23,154.41 L170.45,151.94 L170.66,149.70 L170.88,147.69 L171.10,145.87 L171.31,144.24 L171.53,142.76 L171.74,141.44 L171.94,140.24 L172.14,139.16 L172.33,138.19 L172.53,137.31 L172.73,136.53 L172.92,135.82 L173.11,135.19 L173.31,134.62 L173.50,134.11 L173.69,133.65 L173.88,133.25 L174.06,132.88 L174.24,132.56 L174.43,132.27 L174.61,132.01 L174.78,131.78 L174.96,131.57 L175.13,131.39 L175.30,131.22 L175.48,131.08 L175.65,130.94 L175.82,130.82 L175.99,130.72 L176.16,130.62 L176.33,130.53 L176.50,130.45 L176.68,130.38 L176.85,130.31 L177.03,130.25 L177.21,130.19 L177.39,130.14 L177.57,130.10 L177.76,130.05 L177.94,130.02 L178.13,129.98 L178.32,129.95 L178.51,129.92 L178.70,129.90 L178.89,129.87 L179.08,129.85 L179.27,129.83 L179.46,129.81 L179.66,129.80 L179.85,129.78 L180.05,129.77 L180.24,129.76 L180.44,129.75 L180.63,129.74 L180.83,129.73 L181.03,129.72 L181.23,129.72 L181.42,129.71 L181.62,129.70 L181.82,129.70 L182.02,129.69 L182.22,129.69 L182.41,129.69 L182.61,129.68 L182.81,129.68 L183.01,129.68 L183.21,129.67 L183.41,129.67 L183.61,129.67 L183.81,129.67 L184.01,129.67 L184.21,129.66 L184.40,129.66 L184.60,129.66 L184.80,129.66 L185.00,129.66 L185.00,128.16 L184.80,128.16 L184.60,128.16 L184.40,128.16 L184.19,128.16 L183.99,128.17 L183.79,128.17 L183.59,128.17 L183.39,128.17 L183.19,128.17 L182.99,128.18 L182.79,128.18 L182.59,128.18 L182.39,128.19 L182.18,128.19 L181.98,128.19 L181.78,128.20 L181.58,128.20 L181.38,128.21 L181.17,128.22 L180.97,128.22 L180.77,128.23 L180.57,128.24 L180.36,128.25 L180.16,128.26 L179.95,128.27 L179.75,128.29 L179.54,128.30 L179.34,128.32 L179.13,128.34 L178.92,128.36 L178.71,128.38 L178.50,128.41 L178.29,128.44 L178.08,128.47 L177.87,128.50 L177.66,128.54 L177.44,128.59 L177.23,128.64 L177.01,128.69 L176.79,128.75 L176.57,128.82 L176.35,128.90 L176.12,128.98 L175.90,129.08 L175.67,129.18 L175.44,129.30 L175.21,129.43 L174.98,129.58 L174.75,129.74 L174.52,129.92 L174.30,130.11 L174.07,130.33 L173.84,130.57 L173.62,130.84 L173.39,131.12 L173.17,131.44 L172.96,131.79 L172.74,132.17 L172.52,132.59 L172.31,133.05 L172.10,133.56 L171.89,134.12 L171.69,134.73 L171.48,135.40 L171.27,136.15 L171.07,136.97 L170.87,137.87 L170.66,138.87 L170.46,139.98 L170.26,141.20 L170.07,142.56 L169.89,144.06 L169.70,145.71 L169.52,147.55 L169.34,149.58 L169.15,151.83 L168.97,154.32 L168.78,157.07 L168.60,160.12 L168.42,163.50 L168.23,167.25 L168.05,171.40 L167.87,175.99 L167.68,181.09 L167.50,186.73 L167.32,192.98 L167.13,199.90 L166.95,207.57 L166.77,216.07 L166.58,225.49 L166.60,226.10Z"/>
<path d="M182.40,226.10 L182.42,225.51 L182.63,216.09 L182.85,207.60 L183.07,199.93 L183.28,193.01 L183.50,186.76 L183.72,181.13 L183.93,176.04 L184.15,171.45 L184.37,167.31 L184.58,163.57 L184.80,160.20 L185.02,157.16 L185.23,154.41 L185.45,151.94 L185.66,149.70 L185.88,147.69 L186.10,145.87 L186.31,144.24 L186.53,142.76 L186.74,141.44 L186.94,140.24 L187.14,139.16 L187.33,138.19 L187.53,137.31 L187.73,136.53 L187.92,135.82 L188.11,135.19 L188.31,134.62 L188.50,134.11 L188.69,133.65 L188.88,133.25 L189.06,132.88 L189.24,132.56 L189.43,132.27 L189.61,132.01 L189.78,131.78 L189.96,131.57 L190.13,131.39 L190.30,131.22 L190.48,131.08 L190.65,130.94 L190.82,130.82 L190.99,130.72 L191.16,130.62 L191.33,130.53 L191.50,130.45 L191.68,130.38 L191.85,130.31 L192.03,130.25 L192.21,130.19 L192.39,130.14 L192.57,130.10 L192.76,130.05 L192.94,130.02 L193.13,129.98 L193.32,129.95 L193.51,129.92 L193.70,129.90 L193.89,129.87 L194.08,129.85 L194.27,129.83 L194.46,129.81 L194.66,129.80 L194.85,129.78 L195.05,129.77 L195.24,129.76 L195.44,129.75 L195.63,129.74 L195.83,129.73 L196.03,129.72 L196.23,129.72 L196.42,129.71 L196.62,129.70 L196.82,129.70 L197.02,129.69 L197.22,129.69 L197.41,129.69 L197.61,129.68 L197.81,129.68 L198.01,129.68 L198.21,129.67 L198.41,129.67 L198.61,129.67 L198.81,129.67 L199.01,129.67 L199.21,129.66 L199.40,129.66 L199.60,129.66 L199.80,129.66 L200.00,129.66 L200.00,128.16 L199.80,128.16 L199.60,128.16 L199.40,128.16 L199.19,128.16 L198.99,128.17 L198.79,128.17 L198.59,128.17 L198.39,128.17 L198.19,128.17 L197.99,128.18 L197.79,128.18 L197.59,128.18 L197.39,128.19 L197.18,128.19 L196.98,128.19 L196.78,128.20 L196.58,128.20 L196.38,128.21 L196.17,128.22 L195.97,128.22 L195.77,128.23 L195.57,128.24 L195.36,128.25 L195.16,128.26 L194.95,128.27 L194.75,128.29 L194.54,128.30 L194.34,128.32 L194.13,128.34 L193.92,128.36 L193.71,128.38 L193.50,128.41 L193.29,128.44 L193.08,128.47 L192.87,128.50 L192.66,128.54 L192.44,128.59 L192.23,128.64 L192.01,128.69 L191.79,128.75 L191.57,128.82 L191.35,128.90 L191.12,128.98 L190.90,129.08 L190.67,129.18 L190.44,129.30 L190.21,129.43 L189.98,129.58 L189.75,129.74 L189.52,129.92 L189.30,130.11 L189.07,130.33 L188.84,130.57 L188.62,130.84 L188.39,131.12 L188.17,131.44 L187.96,131.79 L187.74,132.17 L187.52,132.59 L187.31,133.05 L187.10,133.56 L186.89,134.12 L186.69,134.73 L186.48,135.40 L186.27,136.15 L186.07,136.97 L185.87,137.87 L185.66,138.87 L185.46,139.98 L185.26,141.20 L185.07,142.56 L184.89,144.06 L184.70,145.71 L184.52,147.55 L184.34,149.58 L184.15,151.83 L183.97,154.32 L183.78,157.07 L183.60,160.12 L183.42,163.50 L183.23,167.25 L183.05,171.40 L182.87,175.99 L182.68,181.09 L182.50,186.73 L182.32,192.98 L182.13,199.90 L181.95,207.57 L181.77,216.07 L181.58,225.49 L181.60,226.10Z"/>
<path d="M197.40,226.10 L197.42,225.51 L197.63,216.09 L197.85,207.60 L198.07,199.93 L198.28,193.01 L198.50,186.76 L198.72,181.13 L198.93,176.04 L199.15,171.45 L199.37,167.31 L199.58,163.57 L199.80,160.20 L200.02,157.16 L200.23,154.41 L200.45,151.94 L200.66,149.70 L200.88,147.69 L201.10,145.87 L201.31,144.24 L201.53,142.76 L201.74,141.44 L201.94,140.24 L202.14,139.16 L202.33,138.19 L202.53,137.31 L202.73,136.53 L202.92,135.82 L203.11,135.19 L203.31,134.62 L203.50,134.11 L203.69,133.65 L203.88,133.25 L204.06,132.88 L204.24,132.56 L204.43,132.27 L204.61,132.01 L204.78,131.78 L204.96,131.57 L205.13,131.39 L205.30,131.22 L205.48,131.08 L205.65,130.94 L205.82,130.82 L205.99,130.72 L206.16,130.62 L206.33,130.53 L206.50,130.45 L206.68,130.38 L206.85,130.31 L207.03,130.25 L207.21,130.19 L207.39,130.14 L207.57,130.10 L207.76,130.05 L207.94,130.02 L208.13,129.98 L208.32,129.95 L208.51,129.92 L208.70,129.90 L208.89,129.87 L209.08,129.85 L209.27,129.83 L209.46,129.81 L209.66,129.80 L209.85,129.78 L210.05,129.77 L210.24,129.76 L210.44,129.75 L210.63,129.74 L210.83,129.73 L211.03,129.72 L211.23,129.72 L211.42,129.71 L211.62,129.70 L211.82,129.70 L212.02,129.69 L212.22,129.69 L212.41,129.69 L212.61,129.68 L212.81,129.68 L213.01,129.68 L213.21,129.67 L213.41,129.67 L213.61,129.67 L213.81,129.67 L214.01,129.67 L214.21,129.66 L214.40,129.66 L214.60,129.66 L214.80,129.66 L215.00,129.66 L215.00,128.16 L214.80,128.16 L214.60,128.16 L214.40,128.16 L214.19,128.16 L213.99,128.17 L213.79,128.17 L213.59,128.17 L213.39,128.17 L213.19,128.17 L212.99,128.18 L212.79,128.18 L212.59,128.18 L212.39,128.19 L212.18,128.19 L211.98,128.19 L211.78,128.20 L211.58,128.20 L211.38,128.21 L211.17,128.22 L210.97,128.22 L210.77,128.23 L210.57,128.24 L210.36,128.25 L210.16,128.26 L209.95,128.27 L209.75,128.29 L209.54,128.30 L209.34,128.32 L209.13,128.34 L208.92,128.36 L208.71,128.38 L208.50,128.41 L208.29,128.44 L208.08,128.47 L207.87,128.50 L207.66,128.54 L207.44,128.59 L207.23,128.64 L207.01,128.69 L206.79,128.75 L206.57,128.82 L206.35,128.90 L206.12,128.98 L205.90,129.08 L205.67,129.18 L205.44,129.30 L205.21,129.43 L204.98,129.58 L204.75,129.74 L204.52,129.92 L204.30,130.11 L204.07,130.33 L203.84,130.57 L203.62,130.84 L203.39,131.12 L203.17,131.44 L202.96,131.79 L202.74,132.17 L202.52,132.59 L202.31,133.05 L202.10,133.56 L201.89,134.12 L201.69,134.73 L201.48,135.40 L201.27,136.15 L201.07,136.97 L200.87,137.87 L200.66,138.87 L200.46,139.98 L200.26,141.20 L200.07,142.56 L199.89,144.06 L199.70,145.71 L199.52,147.55 L199.34,149.58 L199.15,151.83 L198.97,154.32 L198.78,157.07 L198.60,160.12 L198.42,163.50 L198.23,167.25 L198.05,171.40 L197.87,175.99 L197.68,181.09 L197.50,186.73 L197.32,192.98 L197.13,199.90 L196.95,207.57 L196.77,216.07 L196.58,225.49 L196.60,226.10Z"/>
<path d="M212.70,226.10 L212.72,225.51 L212.93,216.09 L213.15,207.60 L213.37,199.93 L213.58,193.01 L213.80,186.76 L214.02,181.13 L214.23,176.04 L214.45,171.45 L214.67,167.31 L214.88,163.57 L215.10,160.20 L215.32,157.16 L215.53,154.41 L215.75,151.94 L215.96,149.70 L216.18,147.69 L216.40,145.87 L216.61,144.24 L216.83,142.76 L217.04,141.44 L217.24,140.24 L217.44,139.16 L217.63,138.19 L217.83,137.31 L218.03,136.53 L218.22,135.82 L218.41,135.19 L218.61,134.62 L218.80,134.11 L218.99,133.65 L219.18,133.25 L219.36,132.88 L219.54,132.56 L219.73,132.27 L219.91,132.01 L220.08,131.78 L220.26,131.57 L220.43,131.39 L220.60,131.22 L220.78,131.08 L220.95,130.94 L221.12,130.82 L221.29,130.72 L221.46,130.62 L221.63,130.53 L221.80,130.45 L221.98,130.38 L222.15,130.31 L222.33,130.25 L222.51,130.19 L222.69,130.14 L222.87,130.10 L223.06,130.05 L223.24,130.02 L223.43,129.98 L223.62,129.95 L223.81,129.92 L224.00,129.90 L224.19,129.87 L224.38,129.85 L224.57,129.83 L224.76,129.81 L224.96,129.80 L225.15,129.78 L225.35,129.77 L225.54,129.76 L225.74,129.75 L225.93,129.74 L226.13,129.73 L226.33,129.72 L226.53,129.72 L226.72,129.71 L226.92,129.70 L227.12,129.70 L227.32,129.69 L227.52,129.69 L227.71,129.69 L227.91,129.68 L228.11,129.68 L228.31,129.68 L228.51,129.67 L228.71,129.67 L228.91,129.67 L229.11,129.67 L229.31,129.67 L229.51,129.66 L229.70,129.66 L229.90,129.66 L230.10,129.66 L230.30,129.66 L230.30,128.16 L230.10,128.16 L229.90,128.16 L229.70,128.16 L229.49,128.16 L229.29,128.17 L229.09,128.17 L228.89,128.17 L228.69,128.17 L228.49,128.17 L228.29,128.18 L228.09,128.18 L227.89,128.18 L227.69,128.19 L227.48,128.19 L227.28,128.19 L227.08,128.20 L226.88,128.20 L226.68,128.21 L226.47,128.22 L226.27,128.22 L226.07,128.23 L225.87,128.24 L225.66,128.25 L225.46,128.26 L225.25,128.27 L225.05,128.29 L224.84,128.30 L224.64,128.32 L224.43,128.34 L224.22,128.36 L224.01,128.38 L223.80,128.41 L223.59,128.44 L223.38,128.47 L223.17,128.50 L222.96,128.54 L222.74,128.59 L222.53,128.64 L222.31,128.69 L222.09,128.75 L221.87,128.82 L221.65,128.90 L221.42,128.98 L221.20,129.08 L220.97,129.18 L220.74,129.30 L220.51,129.43 L220.28,129.58 L220.05,129.74 L219.82,129.92 L219.60,130.11 L219.37,130.33 L219.14,130.57 L218.92,130.84 L218.69,131.12 L218.47,131.44 L218.26,131.79 L218.04,132.17 L217.82,132.59 L217.61,133.05 L217.40,133.56 L217.19,134.12 L216.99,134.73 L216.78,135.40 L216.57,136.15 L216.37,136.97 L216.17,137.87 L215.96,138.87 L215.76,139.98 L215.56,141.20 L215.37,142.56 L215.19,144.06 L215.00,145.71 L214.82,147.55 L214.64,149.58 L214.45,151.83 L214.27,154.32 L214.08,157.07 L213.90,160.12 L213.72,163.50 L213.53,167.25 L213.35,171.40 L213.17,175.99 L212.98,181.09 L212.80,186.73 L212.62,192.98 L212.43,199.90 L212.25,207.57 L212.07,216.07 L211.88,225.49 L211.90,226.10Z"/>
<path d="M282.00,125.44 L282.50,126.36 L283.00,125.41 L283.50,125.75 L284.00,125.97 L284.50,125.49 L285.00,125.33 L285.50,126.28 L286.00,125.83 L286.50,125.36 L287.00,125.69 L287.50,125.90 L288.00,126.36 L288.50,126.14 L289.00,125.69 L289.50,126.26 L290.00,125.70 L290.50,126.28 L291.00,125.82 L291.50,125.97 L292.00,125.74 L292.50,126.07 L293.00,125.35 L293.50,125.43 L294.00,126.14 L294.50,125.34 L295.00,126.06 L295.50,125.85 L296.00,125.94 L296.50,125.67 L297.00,126.15 L297.50,126.03 L298.00,125.65 L298.50,125.52 L299.00,125.84 L299.50,125.33 L300.00,125.50 L300.50,126.16 L300.50,130.44 L300.00,129.85 L299.50,129.94 L299.00,129.83 L298.50,130.41 L298.00,129.82 L297.50,130.06 L297.00,129.64 L296.50,130.62 L296.00,129.88 L295.50,130.34 L295.00,129.62 L294.50,130.38 L294.00,129.87 L293.50,130.12 L293.00,130.31 L292.50,130.11 L292.00,129.61 L291.50,129.85 L291.00,130.24 L290.50,129.68 L290.00,130.37 L289.50,129.88 L289.00,129.93 L288.50,130.61 L288.00,130.46 L287.50,130.21 L287.00,130.44 L286.50,130.39 L286.00,130.35 L285.50,129.77 L285.00,129.87 L284.50,130.54 L284.00,130.62 L283.50,129.60 L283.00,130.12 L282.50,130.38 L282.00,129.62Z"/>
<path d="M316.00,120.86 L316.45,120.74 L316.90,121.19 L317.35,120.70 L317.80,121.51 L318.25,121.60 L318.70,121.78 L319.15,121.94 L319.60,120.79 L320.05,121.35 L320.50,120.89 L320.95,122.29 L321.40,121.52 L321.85,121.77 L322.30,122.32 L322.75,122.57 L323.20,122.56 L323.65,121.29 L324.10,121.33 L324.55,122.68 L325.00,121.87 L325.45,123.02 L325.90,122.87 L326.35,123.10 L326.80,121.94 L327.25,123.03 L327.70,122.42 L328.15,123.43 L328.60,122.14 L329.05,122.67 L329.50,123.45 L329.95,122.24 L330.40,123.66 L330.85,123.68 L331.30,123.91 L331.75,122.63 L332.20,122.62 L332.65,124.02 L333.10,122.71 L333.55,124.01 L334.00,124.01 L334.45,122.97 L334.90,123.35 L335.35,123.33 L335.80,123.86 L336.25,124.32 L336.70,123.54 L337.15,124.49 L337.60,124.49 L338.05,124.63 L338.50,124.49 L338.95,123.45 L339.40,124.62 L339.85,124.76 L340.30,124.00 L340.75,124.75 L341.20,124.26 L341.65,124.02 L342.10,124.24 L342.55,123.85 L343.00,124.51 L343.45,124.18 L343.90,124.99 L344.35,125.09 L344.80,124.63 L345.25,124.95 L345.70,124.82 L346.15,124.22 L346.60,123.73 L347.05,124.98 L347.50,124.25 L347.95,125.41 L348.40,125.42 L348.85,123.96 L349.30,124.12 L349.75,124.34 L350.20,125.46 L350.65,124.17 L351.10,125.07 L351.55,125.59 L352.00,125.67 L352.45,125.63 L352.90,125.09 L353.35,125.80 L353.80,125.10 L354.25,125.71 L354.70,124.88 L355.15,125.92 L355.60,125.71 L356.05,125.34 L356.50,125.98 L356.95,125.79 L357.40,125.94 L357.85,125.97 L358.30,125.95 L358.75,124.99 L359.20,126.01 L359.65,125.40 L360.10,126.28 L360.55,126.03 L361.00,126.09 L361.45,126.04 L361.90,126.41 L362.35,125.78 L362.80,126.44 L363.25,126.26 L363.70,126.47 L364.15,126.09 L364.60,126.53 L365.05,125.53 L365.50,126.53 L365.95,125.19 L366.40,126.26 L366.85,125.29 L367.30,125.37 L367.75,125.62 L368.20,125.74 L368.65,126.49 L369.10,125.67 L369.55,126.72 L370.00,126.39 L370.45,126.82 L370.90,126.02 L371.35,126.88 L371.80,125.99 L372.25,125.81 L372.70,126.38 L373.15,126.35 L373.60,126.72 L374.05,126.73 L374.50,126.73 L374.95,127.07 L375.40,126.71 L375.85,126.18 L376.30,126.79 L376.75,126.78 L377.20,127.13 L377.65,127.16 L378.10,126.77 L378.55,126.56 L379.00,126.36 L379.45,126.82 L379.90,126.85 L380.35,125.83 L380.80,126.11 L381.25,126.45 L381.70,127.26 L382.15,126.95 L382.60,126.01 L383.05,126.38 L383.50,127.38 L383.95,126.49 L384.40,126.13 L384.85,126.37 L385.30,127.05 L385.75,127.40 L386.20,127.07 L386.65,127.50 L387.10,127.48 L387.55,126.79 L388.00,127.50 L388.45,127.54 L388.90,126.93 L389.35,126.38 L389.80,127.07 L390.25,127.61 L390.70,127.00 L391.15,126.63 L391.60,126.09 L392.05,127.47 L392.50,127.38 L392.95,126.82 L393.40,126.64 L393.85,127.07 L394.30,127.19 L394.75,127.60 L395.20,127.77 L395.65,127.17 L396.10,127.37 L396.55,127.78 L397.00,127.14 L397.45,127.83 L397.90,127.83 L398.35,127.78 L398.80,127.32 L399.25,127.26 L399.70,127.87 L400.15,127.81 L400.60,127.91 L401.05,126.72 L401.50,127.69 L401.95,127.96 L402.40,127.47 L402.85,127.32 L403.30,126.59 L403.75,127.91 L404.20,128.02 L404.65,127.77 L405.10,128.04 L405.55,128.05 L406.00,126.65 L406.45,128.01 L406.90,127.68 L407.35,127.04 L407.80,127.95 L408.25,128.11 L408.70,127.15 L409.15,128.14 L409.60,127.26 L410.05,127.28 L410.50,128.09 L410.95,128.10 L411.40,128.01 L411.85,127.43 L412.30,127.41 L412.75,127.74 L413.20,127.24 L413.65,128.14 L414.10,126.77 L414.55,127.03 L415.00,128.17 L415.45,127.41 L415.90,127.41 L416.35,127.07 L416.80,128.23 L417.25,127.70 L417.70,127.64 L418.15,128.00 L418.60,127.59 L419.05,128.07 L419.50,127.87 L419.95,128.33 L420.40,128.40 L420.85,128.38 L421.30,128.40 L421.75,128.24 L422.20,128.43 L422.65,127.68 L423.10,127.67 L423.55,128.45 L424.00,128.25 L424.45,127.40 L424.90,128.47 L425.35,127.15 L425.80,128.48 L426.25,128.48 L426.70,127.36 L427.15,127.87 L427.60,127.88 L428.05,128.51 L428.50,127.62 L428.95,128.38 L429.40,128.55 L429.85,128.43 L430.30,128.35 L430.75,127.09 L431.20,127.42 L431.65,128.59 L432.10,128.29 L432.55,128.41 L433.00,128.15 L433.45,127.43 L433.90,127.55 L434.35,128.63 L434.80,127.71 L435.25,128.65 L435.70,128.27 L436.15,128.61 L436.60,128.47 L437.05,128.57 L437.50,128.55 L437.95,127.91 L438.40,128.68 L438.85,128.69 L439.30,127.93 L439.75,128.09 L440.20,128.47 L440.65,127.46 L441.10,127.48 L441.55,128.68 L442.00,127.46 L442.45,128.53 L442.90,128.68 L443.35,128.32 L443.80,127.88 L444.25,128.60 L444.70,128.76 L445.15,128.10 L445.60,128.77 L446.05,127.86 L446.50,128.80 L446.95,127.58 L447.40,128.78 L447.85,128.06 L448.30,128.82 L448.75,128.77 L449.20,128.43 L449.65,128.71 L450.10,127.36 L450.55,128.88 L451.00,128.88 L451.45,127.36 L451.90,128.06 L452.35,128.86 L452.80,128.92 L453.25,128.70 L453.70,128.70 L454.15,128.19 L454.60,128.33 L455.05,128.95 L455.50,128.72 L455.95,127.68 L456.40,128.48 L456.85,128.73 L457.30,128.19 L457.75,128.07 L458.20,127.88 L458.65,128.39 L459.10,128.90 L459.55,129.05 L460.00,128.09 L460.45,128.45 L460.90,128.80 L461.35,128.48 L461.80,128.38 L462.25,129.06 L462.70,128.16 L463.15,128.75 L463.60,129.14 L464.05,129.11 L464.50,127.74 L464.95,129.15 L465.40,128.71 L465.85,128.77 L466.30,128.09 L466.75,128.93 L467.20,129.14 L467.65,128.97 L468.10,129.20 L468.55,129.04 L469.00,129.13 L469.45,129.25 L469.90,128.98 L470.35,129.07 L470.80,129.20 L471.25,127.88 L471.70,129.22 L472.15,129.06 L472.60,129.29 L473.05,128.28 L473.50,128.98 L473.95,129.26 L474.40,129.15 L474.85,128.29 L475.30,129.02 L475.75,128.90 L476.20,128.27 L476.65,128.24 L476.65,129.67 L476.20,129.77 L475.75,129.71 L475.30,129.82 L474.85,130.39 L474.40,130.20 L473.95,130.72 L473.50,130.21 L473.05,130.33 L472.60,130.56 L472.15,130.10 L471.70,130.68 L471.25,130.40 L470.80,130.69 L470.35,130.30 L469.90,130.72 L469.45,130.49 L469.00,130.52 L468.55,130.42 L468.10,131.34 L467.65,131.03 L467.20,130.98 L466.75,131.40 L466.30,130.88 L465.85,131.04 L465.40,131.17 L464.95,131.04 L464.50,131.02 L464.05,131.36 L463.60,131.12 L463.15,131.74 L462.70,131.06 L462.25,131.35 L461.80,131.78 L461.35,131.18 L460.90,131.26 L460.45,131.16 L460.00,131.60 L459.55,131.34 L459.10,131.57 L458.65,131.44 L458.20,131.71 L457.75,131.77 L457.30,132.06 L456.85,131.45 L456.40,131.94 L455.95,131.64 L455.50,132.00 L455.05,131.87 L454.60,131.78 L454.15,131.84 L453.70,132.22 L453.25,131.69 L452.80,131.77 L452.35,132.13 L451.90,131.97 L451.45,132.41 L451.00,132.01 L450.55,132.74 L450.10,132.42 L449.65,132.02 L449.20,132.04 L448.75,132.15 L448.30,132.11 L447.85,132.77 L447.40,132.24 L446.95,132.25 L446.50,132.43 L446.05,132.57 L445.60,132.48 L445.15,132.84 L444.70,133.02 L444.25,132.51 L443.80,132.83 L443.35,133.00 L442.90,132.71 L442.45,133.26 L442.00,132.82 L441.55,132.69 L441.10,132.67 L440.65,132.71 L440.20,132.88 L439.75,132.89 L439.30,133.37 L438.85,133.41 L438.40,133.25 L437.95,133.14 L437.50,133.00 L437.05,133.79 L436.60,133.65 L436.15,133.28 L435.70,133.67 L435.25,133.35 L434.80,134.03 L434.35,133.25 L433.90,133.27 L433.45,133.29 L433.00,133.36 L432.55,133.80 L432.10,133.93 L431.65,133.58 L431.20,133.81 L430.75,133.73 L430.30,133.63 L429.85,134.04 L429.40,133.67 L428.95,133.81 L428.50,133.72 L428.05,133.73 L427.60,133.83 L427.15,134.41 L426.70,134.42 L426.25,133.87 L425.80,133.94 L425.35,134.74 L424.90,134.65 L424.45,134.73 L424.00,134.65 L423.55,134.40 L423.10,134.61 L422.65,134.52 L422.20,134.20 L421.75,134.25 L421.30,135.05 L420.85,134.31 L420.40,135.09 L419.95,134.73 L419.50,134.49 L419.05,134.90 L418.60,135.12 L418.15,135.12 L417.70,135.38 L417.25,134.97 L416.80,135.31 L416.35,134.69 L415.90,134.72 L415.45,135.45 L415.00,134.72 L414.55,134.70 L414.10,134.77 L413.65,135.13 L413.20,135.03 L412.75,134.98 L412.30,134.90 L411.85,135.51 L411.40,135.40 L410.95,134.92 L410.50,134.95 L410.05,135.16 L409.60,135.19 L409.15,135.67 L408.70,135.51 L408.25,135.79 L407.80,135.19 L407.35,135.16 L406.90,135.53 L406.45,135.52 L406.00,135.23 L405.55,135.51 L405.10,135.81 L404.65,135.34 L404.20,135.58 L403.75,136.08 L403.30,135.86 L402.85,135.57 L402.40,135.51 L401.95,135.79 L401.50,135.49 L401.05,135.99 L400.60,135.82 L400.15,135.49 L399.70,136.27 L399.25,135.69 L398.80,135.54 L398.35,135.82 L397.90,135.65 L397.45,135.66 L397.00,135.56 L396.55,135.62 L396.10,136.30 L395.65,135.76 L395.20,135.63 L394.75,135.62 L394.30,136.03 L393.85,136.52 L393.40,135.72 L392.95,135.67 L392.50,135.71 L392.05,136.22 L391.60,136.01 L391.15,135.79 L390.70,135.88 L390.25,136.64 L389.80,136.46 L389.35,136.05 L388.90,135.86 L388.45,135.97 L388.00,136.25 L387.55,136.39 L387.10,136.43 L386.65,135.65 L386.20,135.68 L385.75,135.63 L385.30,136.30 L384.85,135.53 L384.40,135.55 L383.95,135.48 L383.50,135.54 L383.05,136.19 L382.60,135.41 L382.15,136.18 L381.70,136.20 L381.25,135.90 L380.80,136.17 L380.35,135.27 L379.90,135.35 L379.45,135.20 L379.00,135.72 L378.55,135.15 L378.10,135.12 L377.65,135.27 L377.20,135.23 L376.75,135.05 L376.30,135.04 L375.85,135.54 L375.40,135.00 L374.95,135.25 L374.50,135.04 L374.05,135.21 L373.60,135.08 L373.15,134.81 L372.70,134.96 L372.25,134.65 L371.80,134.59 L371.35,134.83 L370.90,135.23 L370.45,134.51 L370.00,134.54 L369.55,134.51 L369.10,134.35 L368.65,134.92 L368.20,134.27 L367.75,134.21 L367.30,134.49 L366.85,134.23 L366.40,134.05 L365.95,134.86 L365.50,133.97 L365.05,134.75 L364.60,134.08 L364.15,134.59 L363.70,133.85 L363.25,133.96 L362.80,134.03 L362.35,134.39 L361.90,133.87 L361.45,133.57 L361.00,134.20 L360.55,134.05 L360.10,134.12 L359.65,133.38 L359.20,133.32 L358.75,134.13 L358.30,133.34 L357.85,133.42 L357.40,133.90 L356.95,133.10 L356.50,133.41 L356.05,132.93 L355.60,133.15 L355.15,132.83 L354.70,133.04 L354.25,132.75 L353.80,132.70 L353.35,132.71 L352.90,132.60 L352.45,132.83 L352.00,132.50 L351.55,132.53 L351.10,132.70 L350.65,132.31 L350.20,132.80 L349.75,132.38 L349.30,132.27 L348.85,132.40 L348.40,132.08 L347.95,132.07 L347.50,132.69 L347.05,132.47 L346.60,131.82 L346.15,132.13 L345.70,131.73 L345.25,132.50 L344.80,131.65 L344.35,132.19 L343.90,131.48 L343.45,131.40 L343.00,131.43 L342.55,131.31 L342.10,131.19 L341.65,131.76 L341.20,131.46 L340.75,131.14 L340.30,131.10 L339.85,131.08 L339.40,130.80 L338.95,131.61 L338.50,131.53 L338.05,130.88 L337.60,130.54 L337.15,130.99 L336.70,130.42 L336.25,130.47 L335.80,130.38 L335.35,130.76 L334.90,130.60 L334.45,129.86 L334.00,129.76 L333.55,129.31 L333.10,129.79 L332.65,128.89 L332.20,128.40 L331.75,128.48 L331.30,128.35 L330.85,127.62 L330.40,127.72 L329.95,127.32 L329.50,126.76 L329.05,127.13 L328.60,126.30 L328.15,126.09 L327.70,125.93 L327.25,126.37 L326.80,125.62 L326.35,125.59 L325.90,126.07 L325.45,125.36 L325.00,125.17 L324.55,125.46 L324.10,124.73 L323.65,124.55 L323.20,124.50 L322.75,124.23 L322.30,124.18 L321.85,124.03 L321.40,123.68 L320.95,124.24 L320.50,123.32 L320.05,123.90 L319.60,123.48 L319.15,122.69 L318.70,122.33 L318.25,122.95 L317.80,122.01 L317.35,122.46 L316.90,121.58 L316.45,121.23 L316.00,121.79Z"/>
<path d="M305.45,175.60 L305.47,175.02 L305.69,170.12 L305.90,165.74 L306.12,161.82 L306.34,158.31 L306.56,155.17 L306.78,152.37 L307.00,149.86 L307.21,147.62 L307.43,145.61 L307.65,143.82 L307.87,142.21 L308.08,140.78 L308.30,139.51 L308.51,138.37 L308.73,137.35 L308.94,136.45 L309.16,135.64 L309.37,134.93 L309.56,134.29 L309.75,133.72 L309.94,133.21 L310.13,132.77 L310.32,132.37 L310.50,132.03 L310.68,131.72 L310.86,131.45 L311.03,131.21 L311.20,131.00 L311.38,130.81 L311.54,130.65 L311.71,130.50 L311.88,130.37 L312.04,130.26 L312.21,130.15 L312.38,130.06 L312.54,129.98 L312.71,129.90 L312.88,129.83 L313.06,129.77 L313.23,129.71 L313.41,129.66 L313.59,129.62 L313.77,129.57 L313.95,129.54 L314.14,129.50 L314.32,129.47 L314.51,129.44 L314.70,129.42 L314.89,129.40 L315.08,129.38 L315.27,129.36 L315.46,129.34 L315.66,129.33 L315.85,129.31 L316.05,129.30 L316.24,129.29 L316.44,129.28 L316.63,129.27 L316.83,129.27 L317.03,129.26 L317.22,129.25 L317.42,129.25 L317.62,129.24 L317.82,129.24 L318.02,129.23 L318.21,129.23 L318.41,129.23 L318.61,129.22 L318.81,129.22 L319.01,129.22 L319.21,129.22 L319.41,129.22 L319.61,129.21 L319.81,129.21 L320.00,129.21 L320.20,129.21 L320.40,129.21 L320.60,129.21 L320.80,129.21 L321.00,129.21 L321.00,127.61 L320.80,127.61 L320.60,127.61 L320.40,127.61 L320.20,127.61 L320.00,127.61 L319.79,127.61 L319.59,127.61 L319.39,127.62 L319.19,127.62 L318.99,127.62 L318.79,127.62 L318.59,127.62 L318.39,127.63 L318.19,127.63 L317.98,127.63 L317.78,127.64 L317.58,127.64 L317.38,127.65 L317.18,127.65 L316.97,127.66 L316.77,127.67 L316.57,127.67 L316.36,127.68 L316.16,127.69 L315.95,127.70 L315.75,127.72 L315.54,127.73 L315.34,127.75 L315.13,127.76 L314.92,127.78 L314.71,127.81 L314.50,127.83 L314.29,127.86 L314.08,127.89 L313.86,127.93 L313.65,127.97 L313.43,128.01 L313.21,128.06 L312.99,128.12 L312.77,128.18 L312.54,128.25 L312.32,128.34 L312.09,128.43 L311.86,128.53 L311.62,128.65 L311.39,128.78 L311.16,128.92 L310.92,129.09 L310.69,129.27 L310.46,129.48 L310.22,129.70 L310.00,129.95 L309.77,130.23 L309.54,130.54 L309.32,130.88 L309.10,131.25 L308.88,131.66 L308.67,132.12 L308.46,132.62 L308.25,133.18 L308.04,133.80 L307.83,134.49 L307.64,135.25 L307.46,136.11 L307.27,137.05 L307.09,138.11 L306.90,139.28 L306.72,140.58 L306.53,142.04 L306.35,143.66 L306.17,145.48 L305.99,147.50 L305.80,149.76 L305.62,152.28 L305.44,155.10 L305.26,158.25 L305.08,161.76 L304.90,165.69 L304.71,170.08 L304.53,174.98 L304.55,175.60Z"/>
<path d="M317.45,213.20 L317.46,212.61 L317.68,206.28 L317.89,200.43 L318.10,195.04 L318.31,190.06 L318.53,185.46 L318.74,181.21 L318.95,177.30 L319.17,173.68 L319.38,170.34 L319.59,167.26 L319.80,164.42 L320.02,161.80 L320.23,159.38 L320.44,157.15 L320.65,155.08 L320.87,153.18 L321.08,151.43 L321.29,149.81 L321.50,148.32 L321.71,146.94 L321.93,145.68 L322.14,144.51 L322.35,143.43 L322.56,142.44 L322.77,141.52 L322.98,140.68 L323.17,139.91 L323.37,139.19 L323.56,138.53 L323.76,137.93 L323.95,137.37 L324.14,136.86 L324.34,136.39 L324.53,135.96 L324.72,135.57 L324.90,135.21 L325.09,134.87 L325.28,134.57 L325.46,134.29 L325.64,134.04 L325.82,133.80 L326.00,133.59 L326.18,133.39 L326.36,133.21 L326.54,133.05 L326.71,132.89 L326.89,132.75 L327.06,132.62 L327.24,132.50 L327.41,132.39 L327.59,132.29 L327.77,132.20 L327.94,132.11 L328.12,132.03 L328.30,131.95 L328.48,131.88 L328.66,131.82 L328.84,131.76 L329.03,131.70 L329.21,131.65 L329.39,131.60 L329.58,131.56 L329.77,131.52 L329.95,131.48 L330.14,131.44 L330.33,131.41 L330.52,131.38 L330.71,131.35 L330.90,131.32 L331.10,131.30 L331.29,131.28 L331.48,131.26 L331.68,131.24 L331.87,131.22 L332.07,131.20 L332.26,131.19 L332.46,131.17 L332.65,131.16 L332.85,131.15 L333.05,131.14 L332.95,129.54 L332.75,129.55 L332.55,129.56 L332.34,129.58 L332.14,129.59 L331.93,129.61 L331.73,129.62 L331.52,129.64 L331.32,129.66 L331.11,129.69 L330.90,129.71 L330.70,129.74 L330.49,129.77 L330.28,129.80 L330.07,129.83 L329.86,129.87 L329.65,129.91 L329.43,129.95 L329.22,130.00 L329.01,130.05 L328.79,130.11 L328.57,130.17 L328.36,130.23 L328.14,130.31 L327.92,130.38 L327.70,130.47 L327.48,130.56 L327.26,130.66 L327.03,130.77 L326.81,130.89 L326.59,131.02 L326.36,131.17 L326.14,131.32 L325.91,131.48 L325.69,131.66 L325.46,131.86 L325.24,132.07 L325.02,132.29 L324.80,132.54 L324.58,132.80 L324.36,133.08 L324.14,133.39 L323.92,133.71 L323.71,134.07 L323.50,134.45 L323.28,134.85 L323.07,135.29 L322.86,135.77 L322.66,136.28 L322.45,136.83 L322.24,137.42 L322.04,138.06 L321.83,138.75 L321.63,139.50 L321.42,140.31 L321.23,141.18 L321.04,142.12 L320.85,143.14 L320.66,144.25 L320.47,145.44 L320.29,146.73 L320.10,148.12 L319.91,149.63 L319.72,151.27 L319.53,153.04 L319.35,154.95 L319.16,157.03 L318.97,159.27 L318.78,161.70 L318.60,164.33 L318.41,167.18 L318.22,170.27 L318.03,173.62 L317.85,177.24 L317.66,181.16 L317.47,185.41 L317.29,190.01 L317.10,195.00 L316.91,200.40 L316.72,206.25 L316.54,212.59 L316.55,213.20Z"/>
<path d="M329.35,204.10 L329.36,203.52 L329.58,198.01 L329.79,192.92 L330.00,188.22 L330.21,183.89 L330.43,179.89 L330.64,176.20 L330.85,172.79 L331.07,169.64 L331.28,166.74 L331.49,164.06 L331.70,161.59 L331.92,159.31 L332.13,157.20 L332.34,155.26 L332.55,153.47 L332.77,151.82 L332.98,150.29 L333.19,148.89 L333.40,147.59 L333.61,146.40 L333.82,145.30 L334.03,144.28 L334.24,143.35 L334.45,142.49 L334.66,141.70 L334.87,140.97 L335.07,140.30 L335.26,139.68 L335.45,139.11 L335.65,138.59 L335.84,138.11 L336.03,137.67 L336.22,137.27 L336.41,136.90 L336.59,136.56 L336.78,136.25 L336.96,135.96 L337.15,135.70 L337.33,135.46 L337.51,135.24 L337.69,135.04 L337.86,134.86 L338.04,134.69 L338.22,134.53 L338.39,134.39 L338.57,134.26 L338.74,134.13 L338.92,134.02 L339.10,133.92 L339.27,133.82 L339.45,133.73 L339.63,133.65 L339.81,133.57 L339.99,133.50 L340.17,133.43 L340.35,133.37 L340.53,133.32 L340.71,133.26 L340.90,133.21 L341.08,133.17 L341.27,133.13 L341.46,133.09 L341.65,133.05 L341.84,133.02 L342.03,132.99 L342.22,132.96 L342.41,132.93 L342.60,132.91 L342.79,132.88 L342.98,132.86 L343.18,132.84 L343.37,132.82 L343.57,132.81 L343.76,132.79 L343.96,132.78 L344.15,132.76 L344.35,132.75 L344.54,132.74 L344.74,132.73 L344.94,132.72 L344.86,131.12 L344.66,131.13 L344.46,131.14 L344.25,131.15 L344.05,131.17 L343.84,131.18 L343.64,131.19 L343.43,131.21 L343.23,131.23 L343.02,131.25 L342.82,131.27 L342.61,131.29 L342.40,131.32 L342.19,131.34 L341.98,131.37 L341.77,131.41 L341.56,131.44 L341.35,131.48 L341.14,131.52 L340.93,131.56 L340.72,131.61 L340.50,131.66 L340.29,131.72 L340.07,131.78 L339.85,131.85 L339.63,131.93 L339.41,132.01 L339.19,132.09 L338.97,132.19 L338.75,132.29 L338.53,132.41 L338.30,132.53 L338.08,132.66 L337.86,132.80 L337.63,132.96 L337.41,133.13 L337.18,133.31 L336.96,133.51 L336.74,133.72 L336.51,133.95 L336.29,134.20 L336.07,134.47 L335.85,134.76 L335.64,135.07 L335.42,135.40 L335.21,135.76 L334.99,136.15 L334.78,136.57 L334.57,137.01 L334.36,137.50 L334.15,138.02 L333.95,138.58 L333.74,139.18 L333.53,139.84 L333.33,140.54 L333.14,141.31 L332.95,142.13 L332.76,143.02 L332.57,143.99 L332.38,145.03 L332.19,146.15 L332.00,147.37 L331.81,148.69 L331.62,150.11 L331.43,151.65 L331.25,153.32 L331.06,155.13 L330.87,157.08 L330.68,159.20 L330.50,161.49 L330.31,163.97 L330.12,166.66 L329.93,169.57 L329.75,172.72 L329.56,176.14 L329.37,179.83 L329.19,183.84 L329.00,188.18 L328.81,192.88 L328.62,197.97 L328.44,203.48 L328.45,204.10Z"/>
<path d="M341.35,188.60 L341.36,188.02 L341.58,183.82 L341.79,179.94 L342.00,176.36 L342.21,173.05 L342.43,170.00 L342.64,167.19 L342.85,164.59 L343.06,162.19 L343.28,159.98 L343.49,157.94 L343.70,156.05 L343.91,154.32 L344.13,152.71 L344.34,151.24 L344.55,149.87 L344.76,148.62 L344.97,147.46 L345.18,146.39 L345.39,145.41 L345.60,144.50 L345.81,143.67 L346.02,142.90 L346.23,142.20 L346.44,141.55 L346.65,140.95 L346.85,140.41 L347.04,139.90 L347.24,139.44 L347.43,139.01 L347.61,138.62 L347.80,138.26 L347.99,137.94 L348.17,137.63 L348.36,137.36 L348.54,137.11 L348.72,136.88 L348.90,136.66 L349.08,136.47 L349.26,136.29 L349.43,136.13 L349.61,135.98 L349.78,135.84 L349.96,135.71 L350.14,135.59 L350.31,135.48 L350.49,135.38 L350.66,135.29 L350.84,135.20 L351.02,135.12 L351.20,135.04 L351.38,134.98 L351.56,134.91 L351.74,134.85 L351.92,134.80 L352.11,134.74 L352.29,134.70 L352.48,134.65 L352.67,134.61 L352.85,134.57 L353.04,134.54 L353.23,134.50 L353.42,134.47 L353.61,134.45 L353.80,134.42 L354.00,134.40 L354.19,134.37 L354.38,134.35 L354.58,134.33 L354.77,134.32 L354.96,134.30 L355.16,134.28 L355.36,134.27 L355.55,134.26 L355.75,134.25 L355.94,134.23 L356.14,134.22 L356.34,134.21 L356.53,134.21 L356.73,134.20 L356.93,134.19 L356.87,132.59 L356.67,132.60 L356.47,132.61 L356.26,132.62 L356.06,132.63 L355.86,132.64 L355.65,132.65 L355.45,132.66 L355.24,132.67 L355.04,132.69 L354.84,132.70 L354.63,132.72 L354.42,132.74 L354.22,132.76 L354.01,132.78 L353.80,132.81 L353.60,132.83 L353.39,132.86 L353.18,132.89 L352.97,132.93 L352.76,132.96 L352.55,133.00 L352.33,133.05 L352.12,133.09 L351.91,133.14 L351.69,133.20 L351.48,133.26 L351.26,133.33 L351.04,133.40 L350.82,133.47 L350.60,133.56 L350.38,133.65 L350.16,133.75 L349.94,133.86 L349.71,133.98 L349.49,134.11 L349.26,134.25 L349.04,134.40 L348.82,134.56 L348.59,134.74 L348.37,134.93 L348.14,135.14 L347.92,135.36 L347.70,135.61 L347.48,135.87 L347.26,136.15 L347.04,136.45 L346.83,136.77 L346.61,137.12 L346.40,137.50 L346.19,137.90 L345.97,138.34 L345.76,138.81 L345.56,139.31 L345.35,139.86 L345.15,140.45 L344.96,141.09 L344.77,141.78 L344.58,142.52 L344.39,143.32 L344.20,144.18 L344.01,145.12 L343.82,146.13 L343.63,147.22 L343.44,148.40 L343.25,149.68 L343.06,151.06 L342.87,152.55 L342.69,154.17 L342.50,155.92 L342.31,157.82 L342.12,159.87 L341.94,162.09 L341.75,164.50 L341.56,167.11 L341.37,169.93 L341.19,172.99 L341.00,176.30 L340.81,179.89 L340.62,183.77 L340.44,187.98 L340.45,188.60Z"/>
<path d="M353.05,176.60 L353.06,176.02 L353.27,172.85 L353.49,169.91 L353.70,167.20 L353.91,164.71 L354.13,162.40 L354.34,160.27 L354.55,158.31 L354.76,156.49 L354.98,154.82 L355.19,153.28 L355.40,151.86 L355.61,150.55 L355.82,149.34 L356.03,148.23 L356.24,147.20 L356.46,146.25 L356.67,145.38 L356.87,144.58 L357.08,143.84 L357.29,143.17 L357.50,142.54 L357.71,141.97 L357.91,141.45 L358.12,140.96 L358.32,140.52 L358.52,140.12 L358.71,139.75 L358.90,139.40 L359.08,139.09 L359.27,138.80 L359.45,138.53 L359.63,138.29 L359.81,138.07 L359.99,137.87 L360.17,137.68 L360.34,137.51 L360.52,137.35 L360.70,137.21 L360.87,137.07 L361.05,136.95 L361.22,136.84 L361.40,136.73 L361.58,136.63 L361.75,136.54 L361.93,136.46 L362.11,136.38 L362.29,136.31 L362.47,136.24 L362.65,136.18 L362.83,136.12 L363.02,136.07 L363.20,136.02 L363.39,135.97 L363.57,135.93 L363.76,135.89 L363.95,135.86 L364.14,135.82 L364.33,135.79 L364.52,135.76 L364.71,135.73 L364.90,135.71 L365.09,135.68 L365.29,135.66 L365.48,135.64 L365.67,135.63 L365.87,135.61 L366.06,135.59 L366.26,135.58 L366.45,135.56 L366.65,135.55 L366.85,135.54 L367.04,135.53 L367.24,135.52 L367.44,135.51 L367.63,135.50 L367.83,135.49 L368.03,135.49 L368.23,135.48 L368.42,135.47 L368.62,135.47 L368.58,133.87 L368.38,133.87 L368.17,133.88 L367.97,133.89 L367.77,133.90 L367.57,133.90 L367.36,133.91 L367.16,133.92 L366.96,133.93 L366.75,133.94 L366.55,133.95 L366.35,133.97 L366.14,133.98 L365.94,134.00 L365.73,134.01 L365.53,134.03 L365.32,134.05 L365.11,134.07 L364.91,134.10 L364.70,134.12 L364.49,134.15 L364.28,134.18 L364.07,134.21 L363.86,134.24 L363.65,134.28 L363.44,134.32 L363.23,134.37 L363.01,134.42 L362.80,134.47 L362.58,134.53 L362.37,134.59 L362.15,134.66 L361.93,134.74 L361.71,134.82 L361.49,134.91 L361.27,135.00 L361.05,135.11 L360.82,135.22 L360.60,135.34 L360.38,135.48 L360.15,135.62 L359.93,135.78 L359.70,135.95 L359.48,136.14 L359.26,136.34 L359.03,136.55 L358.81,136.79 L358.59,137.04 L358.37,137.31 L358.15,137.60 L357.93,137.91 L357.72,138.25 L357.50,138.61 L357.29,139.00 L357.08,139.42 L356.88,139.88 L356.68,140.37 L356.49,140.90 L356.29,141.48 L356.10,142.09 L355.91,142.75 L355.72,143.47 L355.53,144.24 L355.33,145.07 L355.14,145.97 L354.96,146.94 L354.77,147.99 L354.58,149.13 L354.39,150.36 L354.20,151.68 L354.01,153.12 L353.82,154.68 L353.64,156.37 L353.45,158.19 L353.26,160.17 L353.07,162.30 L352.89,164.62 L352.70,167.13 L352.51,169.84 L352.33,172.79 L352.14,175.98 L352.15,176.60Z"/>
<path d="M365.05,167.20 L365.06,166.63 L365.27,164.26 L365.49,162.06 L365.70,160.04 L365.91,158.17 L366.12,156.44 L366.34,154.85 L366.55,153.38 L366.76,152.03 L366.97,150.78 L367.18,149.63 L367.39,148.57 L367.61,147.60 L367.82,146.70 L368.03,145.87 L368.24,145.11 L368.44,144.41 L368.65,143.76 L368.86,143.17 L369.07,142.63 L369.27,142.13 L369.47,141.67 L369.68,141.25 L369.88,140.87 L370.08,140.52 L370.28,140.20 L370.47,139.91 L370.66,139.63 L370.84,139.38 L371.02,139.15 L371.20,138.94 L371.38,138.75 L371.55,138.57 L371.73,138.41 L371.91,138.26 L372.08,138.12 L372.26,138.00 L372.43,137.88 L372.61,137.77 L372.78,137.67 L372.96,137.58 L373.14,137.49 L373.32,137.41 L373.50,137.34 L373.68,137.27 L373.86,137.20 L374.04,137.15 L374.22,137.09 L374.41,137.04 L374.59,136.99 L374.78,136.95 L374.96,136.91 L375.15,136.87 L375.34,136.83 L375.53,136.80 L375.72,136.77 L375.91,136.74 L376.10,136.72 L376.30,136.69 L376.49,136.67 L376.68,136.65 L376.88,136.63 L377.07,136.61 L377.26,136.60 L377.46,136.58 L377.65,136.57 L377.85,136.56 L378.05,136.54 L378.24,136.53 L378.44,136.52 L378.64,136.51 L378.83,136.51 L379.03,136.50 L379.23,136.49 L379.43,136.48 L379.62,136.48 L379.82,136.47 L380.02,136.47 L380.22,136.46 L380.42,136.46 L380.62,136.45 L380.58,134.85 L380.38,134.86 L380.18,134.86 L379.98,134.87 L379.78,134.87 L379.58,134.88 L379.37,134.88 L379.17,134.89 L378.97,134.90 L378.77,134.91 L378.56,134.92 L378.36,134.93 L378.16,134.94 L377.95,134.95 L377.75,134.96 L377.55,134.97 L377.34,134.99 L377.14,135.00 L376.93,135.02 L376.72,135.04 L376.52,135.06 L376.31,135.08 L376.10,135.11 L375.90,135.13 L375.69,135.16 L375.48,135.19 L375.27,135.22 L375.06,135.26 L374.85,135.30 L374.64,135.34 L374.42,135.39 L374.21,135.44 L373.99,135.49 L373.78,135.55 L373.56,135.62 L373.34,135.69 L373.12,135.77 L372.90,135.85 L372.68,135.94 L372.46,136.04 L372.24,136.15 L372.02,136.27 L371.79,136.40 L371.57,136.53 L371.34,136.68 L371.12,136.85 L370.89,137.02 L370.67,137.21 L370.45,137.42 L370.22,137.64 L370.00,137.88 L369.78,138.14 L369.56,138.42 L369.34,138.72 L369.13,139.04 L368.92,139.39 L368.72,139.77 L368.52,140.18 L368.32,140.62 L368.13,141.09 L367.93,141.59 L367.73,142.13 L367.54,142.72 L367.35,143.35 L367.16,144.03 L366.96,144.77 L366.77,145.56 L366.58,146.42 L366.39,147.34 L366.21,148.34 L366.02,149.42 L365.83,150.59 L365.64,151.86 L365.45,153.23 L365.26,154.71 L365.08,156.32 L364.89,158.05 L364.70,159.93 L364.51,161.97 L364.33,164.18 L364.14,166.57 L364.15,167.20Z"/>
<path d="M377.35,161.00 L377.36,160.44 L377.57,158.59 L377.79,156.88 L378.00,155.30 L378.21,153.85 L378.42,152.50 L378.63,151.26 L378.84,150.12 L379.06,149.07 L379.27,148.10 L379.48,147.21 L379.69,146.38 L379.90,145.63 L380.11,144.93 L380.31,144.29 L380.52,143.70 L380.73,143.16 L380.93,142.67 L381.14,142.21 L381.34,141.80 L381.54,141.41 L381.74,141.07 L381.94,140.75 L382.14,140.46 L382.33,140.19 L382.53,139.95 L382.72,139.73 L382.90,139.52 L383.07,139.33 L383.25,139.16 L383.43,139.00 L383.60,138.85 L383.78,138.71 L383.96,138.58 L384.13,138.47 L384.31,138.36 L384.48,138.26 L384.66,138.17 L384.84,138.08 L385.01,138.00 L385.19,137.93 L385.37,137.86 L385.56,137.80 L385.74,137.74 L385.92,137.69 L386.10,137.63 L386.29,137.59 L386.48,137.54 L386.66,137.50 L386.85,137.47 L387.04,137.43 L387.23,137.40 L387.42,137.37 L387.61,137.34 L387.80,137.32 L387.99,137.29 L388.19,137.27 L388.38,137.25 L388.57,137.23 L388.77,137.21 L388.96,137.20 L389.16,137.18 L389.35,137.17 L389.55,137.16 L389.75,137.14 L389.94,137.13 L390.14,137.12 L390.34,137.11 L390.53,137.10 L390.73,137.10 L390.93,137.09 L391.13,137.08 L391.32,137.08 L391.52,137.07 L391.72,137.06 L391.92,137.06 L392.12,137.06 L392.32,137.05 L392.52,137.05 L392.71,137.04 L392.91,137.04 L392.89,135.44 L392.69,135.44 L392.48,135.45 L392.28,135.45 L392.08,135.46 L391.88,135.46 L391.68,135.47 L391.48,135.47 L391.28,135.48 L391.07,135.48 L390.87,135.49 L390.67,135.50 L390.47,135.51 L390.26,135.51 L390.06,135.52 L389.86,135.53 L389.65,135.55 L389.45,135.56 L389.25,135.57 L389.04,135.59 L388.84,135.60 L388.63,135.62 L388.43,135.64 L388.22,135.66 L388.01,135.68 L387.81,135.70 L387.60,135.73 L387.39,135.76 L387.18,135.79 L386.97,135.82 L386.76,135.86 L386.55,135.89 L386.34,135.94 L386.12,135.98 L385.91,136.03 L385.70,136.09 L385.48,136.15 L385.26,136.21 L385.04,136.28 L384.83,136.36 L384.61,136.44 L384.39,136.53 L384.16,136.63 L383.94,136.74 L383.72,136.86 L383.49,136.98 L383.27,137.12 L383.04,137.27 L382.82,137.43 L382.60,137.61 L382.37,137.79 L382.15,138.00 L381.93,138.22 L381.70,138.46 L381.48,138.71 L381.27,139.00 L381.07,139.30 L380.86,139.63 L380.66,139.98 L380.46,140.35 L380.26,140.76 L380.06,141.19 L379.86,141.66 L379.67,142.16 L379.47,142.70 L379.28,143.28 L379.09,143.90 L378.89,144.58 L378.70,145.31 L378.51,146.09 L378.32,146.94 L378.13,147.86 L377.94,148.85 L377.76,149.92 L377.57,151.09 L377.38,152.34 L377.19,153.70 L377.00,155.17 L376.81,156.76 L376.63,158.49 L376.44,160.36 L376.45,161.00Z"/>
<path d="M389.05,160.00 L389.06,159.44 L389.27,157.69 L389.48,156.06 L389.70,154.56 L389.91,153.18 L390.12,151.90 L390.33,150.73 L390.54,149.64 L390.76,148.64 L390.97,147.72 L391.18,146.87 L391.39,146.09 L391.60,145.38 L391.80,144.71 L392.01,144.11 L392.22,143.55 L392.42,143.04 L392.63,142.57 L392.83,142.14 L393.04,141.75 L393.24,141.39 L393.44,141.06 L393.63,140.76 L393.83,140.48 L394.02,140.23 L394.21,140.01 L394.40,139.80 L394.58,139.60 L394.76,139.42 L394.94,139.25 L395.11,139.10 L395.29,138.96 L395.46,138.83 L395.64,138.71 L395.81,138.60 L395.99,138.50 L396.17,138.40 L396.34,138.31 L396.52,138.23 L396.70,138.16 L396.88,138.09 L397.06,138.02 L397.24,137.96 L397.43,137.90 L397.61,137.85 L397.80,137.80 L397.98,137.76 L398.17,137.72 L398.36,137.68 L398.54,137.64 L398.73,137.61 L398.92,137.58 L399.11,137.55 L399.31,137.52 L399.50,137.50 L399.69,137.48 L399.88,137.46 L400.08,137.44 L400.27,137.42 L400.47,137.40 L400.66,137.39 L400.86,137.37 L401.05,137.36 L401.25,137.35 L401.44,137.34 L401.64,137.33 L401.84,137.32 L402.03,137.31 L402.23,137.30 L402.43,137.29 L402.63,137.28 L402.83,137.28 L403.02,137.27 L403.22,137.27 L403.42,137.26 L403.62,137.26 L403.82,137.25 L404.02,137.25 L404.21,137.24 L404.41,137.24 L404.61,137.24 L404.59,135.64 L404.39,135.64 L404.19,135.64 L403.98,135.65 L403.78,135.65 L403.58,135.66 L403.38,135.66 L403.18,135.67 L402.98,135.67 L402.77,135.68 L402.57,135.69 L402.37,135.69 L402.17,135.70 L401.97,135.71 L401.76,135.72 L401.56,135.73 L401.36,135.74 L401.15,135.75 L400.95,135.76 L400.74,135.78 L400.54,135.79 L400.33,135.81 L400.13,135.83 L399.92,135.84 L399.72,135.86 L399.51,135.89 L399.30,135.91 L399.09,135.94 L398.89,135.97 L398.68,136.00 L398.47,136.03 L398.26,136.07 L398.04,136.11 L397.83,136.15 L397.62,136.20 L397.40,136.25 L397.19,136.31 L396.97,136.37 L396.76,136.44 L396.54,136.51 L396.32,136.59 L396.10,136.67 L395.88,136.77 L395.66,136.87 L395.43,136.98 L395.21,137.10 L394.99,137.23 L394.76,137.37 L394.54,137.53 L394.31,137.69 L394.09,137.87 L393.86,138.07 L393.64,138.28 L393.42,138.50 L393.20,138.75 L392.99,139.02 L392.78,139.31 L392.57,139.62 L392.37,139.96 L392.16,140.32 L391.96,140.70 L391.76,141.11 L391.57,141.56 L391.37,142.04 L391.18,142.55 L390.98,143.10 L390.79,143.70 L390.60,144.34 L390.40,145.04 L390.21,145.79 L390.02,146.60 L389.83,147.47 L389.64,148.41 L389.46,149.43 L389.27,150.54 L389.08,151.73 L388.89,153.03 L388.70,154.42 L388.52,155.94 L388.33,157.58 L388.14,159.36 L388.15,160.00Z"/>
<path d="M514.50,125.67 L515.00,125.60 L515.50,126.20 L516.00,125.81 L516.50,125.78 L517.00,125.60 L517.50,125.28 L518.00,124.90 L518.50,126.12 L519.00,124.93 L519.50,126.00 L520.00,125.31 L520.50,126.18 L521.00,125.28 L521.50,126.06 L522.00,125.87 L522.50,125.71 L523.00,124.93 L523.50,125.96 L524.00,125.35 L524.50,125.26 L525.00,125.10 L525.50,125.92 L526.00,125.46 L526.50,125.59 L527.00,125.42 L527.50,125.87 L528.00,125.51 L528.50,125.55 L529.00,125.51 L529.50,125.44 L530.00,126.19 L530.50,125.54 L531.00,125.27 L531.00,130.78 L530.50,130.39 L530.00,130.78 L529.50,130.81 L529.00,130.30 L528.50,129.80 L528.00,129.68 L527.50,129.80 L527.00,129.97 L526.50,130.84 L526.00,130.64 L525.50,130.57 L525.00,130.77 L524.50,130.85 L524.00,130.69 L523.50,130.85 L523.00,130.71 L522.50,129.81 L522.00,130.69 L521.50,129.80 L521.00,129.95 L520.50,130.93 L520.00,129.62 L519.50,130.76 L519.00,130.70 L518.50,130.76 L518.00,130.80 L517.50,130.11 L517.00,130.49 L516.50,130.27 L516.00,129.94 L515.50,130.61 L515.00,129.86 L514.50,129.95Z"/>
<path d="M545.00,123.96 L545.45,122.86 L545.90,123.71 L546.35,124.39 L546.80,123.76 L547.25,124.36 L547.70,124.21 L548.15,123.46 L548.60,123.97 L549.05,124.64 L549.50,124.68 L549.95,124.54 L550.40,124.96 L550.85,124.83 L551.30,124.14 L551.75,124.21 L552.20,124.90 L552.65,124.92 L553.10,124.69 L553.55,125.19 L554.00,125.24 L554.45,124.79 L554.90,125.42 L555.35,124.27 L555.80,125.46 L556.25,125.49 L556.70,124.24 L557.15,124.88 L557.60,124.31 L558.05,125.01 L558.50,124.87 L558.95,124.93 L559.40,124.98 L559.85,124.79 L560.30,125.63 L560.75,124.78 L561.20,125.03 L561.65,124.66 L562.10,125.20 L562.55,125.54 L563.00,125.52 L563.45,125.06 L563.90,125.67 L564.35,125.67 L564.80,124.69 L565.25,124.41 L565.70,125.67 L566.15,125.15 L566.60,124.23 L567.05,125.42 L567.50,125.05 L567.95,125.64 L568.40,125.67 L568.85,125.65 L569.30,125.66 L569.75,125.65 L570.20,124.90 L570.65,124.87 L571.10,125.67 L571.55,124.91 L572.00,124.88 L572.45,125.08 L572.90,125.36 L573.35,125.58 L573.80,124.90 L574.25,125.67 L574.70,124.67 L575.15,125.53 L575.60,125.63 L576.05,125.32 L576.50,125.47 L576.95,125.39 L577.40,125.64 L577.85,125.48 L578.30,125.08 L578.75,125.45 L579.20,124.34 L579.65,125.19 L580.10,125.67 L580.55,124.93 L581.00,125.51 L581.45,124.24 L581.90,125.13 L582.35,125.40 L582.80,125.46 L583.25,125.13 L583.70,124.70 L584.15,125.67 L584.60,125.41 L585.05,124.68 L585.50,125.67 L585.95,124.69 L586.40,125.18 L586.85,124.59 L587.30,124.97 L587.75,125.49 L588.20,125.22 L588.65,125.61 L589.10,124.37 L589.55,125.12 L590.00,125.35 L590.45,125.58 L590.90,124.73 L591.35,125.66 L591.80,124.78 L592.25,125.17 L592.70,124.50 L593.15,125.33 L593.60,125.62 L594.05,125.63 L594.50,125.48 L594.95,125.43 L595.40,125.64 L595.85,124.18 L596.30,125.66 L596.75,124.75 L597.20,125.14 L597.65,125.27 L598.10,125.67 L598.55,124.55 L599.00,125.19 L599.45,124.76 L599.90,124.33 L600.35,124.67 L600.80,125.58 L601.25,125.61 L601.70,125.66 L602.15,125.21 L602.60,125.36 L603.05,124.43 L603.50,125.14 L603.95,125.65 L604.40,125.58 L604.85,125.06 L605.30,125.00 L605.75,125.37 L606.20,124.28 L606.65,125.60 L607.10,125.58 L607.55,124.45 L608.00,124.62 L608.45,124.75 L608.90,125.05 L609.35,125.67 L609.80,124.82 L610.25,124.99 L610.70,125.15 L611.15,125.66 L611.60,125.58 L612.05,125.33 L612.50,125.59 L612.95,124.99 L613.40,124.90 L613.85,125.67 L614.30,125.60 L614.75,124.55 L615.20,125.65 L615.65,125.66 L616.10,124.61 L616.55,125.37 L617.00,124.66 L617.45,125.08 L617.90,125.60 L618.35,124.91 L618.80,125.64 L619.25,125.57 L619.70,125.64 L620.15,124.62 L620.60,125.63 L621.05,125.52 L621.50,125.66 L621.95,125.67 L622.40,125.01 L622.85,125.33 L623.30,125.58 L623.75,125.48 L624.20,124.18 L624.65,125.66 L625.10,124.47 L625.55,124.88 L626.00,124.24 L626.45,124.70 L626.90,125.65 L627.35,124.64 L627.80,125.62 L628.25,124.43 L628.70,125.19 L629.15,125.63 L629.60,124.92 L630.05,125.67 L630.50,125.12 L630.95,125.56 L631.40,125.11 L631.85,124.69 L632.30,125.61 L632.75,124.87 L633.20,124.89 L633.65,124.69 L634.10,124.61 L634.55,125.31 L635.00,124.43 L635.45,124.53 L635.90,125.62 L636.35,125.47 L636.80,125.47 L637.25,125.67 L637.70,125.38 L638.15,125.65 L638.60,124.67 L639.05,125.52 L639.50,125.46 L639.95,125.67 L640.40,124.31 L640.85,125.28 L641.30,125.24 L641.75,124.27 L642.20,125.63 L642.65,125.58 L643.10,125.67 L643.55,124.94 L644.00,125.67 L644.45,125.18 L644.90,124.93 L645.35,124.54 L645.80,125.67 L646.25,125.31 L646.70,125.56 L647.15,125.43 L647.60,125.15 L648.05,125.64 L648.50,124.84 L648.95,124.65 L649.40,125.45 L649.85,124.62 L650.30,125.44 L650.75,124.77 L651.20,125.59 L651.65,125.39 L652.10,124.70 L652.55,124.68 L653.00,125.67 L653.45,124.30 L653.90,125.58 L654.35,125.07 L654.80,125.25 L655.25,125.39 L655.70,125.67 L656.15,124.26 L656.60,124.36 L657.05,124.69 L657.50,124.50 L657.95,125.06 L658.40,124.98 L658.85,125.23 L659.30,125.10 L659.75,125.27 L660.20,124.32 L660.65,125.54 L661.10,125.65 L661.55,124.30 L662.00,125.57 L662.45,125.25 L662.90,125.65 L663.35,125.55 L663.80,125.55 L664.25,125.66 L664.70,124.62 L665.15,125.19 L665.60,125.64 L666.05,125.40 L666.50,125.17 L666.95,125.61 L667.40,125.70 L667.85,125.57 L668.30,125.81 L668.75,124.71 L669.20,125.38 L669.65,125.74 L670.10,125.75 L670.55,125.86 L671.00,124.78 L671.45,125.93 L671.90,125.66 L672.35,125.95 L672.80,124.61 L673.25,125.97 L673.70,125.84 L674.15,125.47 L674.60,125.05 L675.05,125.26 L675.50,125.21 L675.95,125.16 L676.40,124.83 L676.85,124.95 L677.30,125.21 L677.75,125.72 L678.20,125.60 L678.65,125.17 L679.10,125.54 L679.55,125.79 L680.00,125.32 L680.45,125.87 L680.90,125.88 L681.35,125.18 L681.80,125.73 L682.25,126.06 L682.70,126.08 L683.15,125.61 L683.60,124.85 L684.05,125.05 L684.50,124.74 L684.95,125.85 L685.40,126.13 L685.85,125.65 L686.30,124.86 L686.75,125.70 L687.20,125.73 L687.65,125.43 L688.10,125.95 L688.55,125.96 L689.00,125.46 L689.45,126.13 L689.90,125.91 L690.35,125.66 L690.80,124.76 L691.25,125.87 L691.70,124.67 L692.15,125.74 L692.60,126.12 L693.05,124.73 L693.50,125.77 L693.95,124.97 L694.40,125.16 L694.85,124.99 L695.30,126.14 L695.75,125.79 L696.20,126.13 L696.65,125.59 L697.10,126.00 L697.55,125.58 L698.00,125.94 L698.45,126.05 L698.90,126.19 L699.35,125.13 L699.80,125.53 L700.25,125.83 L700.70,126.10 L701.15,125.78 L701.60,125.71 L702.05,126.19 L702.50,125.35 L702.95,126.20 L703.40,125.81 L703.85,125.66 L704.30,126.22 L704.75,125.33 L705.20,125.46 L705.65,126.19 L706.10,126.22 L706.55,125.72 L707.00,125.93 L707.45,126.23 L707.90,125.73 L708.35,125.95 L708.80,126.15 L709.25,124.95 L709.70,126.10 L710.15,125.25 L710.60,125.71 L711.05,125.89 L711.50,126.17 L711.95,125.49 L712.40,126.12 L712.85,125.91 L713.30,126.18 L713.75,126.08 L714.20,124.86 L714.65,125.80 L714.65,128.25 L714.20,128.36 L713.75,128.29 L713.30,128.29 L712.85,129.19 L712.40,129.40 L711.95,128.33 L711.50,128.49 L711.05,129.62 L710.60,129.65 L710.15,128.41 L709.70,129.49 L709.25,129.38 L708.80,128.29 L708.35,128.87 L707.90,129.68 L707.45,129.49 L707.00,128.53 L706.55,128.49 L706.10,129.54 L705.65,128.43 L705.20,128.51 L704.75,128.48 L704.30,128.33 L703.85,129.31 L703.40,129.36 L702.95,128.39 L702.50,128.37 L702.05,128.39 L701.60,128.61 L701.15,129.85 L700.70,129.00 L700.25,128.83 L699.80,128.44 L699.35,128.90 L698.90,128.53 L698.45,129.11 L698.00,129.33 L697.55,128.40 L697.10,129.89 L696.65,128.95 L696.20,128.46 L695.75,128.80 L695.30,128.55 L694.85,128.69 L694.40,129.90 L693.95,129.15 L693.50,128.46 L693.05,129.47 L692.60,128.60 L692.15,129.45 L691.70,128.63 L691.25,129.05 L690.80,128.82 L690.35,129.63 L689.90,128.95 L689.45,128.69 L689.00,128.90 L688.55,129.84 L688.10,129.02 L687.65,128.73 L687.20,128.90 L686.75,130.00 L686.30,129.41 L685.85,128.89 L685.40,128.52 L684.95,129.77 L684.50,128.59 L684.05,129.59 L683.60,128.70 L683.15,128.56 L682.70,129.04 L682.25,128.69 L681.80,128.85 L681.35,129.64 L680.90,128.72 L680.45,129.03 L680.00,128.70 L679.55,128.89 L679.10,128.80 L678.65,129.73 L678.20,128.85 L677.75,129.99 L677.30,129.12 L676.85,128.61 L676.40,128.64 L675.95,129.37 L675.50,128.96 L675.05,129.45 L674.60,129.05 L674.15,129.75 L673.70,129.37 L673.25,128.88 L672.80,129.55 L672.35,128.83 L671.90,129.59 L671.45,129.03 L671.00,129.12 L670.55,128.85 L670.10,129.76 L669.65,130.36 L669.20,129.28 L668.75,129.02 L668.30,129.15 L667.85,129.50 L667.40,129.40 L666.95,129.12 L666.50,129.38 L666.05,129.52 L665.60,129.85 L665.15,129.75 L664.70,129.68 L664.25,129.57 L663.80,129.21 L663.35,129.37 L662.90,129.15 L662.45,129.16 L662.00,129.45 L661.55,129.52 L661.10,129.65 L660.65,129.75 L660.20,129.25 L659.75,129.41 L659.30,129.22 L658.85,130.41 L658.40,129.24 L657.95,129.23 L657.50,129.13 L657.05,130.30 L656.60,129.73 L656.15,130.03 L655.70,129.15 L655.25,129.51 L654.80,129.13 L654.35,129.32 L653.90,129.39 L653.45,130.43 L653.00,129.53 L652.55,130.20 L652.10,130.37 L651.65,130.57 L651.20,129.29 L650.75,129.30 L650.30,130.45 L649.85,129.54 L649.40,129.39 L648.95,130.44 L648.50,129.17 L648.05,129.62 L647.60,130.24 L647.15,129.15 L646.70,129.15 L646.25,129.50 L645.80,129.15 L645.35,129.90 L644.90,129.14 L644.45,129.54 L644.00,129.66 L643.55,129.18 L643.10,129.14 L642.65,130.13 L642.20,129.14 L641.75,129.20 L641.30,129.13 L640.85,129.55 L640.40,129.49 L639.95,130.27 L639.50,129.97 L639.05,129.88 L638.60,130.25 L638.15,129.89 L637.70,129.52 L637.25,129.53 L636.80,129.66 L636.35,129.17 L635.90,130.16 L635.45,129.23 L635.00,129.47 L634.55,129.13 L634.10,130.25 L633.65,129.29 L633.20,129.13 L632.75,129.37 L632.30,129.13 L631.85,129.63 L631.40,129.88 L630.95,129.19 L630.50,129.49 L630.05,129.14 L629.60,129.18 L629.15,130.02 L628.70,129.15 L628.25,129.20 L627.80,129.41 L627.35,129.54 L626.90,129.13 L626.45,129.30 L626.00,129.13 L625.55,129.25 L625.10,129.13 L624.65,129.25 L624.20,130.41 L623.75,130.60 L623.30,129.19 L622.85,129.25 L622.40,129.19 L621.95,130.33 L621.50,130.56 L621.05,130.35 L620.60,129.49 L620.15,129.29 L619.70,129.24 L619.25,129.38 L618.80,130.26 L618.35,129.58 L617.90,129.13 L617.45,129.16 L617.00,129.47 L616.55,129.30 L616.10,129.72 L615.65,130.42 L615.20,129.43 L614.75,130.31 L614.30,130.43 L613.85,130.42 L613.40,129.18 L612.95,129.13 L612.50,129.16 L612.05,129.17 L611.60,129.15 L611.15,129.28 L610.70,129.99 L610.25,129.26 L609.80,130.45 L609.35,129.16 L608.90,130.58 L608.45,129.88 L608.00,129.13 L607.55,130.35 L607.10,129.31 L606.65,129.13 L606.20,130.60 L605.75,129.16 L605.30,129.36 L604.85,130.50 L604.40,129.60 L603.95,130.51 L603.50,129.36 L603.05,129.13 L602.60,130.47 L602.15,130.26 L601.70,129.13 L601.25,129.17 L600.80,129.13 L600.35,130.52 L599.90,130.01 L599.45,129.40 L599.00,129.23 L598.55,129.48 L598.10,130.60 L597.65,129.13 L597.20,129.30 L596.75,129.16 L596.30,129.73 L595.85,129.33 L595.40,129.13 L594.95,129.53 L594.50,129.60 L594.05,129.86 L593.60,129.18 L593.15,129.65 L592.70,129.53 L592.25,130.33 L591.80,129.21 L591.35,130.10 L590.90,129.44 L590.45,129.97 L590.00,129.19 L589.55,129.81 L589.10,129.21 L588.65,129.97 L588.20,130.08 L587.75,129.14 L587.30,130.38 L586.85,130.10 L586.40,129.24 L585.95,130.25 L585.50,130.17 L585.05,130.31 L584.60,129.64 L584.15,129.23 L583.70,129.25 L583.25,130.33 L582.80,129.83 L582.35,130.31 L581.90,129.27 L581.45,130.16 L581.00,129.68 L580.55,130.15 L580.10,130.55 L579.65,129.25 L579.20,130.05 L578.75,130.05 L578.30,129.39 L577.85,129.75 L577.40,130.08 L576.95,129.81 L576.50,129.62 L576.05,129.13 L575.60,130.24 L575.15,129.92 L574.70,129.13 L574.25,129.76 L573.80,129.13 L573.35,130.52 L572.90,130.43 L572.45,129.88 L572.00,129.14 L571.55,130.22 L571.10,130.02 L570.65,129.18 L570.20,129.21 L569.75,129.13 L569.30,130.26 L568.85,130.53 L568.40,129.83 L567.95,129.13 L567.50,129.19 L567.05,129.14 L566.60,129.46 L566.15,130.44 L565.70,129.35 L565.25,129.42 L564.80,129.62 L564.35,129.15 L563.90,129.61 L563.45,130.43 L563.00,129.40 L562.55,129.39 L562.10,129.22 L561.65,130.05 L561.20,129.33 L560.75,130.38 L560.30,129.13 L559.85,129.13 L559.40,129.42 L558.95,129.15 L558.50,129.60 L558.05,129.64 L557.60,129.60 L557.15,129.95 L556.70,129.56 L556.25,129.04 L555.80,129.10 L555.35,129.40 L554.90,129.72 L554.45,129.84 L554.00,129.42 L553.55,129.03 L553.10,129.81 L552.65,130.28 L552.20,128.94 L551.75,128.94 L551.30,128.58 L550.85,128.68 L550.40,128.26 L549.95,128.63 L549.50,127.84 L549.05,128.38 L548.60,127.61 L548.15,126.79 L547.70,126.90 L547.25,127.76 L546.80,127.38 L546.35,126.40 L545.90,126.21 L545.45,125.37 L545.00,125.39Z"/>
<path d="M535.60,172.90 L535.62,172.31 L535.84,167.30 L536.06,162.88 L536.28,158.97 L536.50,155.53 L536.72,152.49 L536.94,149.81 L537.16,147.45 L537.38,145.37 L537.60,143.53 L537.82,141.91 L538.04,140.49 L538.26,139.24 L538.48,138.14 L538.69,137.17 L538.91,136.32 L539.12,135.58 L539.32,134.92 L539.51,134.35 L539.70,133.85 L539.88,133.42 L540.07,133.04 L540.25,132.71 L540.43,132.42 L540.60,132.18 L540.77,131.96 L540.94,131.78 L541.11,131.61 L541.27,131.47 L541.44,131.35 L541.60,131.24 L541.76,131.14 L541.93,131.06 L542.10,130.98 L542.27,130.91 L542.44,130.85 L542.61,130.79 L542.79,130.74 L542.97,130.70 L543.15,130.66 L543.33,130.63 L543.52,130.59 L543.70,130.57 L543.89,130.54 L544.08,130.52 L544.27,130.50 L544.46,130.48 L544.66,130.47 L544.85,130.45 L545.04,130.44 L545.24,130.43 L545.43,130.42 L545.63,130.41 L545.83,130.41 L546.02,130.40 L546.22,130.39 L546.42,130.39 L546.62,130.38 L546.81,130.38 L547.01,130.38 L547.21,130.37 L547.41,130.37 L547.61,130.37 L547.81,130.37 L548.01,130.36 L548.21,130.36 L548.41,130.36 L548.60,130.36 L548.80,130.36 L549.00,130.36 L549.20,130.36 L549.40,130.36 L549.60,130.36 L549.80,130.35 L550.00,130.35 L550.20,130.35 L550.40,130.35 L550.60,130.35 L550.80,130.35 L551.00,130.35 L551.20,130.35 L551.20,128.85 L551.00,128.85 L550.80,128.85 L550.60,128.85 L550.40,128.85 L550.20,128.85 L550.00,128.85 L549.80,128.85 L549.60,128.86 L549.40,128.86 L549.20,128.86 L549.00,128.86 L548.80,128.86 L548.60,128.86 L548.39,128.86 L548.19,128.86 L547.99,128.86 L547.79,128.87 L547.59,128.87 L547.39,128.87 L547.19,128.87 L546.99,128.88 L546.79,128.88 L546.58,128.88 L546.38,128.89 L546.18,128.89 L545.98,128.90 L545.77,128.91 L545.57,128.91 L545.37,128.92 L545.16,128.93 L544.96,128.94 L544.75,128.96 L544.54,128.97 L544.34,128.99 L544.13,129.01 L543.92,129.03 L543.71,129.05 L543.50,129.08 L543.28,129.11 L543.07,129.15 L542.85,129.19 L542.63,129.24 L542.41,129.29 L542.19,129.36 L541.96,129.43 L541.73,129.51 L541.50,129.60 L541.27,129.71 L541.04,129.83 L540.80,129.97 L540.56,130.13 L540.33,130.31 L540.09,130.51 L539.86,130.74 L539.63,130.99 L539.40,131.28 L539.17,131.59 L538.95,131.95 L538.73,132.35 L538.52,132.79 L538.30,133.29 L538.09,133.85 L537.88,134.48 L537.68,135.18 L537.49,135.98 L537.31,136.87 L537.12,137.88 L536.94,139.02 L536.76,140.30 L536.58,141.75 L536.40,143.39 L536.22,145.25 L536.04,147.35 L535.86,149.73 L535.68,152.42 L535.50,155.47 L535.32,158.92 L535.14,162.83 L534.96,167.26 L534.78,172.29 L534.80,172.90Z"/>
<path d="M547.90,210.90 L547.92,210.31 L548.13,202.25 L548.35,194.99 L548.57,188.46 L548.79,182.59 L549.00,177.30 L549.22,172.54 L549.44,168.25 L549.66,164.40 L549.87,160.93 L550.09,157.81 L550.31,155.00 L550.53,152.47 L550.74,150.20 L550.96,148.15 L551.18,146.32 L551.39,144.66 L551.61,143.18 L551.82,141.85 L552.04,140.65 L552.24,139.57 L552.43,138.61 L552.63,137.74 L552.83,136.96 L553.02,136.26 L553.21,135.64 L553.41,135.08 L553.60,134.59 L553.78,134.14 L553.97,133.75 L554.16,133.39 L554.34,133.08 L554.52,132.80 L554.70,132.55 L554.87,132.34 L555.05,132.14 L555.22,131.96 L555.39,131.81 L555.56,131.67 L555.73,131.54 L555.90,131.43 L556.07,131.33 L556.24,131.24 L556.41,131.15 L556.59,131.08 L556.76,131.01 L556.94,130.95 L557.12,130.89 L557.30,130.84 L557.48,130.79 L557.66,130.75 L557.85,130.71 L558.03,130.68 L558.22,130.65 L558.41,130.62 L558.60,130.59 L558.79,130.57 L558.98,130.55 L559.17,130.53 L559.36,130.51 L559.56,130.49 L559.75,130.48 L559.95,130.47 L560.14,130.46 L560.34,130.44 L560.53,130.44 L560.73,130.43 L560.93,130.42 L561.12,130.41 L561.32,130.41 L561.52,130.40 L561.72,130.40 L561.92,130.39 L562.11,130.39 L562.31,130.38 L562.51,130.38 L562.71,130.38 L562.91,130.37 L563.11,130.37 L563.31,130.37 L563.51,130.37 L563.49,128.87 L563.29,128.87 L563.09,128.87 L562.89,128.87 L562.69,128.88 L562.49,128.88 L562.29,128.88 L562.09,128.89 L561.88,128.89 L561.68,128.90 L561.48,128.90 L561.28,128.91 L561.08,128.91 L560.87,128.92 L560.67,128.93 L560.47,128.94 L560.26,128.95 L560.06,128.96 L559.85,128.97 L559.65,128.98 L559.44,129.00 L559.24,129.01 L559.03,129.03 L558.82,129.05 L558.61,129.08 L558.40,129.10 L558.19,129.13 L557.98,129.16 L557.77,129.20 L557.55,129.24 L557.34,129.29 L557.12,129.34 L556.90,129.39 L556.68,129.46 L556.46,129.53 L556.24,129.60 L556.01,129.69 L555.79,129.79 L555.56,129.90 L555.33,130.03 L555.10,130.16 L554.87,130.32 L554.64,130.49 L554.41,130.68 L554.18,130.88 L553.95,131.11 L553.73,131.37 L553.50,131.65 L553.28,131.96 L553.06,132.30 L552.84,132.67 L552.63,133.08 L552.42,133.53 L552.20,134.02 L551.99,134.57 L551.79,135.17 L551.58,135.84 L551.37,136.58 L551.17,137.39 L550.97,138.29 L550.76,139.29 L550.56,140.39 L550.38,141.62 L550.19,142.98 L550.01,144.49 L549.82,146.16 L549.64,148.02 L549.46,150.08 L549.27,152.37 L549.09,154.91 L548.91,157.73 L548.73,160.86 L548.54,164.34 L548.36,168.20 L548.18,172.49 L548.00,177.26 L547.81,182.55 L547.63,188.43 L547.45,194.97 L547.27,202.23 L547.08,210.29 L547.10,210.90Z"/>
<path d="M559.90,221.40 L559.92,220.81 L560.13,211.70 L560.35,203.50 L560.57,196.12 L560.79,189.48 L561.00,183.50 L561.22,178.12 L561.44,173.27 L561.66,168.92 L561.87,164.99 L562.09,161.47 L562.31,158.29 L562.53,155.43 L562.74,152.86 L562.96,150.55 L563.18,148.47 L563.39,146.60 L563.61,144.92 L563.83,143.41 L564.04,142.06 L564.24,140.84 L564.44,139.74 L564.63,138.76 L564.83,137.87 L565.03,137.08 L565.22,136.37 L565.41,135.74 L565.61,135.17 L565.80,134.66 L565.99,134.21 L566.17,133.81 L566.36,133.45 L566.54,133.13 L566.72,132.85 L566.90,132.59 L567.08,132.37 L567.25,132.17 L567.42,131.99 L567.60,131.83 L567.77,131.69 L567.94,131.56 L568.11,131.45 L568.28,131.35 L568.45,131.25 L568.62,131.17 L568.79,131.09 L568.97,131.02 L569.14,130.96 L569.32,130.90 L569.50,130.85 L569.68,130.80 L569.86,130.76 L570.05,130.72 L570.23,130.68 L570.42,130.65 L570.61,130.62 L570.80,130.59 L570.99,130.57 L571.18,130.55 L571.37,130.53 L571.56,130.51 L571.76,130.50 L571.95,130.48 L572.15,130.47 L572.34,130.46 L572.54,130.45 L572.73,130.44 L572.93,130.43 L573.13,130.42 L573.33,130.41 L573.52,130.41 L573.72,130.40 L573.92,130.40 L574.12,130.39 L574.31,130.39 L574.51,130.38 L574.71,130.38 L574.91,130.38 L575.11,130.37 L575.31,130.37 L575.51,130.37 L575.49,128.87 L575.29,128.87 L575.09,128.87 L574.89,128.88 L574.69,128.88 L574.49,128.88 L574.29,128.89 L574.08,128.89 L573.88,128.90 L573.68,128.90 L573.48,128.91 L573.27,128.91 L573.07,128.92 L572.87,128.93 L572.67,128.94 L572.46,128.95 L572.26,128.96 L572.05,128.97 L571.85,128.99 L571.64,129.00 L571.44,129.02 L571.23,129.04 L571.02,129.06 L570.81,129.08 L570.60,129.11 L570.39,129.14 L570.18,129.17 L569.97,129.21 L569.75,129.25 L569.54,129.29 L569.32,129.34 L569.10,129.40 L568.88,129.47 L568.66,129.54 L568.43,129.62 L568.21,129.71 L567.98,129.81 L567.75,129.92 L567.52,130.05 L567.29,130.19 L567.06,130.34 L566.83,130.52 L566.60,130.71 L566.38,130.92 L566.15,131.15 L565.92,131.41 L565.70,131.70 L565.48,132.01 L565.26,132.35 L565.04,132.73 L564.83,133.15 L564.61,133.61 L564.40,134.11 L564.19,134.67 L563.99,135.28 L563.78,135.95 L563.57,136.70 L563.37,137.53 L563.17,138.45 L562.96,139.46 L562.76,140.58 L562.56,141.83 L562.37,143.21 L562.19,144.75 L562.01,146.45 L561.82,148.34 L561.64,150.43 L561.46,152.76 L561.27,155.34 L561.09,158.21 L560.91,161.40 L560.73,164.93 L560.54,168.86 L560.36,173.23 L560.18,178.08 L560.00,183.46 L559.81,189.44 L559.63,196.09 L559.45,203.47 L559.27,211.68 L559.08,220.79 L559.10,221.40Z"/>
<path d="M583.90,221.40 L583.92,220.81 L584.13,211.70 L584.35,203.50 L584.57,196.12 L584.79,189.48 L585.00,183.50 L585.22,178.12 L585.44,173.27 L585.66,168.92 L585.87,164.99 L586.09,161.47 L586.31,158.29 L586.53,155.43 L586.74,152.86 L586.96,150.55 L587.18,148.47 L587.39,146.60 L587.61,144.92 L587.83,143.41 L588.04,142.06 L588.24,140.84 L588.44,139.74 L588.63,138.76 L588.83,137.87 L589.03,137.08 L589.22,136.37 L589.41,135.74 L589.61,135.17 L589.80,134.66 L589.99,134.21 L590.17,133.81 L590.36,133.45 L590.54,133.13 L590.72,132.85 L590.90,132.59 L591.08,132.37 L591.25,132.17 L591.42,131.99 L591.60,131.83 L591.77,131.69 L591.94,131.56 L592.11,131.45 L592.28,131.35 L592.45,131.25 L592.62,131.17 L592.79,131.09 L592.97,131.02 L593.14,130.96 L593.32,130.90 L593.50,130.85 L593.68,130.80 L593.86,130.76 L594.05,130.72 L594.23,130.68 L594.42,130.65 L594.61,130.62 L594.80,130.59 L594.99,130.57 L595.18,130.55 L595.37,130.53 L595.56,130.51 L595.76,130.50 L595.95,130.48 L596.15,130.47 L596.34,130.46 L596.54,130.45 L596.73,130.44 L596.93,130.43 L597.13,130.42 L597.33,130.41 L597.52,130.41 L597.72,130.40 L597.92,130.40 L598.12,130.39 L598.31,130.39 L598.51,130.38 L598.71,130.38 L598.91,130.38 L599.11,130.37 L599.31,130.37 L599.51,130.37 L599.49,128.87 L599.29,128.87 L599.09,128.87 L598.89,128.88 L598.69,128.88 L598.49,128.88 L598.29,128.89 L598.08,128.89 L597.88,128.90 L597.68,128.90 L597.48,128.91 L597.27,128.91 L597.07,128.92 L596.87,128.93 L596.67,128.94 L596.46,128.95 L596.26,128.96 L596.05,128.97 L595.85,128.99 L595.64,129.00 L595.44,129.02 L595.23,129.04 L595.02,129.06 L594.81,129.08 L594.60,129.11 L594.39,129.14 L594.18,129.17 L593.97,129.21 L593.75,129.25 L593.54,129.29 L593.32,129.34 L593.10,129.40 L592.88,129.47 L592.66,129.54 L592.43,129.62 L592.21,129.71 L591.98,129.81 L591.75,129.92 L591.52,130.05 L591.29,130.19 L591.06,130.34 L590.83,130.52 L590.60,130.71 L590.38,130.92 L590.15,131.15 L589.92,131.41 L589.70,131.70 L589.48,132.01 L589.26,132.35 L589.04,132.73 L588.83,133.15 L588.61,133.61 L588.40,134.11 L588.19,134.67 L587.99,135.28 L587.78,135.95 L587.57,136.70 L587.37,137.53 L587.17,138.45 L586.96,139.46 L586.76,140.58 L586.56,141.83 L586.37,143.21 L586.19,144.75 L586.01,146.45 L585.82,148.34 L585.64,150.43 L585.46,152.76 L585.27,155.34 L585.09,158.21 L584.91,161.40 L584.73,164.93 L584.54,168.86 L584.36,173.23 L584.18,178.08 L584.00,183.46 L583.81,189.44 L583.63,196.09 L583.45,203.47 L583.27,211.68 L583.08,220.79 L583.10,221.40Z"/>
<path d="M608.10,220.90 L608.12,220.31 L608.33,211.25 L608.55,203.09 L608.77,195.75 L608.99,189.15 L609.20,183.20 L609.42,177.85 L609.64,173.03 L609.86,168.70 L610.07,164.80 L610.29,161.29 L610.51,158.13 L610.73,155.29 L610.94,152.74 L611.16,150.44 L611.38,148.37 L611.59,146.51 L611.81,144.84 L612.03,143.34 L612.24,141.99 L612.44,140.78 L612.64,139.69 L612.83,138.71 L613.03,137.83 L613.23,137.04 L613.42,136.34 L613.61,135.71 L613.81,135.14 L614.00,134.64 L614.19,134.19 L614.37,133.79 L614.56,133.43 L614.74,133.11 L614.92,132.83 L615.10,132.58 L615.28,132.36 L615.45,132.16 L615.62,131.98 L615.79,131.83 L615.96,131.68 L616.13,131.56 L616.30,131.44 L616.47,131.34 L616.64,131.25 L616.82,131.16 L616.99,131.09 L617.16,131.02 L617.34,130.95 L617.52,130.90 L617.70,130.84 L617.88,130.80 L618.06,130.75 L618.25,130.72 L618.43,130.68 L618.62,130.65 L618.81,130.62 L619.00,130.59 L619.19,130.57 L619.38,130.55 L619.57,130.53 L619.76,130.51 L619.96,130.50 L620.15,130.48 L620.35,130.47 L620.54,130.46 L620.74,130.45 L620.93,130.44 L621.13,130.43 L621.33,130.42 L621.53,130.41 L621.72,130.41 L621.92,130.40 L622.12,130.40 L622.32,130.39 L622.51,130.39 L622.71,130.38 L622.91,130.38 L623.11,130.38 L623.31,130.37 L623.51,130.37 L623.71,130.37 L623.69,128.87 L623.49,128.87 L623.29,128.87 L623.09,128.88 L622.89,128.88 L622.69,128.88 L622.49,128.89 L622.28,128.89 L622.08,128.90 L621.88,128.90 L621.68,128.91 L621.47,128.91 L621.27,128.92 L621.07,128.93 L620.87,128.94 L620.66,128.95 L620.46,128.96 L620.25,128.97 L620.05,128.98 L619.84,129.00 L619.64,129.02 L619.43,129.04 L619.22,129.06 L619.01,129.08 L618.80,129.11 L618.59,129.14 L618.38,129.17 L618.17,129.20 L617.95,129.25 L617.74,129.29 L617.52,129.34 L617.30,129.40 L617.08,129.46 L616.86,129.53 L616.64,129.61 L616.41,129.70 L616.18,129.80 L615.96,129.92 L615.73,130.04 L615.50,130.18 L615.27,130.33 L615.04,130.51 L614.81,130.70 L614.58,130.91 L614.35,131.14 L614.12,131.40 L613.90,131.68 L613.68,131.99 L613.46,132.33 L613.24,132.71 L613.03,133.13 L612.81,133.58 L612.60,134.08 L612.39,134.63 L612.19,135.24 L611.98,135.92 L611.77,136.66 L611.57,137.48 L611.37,138.40 L611.16,139.40 L610.96,140.52 L610.76,141.76 L610.57,143.14 L610.39,144.66 L610.21,146.36 L610.02,148.23 L609.84,150.32 L609.66,152.63 L609.47,155.20 L609.29,158.05 L609.11,161.22 L608.93,164.74 L608.74,168.65 L608.56,172.99 L608.38,177.81 L608.20,183.17 L608.01,189.12 L607.83,195.73 L607.65,203.07 L607.47,211.23 L607.28,220.29 L607.30,220.90Z"/>
<path d="M632.10,220.90 L632.12,220.31 L632.33,211.25 L632.55,203.09 L632.77,195.75 L632.99,189.15 L633.20,183.20 L633.42,177.85 L633.64,173.03 L633.86,168.70 L634.07,164.80 L634.29,161.29 L634.51,158.13 L634.73,155.29 L634.94,152.74 L635.16,150.44 L635.38,148.37 L635.59,146.51 L635.81,144.84 L636.03,143.34 L636.24,141.99 L636.44,140.78 L636.64,139.69 L636.83,138.71 L637.03,137.83 L637.23,137.04 L637.42,136.34 L637.61,135.71 L637.81,135.14 L638.00,134.64 L638.19,134.19 L638.37,133.79 L638.56,133.43 L638.74,133.11 L638.92,132.83 L639.10,132.58 L639.28,132.36 L639.45,132.16 L639.62,131.98 L639.79,131.83 L639.96,131.68 L640.13,131.56 L640.30,131.44 L640.47,131.34 L640.64,131.25 L640.82,131.16 L640.99,131.09 L641.16,131.02 L641.34,130.95 L641.52,130.90 L641.70,130.84 L641.88,130.80 L642.06,130.75 L642.25,130.72 L642.43,130.68 L642.62,130.65 L642.81,130.62 L643.00,130.59 L643.19,130.57 L643.38,130.55 L643.57,130.53 L643.76,130.51 L643.96,130.50 L644.15,130.48 L644.35,130.47 L644.54,130.46 L644.74,130.45 L644.93,130.44 L645.13,130.43 L645.33,130.42 L645.53,130.41 L645.72,130.41 L645.92,130.40 L646.12,130.40 L646.32,130.39 L646.51,130.39 L646.71,130.38 L646.91,130.38 L647.11,130.38 L647.31,130.37 L647.51,130.37 L647.71,130.37 L647.69,128.87 L647.49,128.87 L647.29,128.87 L647.09,128.88 L646.89,128.88 L646.69,128.88 L646.49,128.89 L646.28,128.89 L646.08,128.90 L645.88,128.90 L645.68,128.91 L645.47,128.91 L645.27,128.92 L645.07,128.93 L644.87,128.94 L644.66,128.95 L644.46,128.96 L644.25,128.97 L644.05,128.98 L643.84,129.00 L643.64,129.02 L643.43,129.04 L643.22,129.06 L643.01,129.08 L642.80,129.11 L642.59,129.14 L642.38,129.17 L642.17,129.20 L641.95,129.25 L641.74,129.29 L641.52,129.34 L641.30,129.40 L641.08,129.46 L640.86,129.53 L640.64,129.61 L640.41,129.70 L640.18,129.80 L639.96,129.92 L639.73,130.04 L639.50,130.18 L639.27,130.33 L639.04,130.51 L638.81,130.70 L638.58,130.91 L638.35,131.14 L638.12,131.40 L637.90,131.68 L637.68,131.99 L637.46,132.33 L637.24,132.71 L637.03,133.13 L636.81,133.58 L636.60,134.08 L636.39,134.63 L636.19,135.24 L635.98,135.92 L635.77,136.66 L635.57,137.48 L635.37,138.40 L635.16,139.40 L634.96,140.52 L634.76,141.76 L634.57,143.14 L634.39,144.66 L634.21,146.36 L634.02,148.23 L633.84,150.32 L633.66,152.63 L633.47,155.20 L633.29,158.05 L633.11,161.22 L632.93,164.74 L632.74,168.65 L632.56,172.99 L632.38,177.81 L632.20,183.17 L632.01,189.12 L631.83,195.73 L631.65,203.07 L631.47,211.23 L631.28,220.29 L631.30,220.90Z"/>
<path d="M656.10,220.90 L656.12,220.31 L656.33,211.25 L656.55,203.09 L656.77,195.75 L656.99,189.15 L657.20,183.20 L657.42,177.85 L657.64,173.03 L657.86,168.70 L658.07,164.80 L658.29,161.29 L658.51,158.13 L658.73,155.29 L658.94,152.74 L659.16,150.44 L659.38,148.37 L659.59,146.51 L659.81,144.84 L660.03,143.34 L660.24,141.99 L660.44,140.78 L660.64,139.69 L660.83,138.71 L661.03,137.83 L661.23,137.04 L661.42,136.34 L661.61,135.71 L661.81,135.14 L662.00,134.64 L662.19,134.19 L662.37,133.79 L662.56,133.43 L662.74,133.11 L662.92,132.83 L663.10,132.58 L663.28,132.36 L663.45,132.16 L663.62,131.98 L663.79,131.83 L663.96,131.68 L664.13,131.56 L664.30,131.44 L664.47,131.34 L664.64,131.25 L664.82,131.16 L664.99,131.09 L665.16,131.02 L665.34,130.95 L665.52,130.90 L665.70,130.84 L665.88,130.80 L666.06,130.75 L666.25,130.72 L666.43,130.68 L666.62,130.65 L666.81,130.62 L667.00,130.59 L667.19,130.57 L667.38,130.55 L667.57,130.53 L667.76,130.51 L667.96,130.50 L668.15,130.48 L668.35,130.47 L668.54,130.46 L668.74,130.45 L668.93,130.44 L669.13,130.43 L669.33,130.42 L669.53,130.41 L669.72,130.41 L669.92,130.40 L670.12,130.40 L670.32,130.39 L670.51,130.39 L670.71,130.38 L670.91,130.38 L671.11,130.38 L671.31,130.37 L671.51,130.37 L671.71,130.37 L671.69,128.87 L671.49,128.87 L671.29,128.87 L671.09,128.88 L670.89,128.88 L670.69,128.88 L670.49,128.89 L670.28,128.89 L670.08,128.90 L669.88,128.90 L669.68,128.91 L669.47,128.91 L669.27,128.92 L669.07,128.93 L668.87,128.94 L668.66,128.95 L668.46,128.96 L668.25,128.97 L668.05,128.98 L667.84,129.00 L667.64,129.02 L667.43,129.04 L667.22,129.06 L667.01,129.08 L666.80,129.11 L666.59,129.14 L666.38,129.17 L666.17,129.20 L665.95,129.25 L665.74,129.29 L665.52,129.34 L665.30,129.40 L665.08,129.46 L664.86,129.53 L664.64,129.61 L664.41,129.70 L664.18,129.80 L663.96,129.92 L663.73,130.04 L663.50,130.18 L663.27,130.33 L663.04,130.51 L662.81,130.70 L662.58,130.91 L662.35,131.14 L662.12,131.40 L661.90,131.68 L661.68,131.99 L661.46,132.33 L661.24,132.71 L661.03,133.13 L660.81,133.58 L660.60,134.08 L660.39,134.63 L660.19,135.24 L659.98,135.92 L659.77,136.66 L659.57,137.48 L659.37,138.40 L659.16,139.40 L658.96,140.52 L658.76,141.76 L658.57,143.14 L658.39,144.66 L658.21,146.36 L658.02,148.23 L657.84,150.32 L657.66,152.63 L657.47,155.20 L657.29,158.05 L657.11,161.22 L656.93,164.74 L656.74,168.65 L656.56,172.99 L656.38,177.81 L656.20,183.17 L656.01,189.12 L655.83,195.73 L655.65,203.07 L655.47,211.23 L655.28,220.29 L655.30,220.90Z"/>
<path d="M93.00,405.22 L93.03,404.87 L93.05,404.44 L93.09,403.94 L93.12,403.38 L93.16,402.77 L93.19,402.12 L93.23,401.44 L93.27,400.75 L93.32,400.05 L93.36,399.35 L93.40,398.67 L93.44,398.02 L93.48,397.38 L93.52,396.73 L93.56,396.06 L93.59,395.39 L93.63,394.72 L93.67,394.04 L93.71,393.36 L93.76,392.68 L93.81,392.01 L93.86,391.35 L93.92,390.70 L93.98,390.06 L94.04,389.44 L94.11,388.84 L94.18,388.27 L94.25,387.71 L94.33,387.15 L94.41,386.59 L94.48,386.01 L94.56,385.42 L94.64,384.80 L94.73,384.15 L94.83,383.45 L94.94,382.71 L95.06,381.89 L95.20,381.00 L95.34,380.05 L95.49,379.05 L95.65,378.03 L95.82,377.00 L95.98,375.98 L96.14,374.99 L96.30,374.04 L96.46,373.15 L96.60,372.35 L96.74,371.64 L96.86,371.03 L96.98,370.50 L97.08,370.02 L97.19,369.60 L97.29,369.23 L97.39,368.89 L97.48,368.58 L97.58,368.28 L97.68,367.99 L97.79,367.69 L97.89,367.38 L98.01,367.05 L98.12,366.71 L98.24,366.40 L98.35,366.09 L98.46,365.79 L98.58,365.50 L98.70,365.22 L98.81,364.95 L98.94,364.69 L99.06,364.43 L99.19,364.17 L99.32,363.92 L99.46,363.66 L99.60,363.41 L99.74,363.16 L99.89,362.92 L100.04,362.68 L100.19,362.45 L100.35,362.22 L100.50,362.01 L100.66,361.79 L100.83,361.59 L100.99,361.39 L101.16,361.21 L101.33,361.03 L101.51,360.85 L101.69,360.68 L101.87,360.51 L102.04,360.36 L102.21,360.22 L102.38,360.09 L102.56,359.96 L102.75,359.84 L102.95,359.72 L103.17,359.61 L103.40,359.51 L103.66,359.40 L103.94,359.30 L104.24,359.21 L104.56,359.12 L104.90,359.04 L105.25,358.97 L105.62,358.89 L106.01,358.83 L106.40,358.76 L106.81,358.70 L107.23,358.65 L107.65,358.60 L108.08,358.55 L108.52,358.50 L108.96,358.46 L109.41,358.42 L109.87,358.39 L110.34,358.37 L110.82,358.34 L111.32,358.32 L111.82,358.31 L112.35,358.29 L112.89,358.28 L113.44,358.26 L114.01,358.25 L114.63,358.24 L115.32,358.23 L116.05,358.23 L116.81,358.23 L117.59,358.23 L118.37,358.23 L119.13,358.23 L119.85,358.24 L120.51,358.24 L121.10,358.25 L121.60,358.25 L122.00,358.25 L122.00,356.75 L121.61,356.75 L121.11,356.75 L120.52,356.74 L119.86,356.74 L119.14,356.73 L118.38,356.73 L117.60,356.73 L116.81,356.73 L116.04,356.73 L115.30,356.73 L114.61,356.74 L113.99,356.75 L113.41,356.76 L112.85,356.78 L112.31,356.79 L111.78,356.81 L111.26,356.82 L110.75,356.84 L110.26,356.87 L109.78,356.90 L109.30,356.93 L108.83,356.96 L108.37,357.01 L107.92,357.05 L107.47,357.11 L107.03,357.16 L106.60,357.22 L106.18,357.28 L105.76,357.35 L105.35,357.42 L104.95,357.50 L104.57,357.58 L104.19,357.67 L103.83,357.77 L103.47,357.88 L103.14,358.00 L102.82,358.13 L102.52,358.26 L102.24,358.40 L101.98,358.55 L101.73,358.71 L101.49,358.88 L101.27,359.05 L101.06,359.22 L100.86,359.40 L100.66,359.59 L100.46,359.78 L100.27,359.97 L100.06,360.18 L99.86,360.41 L99.67,360.64 L99.48,360.87 L99.29,361.12 L99.12,361.36 L98.94,361.62 L98.78,361.87 L98.61,362.13 L98.45,362.40 L98.30,362.67 L98.14,362.94 L97.99,363.21 L97.85,363.49 L97.71,363.77 L97.58,364.05 L97.44,364.34 L97.32,364.64 L97.19,364.94 L97.07,365.24 L96.95,365.56 L96.83,365.88 L96.71,366.22 L96.59,366.55 L96.48,366.88 L96.37,367.19 L96.26,367.50 L96.16,367.80 L96.05,368.12 L95.95,368.46 L95.84,368.83 L95.74,369.23 L95.63,369.67 L95.51,370.17 L95.39,370.73 L95.26,371.36 L95.13,372.08 L94.98,372.89 L94.82,373.79 L94.66,374.74 L94.50,375.74 L94.33,376.76 L94.17,377.80 L94.01,378.82 L93.86,379.82 L93.71,380.78 L93.58,381.67 L93.46,382.49 L93.35,383.24 L93.25,383.94 L93.16,384.59 L93.07,385.22 L92.99,385.82 L92.92,386.40 L92.86,386.98 L92.81,387.55 L92.76,388.12 L92.71,388.71 L92.67,389.31 L92.62,389.94 L92.58,390.60 L92.55,391.27 L92.52,391.94 L92.49,392.62 L92.47,393.30 L92.45,393.99 L92.44,394.67 L92.42,395.35 L92.41,396.02 L92.39,396.68 L92.38,397.34 L92.36,397.98 L92.34,398.63 L92.32,399.31 L92.31,400.00 L92.29,400.71 L92.27,401.40 L92.26,402.08 L92.24,402.73 L92.23,403.35 L92.22,403.91 L92.21,404.41 L92.20,404.84 L92.20,405.18Z"/>
<path d="M102.40,433.42 L102.43,432.87 L102.47,432.18 L102.52,431.38 L102.56,430.48 L102.61,429.51 L102.66,428.47 L102.72,427.39 L102.78,426.29 L102.84,425.18 L102.90,424.09 L102.97,423.04 L103.04,422.03 L103.11,421.06 L103.18,420.08 L103.25,419.09 L103.32,418.11 L103.40,417.12 L103.48,416.12 L103.56,415.13 L103.65,414.12 L103.74,413.12 L103.85,412.11 L103.96,411.09 L104.08,410.07 L104.20,409.05 L104.33,408.03 L104.47,407.01 L104.62,405.99 L104.77,404.96 L104.92,403.92 L105.08,402.88 L105.23,401.82 L105.40,400.75 L105.57,399.66 L105.75,398.55 L105.94,397.42 L106.14,396.25 L106.35,395.03 L106.57,393.77 L106.80,392.48 L107.04,391.17 L107.28,389.87 L107.53,388.58 L107.77,387.31 L108.02,386.08 L108.26,384.91 L108.50,383.80 L108.73,382.77 L108.96,381.81 L109.17,380.91 L109.39,380.06 L109.60,379.25 L109.80,378.49 L110.01,377.75 L110.23,377.05 L110.44,376.36 L110.67,375.69 L110.90,375.02 L111.14,374.35 L111.40,373.67 L111.67,372.99 L111.95,372.32 L112.25,371.65 L112.55,370.98 L112.86,370.34 L113.18,369.70 L113.49,369.09 L113.81,368.49 L114.13,367.92 L114.44,367.38 L114.74,366.87 L115.03,366.40 L115.31,365.97 L115.59,365.58 L115.85,365.23 L116.11,364.90 L116.37,364.60 L116.63,364.31 L116.89,364.04 L117.15,363.79 L117.42,363.53 L117.70,363.28 L117.99,363.03 L118.29,362.77 L118.59,362.51 L118.88,362.26 L119.17,362.03 L119.46,361.80 L119.75,361.59 L120.05,361.38 L120.35,361.19 L120.66,361.00 L120.99,360.81 L121.33,360.63 L121.70,360.46 L122.09,360.29 L122.50,360.13 L122.93,359.97 L123.39,359.82 L123.85,359.67 L124.34,359.53 L124.84,359.39 L125.35,359.27 L125.88,359.15 L126.42,359.03 L126.97,358.93 L127.54,358.83 L128.11,358.74 L128.69,358.66 L129.30,358.59 L129.92,358.53 L130.55,358.48 L131.20,358.44 L131.86,358.40 L132.54,358.37 L133.22,358.34 L133.91,358.31 L134.61,358.29 L135.31,358.27 L136.02,358.25 L136.76,358.23 L137.55,358.22 L138.39,358.21 L139.26,358.21 L140.13,358.21 L141.00,358.22 L141.83,358.22 L142.62,358.23 L143.35,358.24 L144.00,358.24 L144.56,358.25 L145.00,358.25 L145.00,356.75 L144.57,356.75 L144.02,356.74 L143.37,356.74 L142.64,356.73 L141.84,356.72 L141.00,356.72 L140.14,356.71 L139.26,356.71 L138.39,356.71 L137.54,356.72 L136.73,356.73 L135.98,356.75 L135.27,356.77 L134.56,356.79 L133.86,356.81 L133.16,356.84 L132.47,356.87 L131.79,356.90 L131.11,356.94 L130.44,356.99 L129.78,357.04 L129.14,357.10 L128.51,357.17 L127.89,357.26 L127.29,357.35 L126.70,357.45 L126.12,357.56 L125.56,357.68 L125.00,357.81 L124.46,357.94 L123.93,358.08 L123.42,358.23 L122.92,358.39 L122.44,358.56 L121.97,358.73 L121.51,358.91 L121.08,359.09 L120.67,359.29 L120.28,359.49 L119.90,359.70 L119.55,359.92 L119.20,360.14 L118.87,360.37 L118.55,360.61 L118.24,360.86 L117.93,361.11 L117.62,361.37 L117.31,361.63 L117.00,361.90 L116.70,362.16 L116.41,362.43 L116.11,362.70 L115.82,362.99 L115.53,363.29 L115.24,363.61 L114.95,363.95 L114.66,364.31 L114.37,364.71 L114.07,365.13 L113.77,365.60 L113.46,366.10 L113.14,366.63 L112.82,367.19 L112.49,367.77 L112.16,368.39 L111.84,369.02 L111.51,369.68 L111.19,370.35 L110.88,371.03 L110.57,371.73 L110.28,372.43 L110.00,373.13 L109.74,373.83 L109.49,374.51 L109.25,375.20 L109.02,375.90 L108.79,376.61 L108.57,377.33 L108.36,378.08 L108.15,378.87 L107.93,379.69 L107.72,380.55 L107.50,381.46 L107.27,382.43 L107.03,383.48 L106.79,384.60 L106.55,385.79 L106.30,387.02 L106.05,388.29 L105.81,389.59 L105.56,390.90 L105.32,392.21 L105.09,393.51 L104.87,394.77 L104.66,396.00 L104.46,397.18 L104.27,398.31 L104.09,399.42 L103.92,400.52 L103.75,401.59 L103.59,402.66 L103.44,403.71 L103.30,404.76 L103.18,405.80 L103.05,406.83 L102.94,407.86 L102.83,408.89 L102.72,409.93 L102.63,410.96 L102.54,411.99 L102.46,413.01 L102.39,414.02 L102.32,415.03 L102.26,416.04 L102.20,417.04 L102.15,418.03 L102.10,419.02 L102.05,420.01 L102.01,420.99 L101.96,421.97 L101.92,422.98 L101.87,424.04 L101.83,425.14 L101.79,426.25 L101.76,427.35 L101.72,428.43 L101.69,429.47 L101.67,430.45 L101.65,431.35 L101.63,432.15 L101.61,432.83 L101.60,433.38Z"/>
<path d="M111.09,406.97 L111.14,406.79 L111.19,406.57 L111.24,406.31 L111.30,406.03 L111.37,405.72 L111.44,405.39 L111.51,405.03 L111.59,404.66 L111.67,404.28 L111.75,403.89 L111.84,403.50 L111.93,403.10 L112.02,402.71 L112.11,402.32 L112.19,401.94 L112.28,401.55 L112.38,401.14 L112.47,400.72 L112.58,400.28 L112.69,399.80 L112.81,399.28 L112.95,398.73 L113.10,398.12 L113.26,397.45 L113.44,396.71 L113.64,395.89 L113.84,395.01 L114.06,394.09 L114.29,393.12 L114.52,392.14 L114.76,391.14 L115.00,390.14 L115.25,389.16 L115.50,388.20 L115.76,387.29 L116.02,386.42 L116.28,385.59 L116.56,384.77 L116.84,383.95 L117.13,383.15 L117.43,382.36 L117.73,381.58 L118.04,380.83 L118.35,380.09 L118.67,379.37 L119.00,378.67 L119.33,378.00 L119.66,377.35 L120.00,376.73 L120.34,376.14 L120.68,375.58 L121.02,375.05 L121.36,374.53 L121.72,374.03 L122.09,373.54 L122.46,373.05 L122.86,372.57 L123.27,372.09 L123.70,371.60 L124.15,371.11 L124.62,370.61 L125.11,370.10 L125.61,369.60 L126.13,369.10 L126.66,368.60 L127.21,368.11 L127.77,367.63 L128.33,367.16 L128.91,366.70 L129.50,366.26 L130.10,365.84 L130.71,365.43 L131.33,365.04 L131.95,364.66 L132.57,364.29 L133.20,363.94 L133.85,363.60 L134.51,363.28 L135.18,362.96 L135.88,362.65 L136.60,362.36 L137.35,362.07 L138.12,361.79 L138.93,361.51 L139.78,361.24 L140.65,360.98 L141.55,360.73 L142.47,360.49 L143.41,360.25 L144.38,360.03 L145.37,359.81 L146.38,359.61 L147.41,359.42 L148.46,359.25 L149.52,359.09 L150.59,358.94 L151.69,358.82 L152.82,358.71 L153.98,358.62 L155.16,358.55 L156.36,358.49 L157.58,358.44 L158.81,358.40 L160.05,358.36 L161.29,358.33 L162.54,358.30 L163.78,358.28 L165.02,358.25 L166.29,358.23 L167.65,358.21 L169.07,358.20 L170.52,358.20 L171.97,358.20 L173.40,358.21 L174.78,358.21 L176.09,358.22 L177.29,358.23 L178.36,358.24 L179.27,358.25 L180.00,358.25 L180.00,356.75 L179.28,356.75 L178.37,356.74 L177.30,356.73 L176.10,356.72 L174.79,356.71 L173.41,356.71 L171.98,356.70 L170.52,356.70 L169.06,356.70 L167.64,356.71 L166.27,356.73 L164.98,356.75 L163.75,356.78 L162.51,356.80 L161.26,356.83 L160.01,356.86 L158.76,356.90 L157.52,356.94 L156.29,356.99 L155.07,357.05 L153.87,357.13 L152.69,357.22 L151.53,357.33 L150.41,357.46 L149.31,357.60 L148.22,357.77 L147.15,357.94 L146.10,358.14 L145.07,358.34 L144.05,358.56 L143.06,358.79 L142.09,359.03 L141.15,359.28 L140.23,359.54 L139.33,359.81 L138.47,360.09 L137.63,360.37 L136.82,360.66 L136.04,360.96 L135.29,361.27 L134.56,361.59 L133.86,361.92 L133.17,362.27 L132.49,362.62 L131.83,362.99 L131.18,363.37 L130.53,363.76 L129.89,364.17 L129.25,364.60 L128.62,365.05 L128.00,365.52 L127.39,365.99 L126.80,366.49 L126.22,366.99 L125.65,367.50 L125.10,368.01 L124.56,368.53 L124.04,369.05 L123.54,369.57 L123.05,370.09 L122.58,370.60 L122.14,371.11 L121.71,371.61 L121.29,372.12 L120.89,372.63 L120.51,373.15 L120.13,373.68 L119.76,374.23 L119.40,374.79 L119.04,375.38 L118.69,376.00 L118.34,376.65 L117.99,377.32 L117.64,378.03 L117.31,378.75 L116.98,379.49 L116.65,380.25 L116.33,381.03 L116.02,381.82 L115.72,382.63 L115.43,383.45 L115.14,384.28 L114.86,385.12 L114.58,385.98 L114.32,386.87 L114.05,387.81 L113.79,388.78 L113.54,389.78 L113.30,390.79 L113.06,391.80 L112.85,392.80 L112.64,393.77 L112.45,394.71 L112.26,395.59 L112.09,396.41 L111.94,397.15 L111.79,397.82 L111.67,398.44 L111.55,399.01 L111.45,399.53 L111.36,400.02 L111.28,400.48 L111.20,400.91 L111.13,401.32 L111.07,401.72 L111.00,402.11 L110.94,402.50 L110.87,402.90 L110.80,403.30 L110.74,403.70 L110.68,404.10 L110.62,404.49 L110.56,404.87 L110.51,405.23 L110.47,405.56 L110.42,405.88 L110.39,406.17 L110.35,406.42 L110.33,406.65 L110.31,406.83Z"/>
<path d="M290.00,355.88 L290.50,355.96 L291.00,356.13 L291.50,355.99 L292.00,356.09 L292.50,356.06 L293.00,355.80 L293.50,356.11 L294.00,356.14 L294.50,355.70 L295.00,355.93 L295.50,355.72 L296.00,355.99 L296.50,355.97 L297.00,356.08 L297.50,355.90 L298.00,355.93 L298.50,355.78 L299.00,355.66 L299.50,355.98 L300.00,355.84 L300.50,355.68 L301.00,355.89 L301.00,358.13 L300.50,357.87 L300.00,357.93 L299.50,357.95 L299.00,358.15 L298.50,357.96 L298.00,357.88 L297.50,357.94 L297.00,358.37 L296.50,358.38 L296.00,358.23 L295.50,357.90 L295.00,358.30 L294.50,357.88 L294.00,357.96 L293.50,358.22 L293.00,358.00 L292.50,357.82 L292.00,357.97 L291.50,357.95 L291.00,358.30 L290.50,357.84 L290.00,358.03Z"/>
<path d="M313.00,353.16 L313.45,353.30 L313.90,353.35 L314.35,353.72 L314.80,354.04 L315.25,354.18 L315.70,354.47 L316.15,354.51 L316.60,354.55 L317.05,354.55 L317.50,354.63 L317.95,354.58 L318.40,353.91 L318.85,353.96 L319.30,354.65 L319.75,354.67 L320.20,354.28 L320.65,354.53 L321.10,354.24 L321.55,354.04 L322.00,354.34 L322.45,354.69 L322.90,354.22 L323.35,354.71 L323.80,354.69 L324.25,354.64 L324.70,354.72 L325.15,354.36 L325.60,354.10 L326.05,354.27 L326.50,354.57 L326.95,354.63 L327.40,354.12 L327.85,354.67 L328.30,354.09 L328.75,354.75 L329.20,354.75 L329.65,354.72 L330.10,354.26 L330.55,354.33 L331.00,354.27 L331.45,354.70 L331.90,353.97 L332.35,354.00 L332.80,354.29 L333.25,354.43 L333.70,354.79 L334.15,354.63 L334.60,354.02 L335.05,354.28 L335.50,354.36 L335.95,354.74 L336.40,353.96 L336.85,354.54 L337.30,354.81 L337.75,354.66 L338.20,354.73 L338.65,354.37 L339.10,354.78 L339.55,354.62 L340.00,354.10 L340.45,354.84 L340.90,354.93 L341.35,354.88 L341.80,354.74 L342.25,355.01 L342.70,354.75 L343.15,354.57 L343.60,355.12 L344.05,355.04 L344.50,355.19 L344.95,355.18 L345.40,355.07 L345.85,355.18 L346.30,355.19 L346.75,355.33 L347.20,354.48 L347.65,355.39 L348.10,354.56 L348.55,355.45 L349.00,355.32 L349.45,355.25 L349.90,354.79 L350.35,355.22 L350.80,355.22 L351.25,355.58 L351.70,355.67 L352.15,355.06 L352.60,355.70 L353.05,355.11 L353.50,355.76 L353.95,355.20 L354.40,355.75 L354.85,355.26 L355.30,355.78 L355.75,355.81 L356.20,355.91 L356.65,355.71 L357.10,355.42 L357.55,355.32 L358.00,355.87 L358.45,356.09 L358.90,355.82 L359.35,355.70 L359.80,355.95 L360.25,356.12 L360.70,355.95 L361.15,355.65 L361.60,355.49 L362.05,355.57 L362.50,356.05 L362.95,355.89 L363.40,356.02 L363.85,355.73 L364.30,355.39 L364.75,356.05 L365.20,355.84 L365.65,356.09 L366.10,356.03 L366.55,355.28 L367.00,355.45 L367.45,355.29 L367.90,355.53 L368.35,355.71 L368.80,356.05 L369.25,355.31 L369.70,355.75 L370.15,356.02 L370.60,356.12 L371.05,355.71 L371.50,356.12 L371.95,356.00 L372.40,355.97 L372.85,355.84 L373.30,356.11 L373.75,355.41 L374.20,356.11 L374.65,356.07 L375.10,355.87 L375.55,355.91 L376.00,356.08 L376.45,356.11 L376.90,355.81 L377.35,355.98 L377.80,355.95 L378.25,355.85 L378.70,355.60 L379.15,355.23 L379.60,356.10 L380.05,355.97 L380.50,355.27 L380.95,355.56 L381.40,355.55 L381.85,356.04 L382.30,356.09 L382.75,356.04 L383.20,355.63 L383.65,355.37 L384.10,355.39 L384.55,355.31 L385.00,356.04 L385.45,355.96 L385.90,355.64 L386.35,356.04 L386.80,355.56 L387.25,355.58 L387.70,355.72 L388.15,355.77 L388.60,356.03 L389.05,355.62 L389.50,356.00 L389.95,355.39 L390.40,356.01 L390.85,356.01 L391.30,355.98 L391.75,355.93 L392.20,355.88 L392.65,355.31 L393.10,355.57 L393.55,355.19 L394.00,355.89 L394.45,355.76 L394.90,355.41 L395.35,355.95 L395.80,355.56 L396.25,355.77 L396.70,355.33 L397.15,355.28 L397.60,355.96 L398.05,355.92 L398.50,355.64 L398.95,355.92 L399.40,355.75 L399.85,355.81 L400.30,355.94 L400.75,355.84 L401.20,355.74 L401.65,355.93 L402.10,355.52 L402.55,355.86 L403.00,355.86 L403.45,355.67 L403.90,355.04 L404.35,355.64 L404.80,355.24 L405.25,355.56 L405.70,355.81 L406.15,355.36 L406.60,355.13 L407.05,355.84 L407.50,355.43 L407.95,355.56 L408.40,355.65 L408.85,355.92 L409.30,355.83 L409.75,355.72 L410.20,355.87 L410.65,355.82 L411.10,355.92 L411.55,355.74 L412.00,355.63 L412.45,355.90 L412.90,355.84 L413.35,355.45 L413.80,355.13 L414.25,355.16 L414.70,355.92 L415.15,355.62 L415.60,355.81 L416.05,355.76 L416.50,355.92 L416.95,355.20 L417.40,355.87 L417.85,355.90 L418.30,355.48 L418.75,355.78 L419.20,355.60 L419.65,355.55 L420.10,355.44 L420.55,355.60 L421.00,355.34 L421.45,355.82 L421.90,355.89 L422.35,355.24 L422.80,355.16 L423.25,355.83 L423.70,355.55 L424.15,355.51 L424.60,355.92 L425.05,355.92 L425.50,355.82 L425.95,355.60 L426.40,355.73 L426.85,355.15 L427.30,355.05 L427.75,355.59 L428.20,355.83 L428.65,355.90 L429.10,355.40 L429.55,355.33 L430.00,355.66 L430.45,355.67 L430.90,355.65 L431.35,355.50 L431.80,355.56 L432.25,355.50 L432.70,355.53 L433.15,355.91 L433.60,355.87 L434.05,356.12 L434.50,355.96 L434.95,355.64 L435.40,355.33 L435.85,355.72 L436.30,356.25 L436.75,356.28 L437.20,356.02 L437.65,355.53 L438.10,356.33 L438.55,355.88 L439.00,356.37 L439.45,355.88 L439.90,355.58 L440.35,356.10 L440.80,355.91 L441.25,356.42 L441.70,356.53 L442.15,356.56 L442.60,356.44 L443.05,356.61 L443.50,356.48 L443.95,355.85 L444.40,356.63 L444.85,356.64 L445.30,356.68 L445.75,356.23 L446.20,356.69 L446.65,356.75 L447.10,356.80 L447.55,356.16 L448.00,356.36 L448.45,356.82 L448.90,356.70 L449.35,356.92 L449.80,356.64 L450.25,356.68 L450.70,356.97 L451.15,356.91 L451.60,356.37 L452.05,356.38 L452.50,356.98 L452.95,357.07 L453.40,357.09 L453.85,357.08 L454.30,357.10 L454.75,356.70 L455.20,357.03 L455.65,356.69 L456.10,356.30 L456.55,357.12 L457.00,356.76 L457.45,356.97 L457.90,357.04 L458.35,357.22 L458.80,357.14 L459.25,357.23 L459.70,357.24 L460.15,357.24 L460.60,357.26 L461.05,357.06 L461.50,357.19 L461.95,356.55 L462.40,357.28 L462.85,356.63 L463.30,357.28 L463.75,357.30 L464.20,357.37 L464.65,357.23 L465.10,357.28 L465.55,356.98 L466.00,357.15 L466.45,357.00 L466.90,356.76 L467.35,357.31 L467.80,357.31 L468.25,357.34 L468.70,357.34 L469.15,356.61 L469.60,357.18 L470.05,357.47 L470.50,357.41 L470.95,357.51 L471.40,356.92 L471.85,356.83 L472.30,357.15 L472.75,357.22 L473.20,357.52 L473.65,357.62 L474.10,356.98 L474.55,357.33 L475.00,357.61 L475.45,357.17 L475.90,357.22 L476.35,357.44 L476.80,357.29 L477.25,357.36 L477.25,358.14 L476.80,358.01 L476.35,358.21 L475.90,358.07 L475.45,358.07 L475.00,358.25 L474.55,358.67 L474.10,358.17 L473.65,358.39 L473.20,358.67 L472.75,358.23 L472.30,358.10 L471.85,358.03 L471.40,358.47 L470.95,358.06 L470.50,358.10 L470.05,358.33 L469.60,358.68 L469.15,358.08 L468.70,358.11 L468.25,358.20 L467.80,358.77 L467.35,358.19 L466.90,358.49 L466.45,358.81 L466.00,358.35 L465.55,358.45 L465.10,358.16 L464.65,358.39 L464.20,358.36 L463.75,358.19 L463.30,358.22 L462.85,358.58 L462.40,358.87 L461.95,358.30 L461.50,358.40 L461.05,358.24 L460.60,358.63 L460.15,358.58 L459.70,358.39 L459.25,358.44 L458.80,358.82 L458.35,358.97 L457.90,358.30 L457.45,358.34 L457.00,358.31 L456.55,358.76 L456.10,358.33 L455.65,358.88 L455.20,358.94 L454.75,358.36 L454.30,358.38 L453.85,358.75 L453.40,358.96 L452.95,359.05 L452.50,358.40 L452.05,359.10 L451.60,358.44 L451.15,358.85 L450.70,358.98 L450.25,358.99 L449.80,358.60 L449.35,358.80 L448.90,359.04 L448.45,358.58 L448.00,358.99 L447.55,358.58 L447.10,359.06 L446.65,358.78 L446.20,359.26 L445.75,358.87 L445.30,358.62 L444.85,358.74 L444.40,358.67 L443.95,358.91 L443.50,359.24 L443.05,358.89 L442.60,359.20 L442.15,358.98 L441.70,359.08 L441.25,359.29 L440.80,358.88 L440.35,358.83 L439.90,358.93 L439.45,358.81 L439.00,358.79 L438.55,359.39 L438.10,358.83 L437.65,358.92 L437.20,358.86 L436.75,359.03 L436.30,358.88 L435.85,358.89 L435.40,358.93 L434.95,359.00 L434.50,359.22 L434.05,358.93 L433.60,359.57 L433.15,359.01 L432.70,359.64 L432.25,359.05 L431.80,359.41 L431.35,359.06 L430.90,359.10 L430.45,359.34 L430.00,359.30 L429.55,359.19 L429.10,359.09 L428.65,359.11 L428.20,359.12 L427.75,359.49 L427.30,359.14 L426.85,359.37 L426.40,359.16 L425.95,359.22 L425.50,359.36 L425.05,359.48 L424.60,359.34 L424.15,359.31 L423.70,359.36 L423.25,359.65 L422.80,359.30 L422.35,359.57 L421.90,359.50 L421.45,359.32 L421.00,359.86 L420.55,359.34 L420.10,359.99 L419.65,359.38 L419.20,359.88 L418.75,359.40 L418.30,359.41 L417.85,359.44 L417.40,359.39 L416.95,359.46 L416.50,359.58 L416.05,359.95 L415.60,359.85 L415.15,360.12 L414.70,359.47 L414.25,359.69 L413.80,359.54 L413.35,359.68 L412.90,359.55 L412.45,359.49 L412.00,359.56 L411.55,359.65 L411.10,360.05 L410.65,359.54 L410.20,359.57 L409.75,359.64 L409.30,360.23 L408.85,359.64 L408.40,359.68 L407.95,359.66 L407.50,359.77 L407.05,360.00 L406.60,359.93 L406.15,360.14 L405.70,359.67 L405.25,359.91 L404.80,360.06 L404.35,360.06 L403.90,359.65 L403.45,360.30 L403.00,359.90 L402.55,359.85 L402.10,359.74 L401.65,359.71 L401.20,360.39 L400.75,359.71 L400.30,359.96 L399.85,359.82 L399.40,359.97 L398.95,359.84 L398.50,359.76 L398.05,360.33 L397.60,359.85 L397.15,360.04 L396.70,359.90 L396.25,359.82 L395.80,359.92 L395.35,360.29 L394.90,359.82 L394.45,360.35 L394.00,359.83 L393.55,359.81 L393.10,360.26 L392.65,360.00 L392.20,359.81 L391.75,360.12 L391.30,360.00 L390.85,360.22 L390.40,359.77 L389.95,360.00 L389.50,359.90 L389.05,359.80 L388.60,360.35 L388.15,360.20 L387.70,359.75 L387.25,359.74 L386.80,360.36 L386.35,359.82 L385.90,360.20 L385.45,360.12 L385.00,360.10 L384.55,360.23 L384.10,359.92 L383.65,359.96 L383.20,359.81 L382.75,359.74 L382.30,359.92 L381.85,359.77 L381.40,359.67 L380.95,359.67 L380.50,359.88 L380.05,359.67 L379.60,360.13 L379.15,360.00 L378.70,359.64 L378.25,359.99 L377.80,360.13 L377.35,359.59 L376.90,359.56 L376.45,359.71 L376.00,359.73 L375.55,359.69 L375.10,359.49 L374.65,359.42 L374.20,359.91 L373.75,359.57 L373.30,359.36 L372.85,359.42 L372.40,359.48 L371.95,359.49 L371.50,359.53 L371.05,359.34 L370.60,359.19 L370.15,359.69 L369.70,359.17 L369.25,359.25 L368.80,359.28 L368.35,359.29 L367.90,359.00 L367.45,359.24 L367.00,359.61 L366.55,359.49 L366.10,359.04 L365.65,358.87 L365.20,358.92 L364.75,358.94 L364.30,358.80 L363.85,359.23 L363.40,358.86 L362.95,358.82 L362.50,358.97 L362.05,358.77 L361.60,359.12 L361.15,358.58 L360.70,358.58 L360.25,358.53 L359.80,359.16 L359.35,358.49 L358.90,358.45 L358.45,358.48 L358.00,358.59 L357.55,359.03 L357.10,358.74 L356.65,358.66 L356.20,358.38 L355.75,358.85 L355.30,358.57 L354.85,358.42 L354.40,358.36 L353.95,358.72 L353.50,358.75 L353.05,358.91 L352.60,358.59 L352.15,358.35 L351.70,358.70 L351.25,358.29 L350.80,358.31 L350.35,358.87 L349.90,358.54 L349.45,358.24 L349.00,358.25 L348.55,358.39 L348.10,358.43 L347.65,358.56 L347.20,358.59 L346.75,358.18 L346.30,358.19 L345.85,358.32 L345.40,358.16 L344.95,358.49 L344.50,358.19 L344.05,358.16 L343.60,358.18 L343.15,358.59 L342.70,358.25 L342.25,358.40 L341.80,358.49 L341.35,358.54 L340.90,358.29 L340.45,358.60 L340.00,358.13 L339.55,358.17 L339.10,358.07 L338.65,358.33 L338.20,358.02 L337.75,358.02 L337.30,358.07 L336.85,358.01 L336.40,358.24 L335.95,358.15 L335.50,358.38 L335.05,357.92 L334.60,357.91 L334.15,358.07 L333.70,358.22 L333.25,358.01 L332.80,358.33 L332.35,358.18 L331.90,357.95 L331.45,357.82 L331.00,358.28 L330.55,357.90 L330.10,357.78 L329.65,358.35 L329.20,358.19 L328.75,357.78 L328.30,357.99 L327.85,357.72 L327.40,358.12 L326.95,357.69 L326.50,358.01 L326.05,357.71 L325.60,357.88 L325.15,357.66 L324.70,357.70 L324.25,357.69 L323.80,357.56 L323.35,357.48 L322.90,357.78 L322.45,357.96 L322.00,357.35 L321.55,357.36 L321.10,357.26 L320.65,357.47 L320.20,357.20 L319.75,357.38 L319.30,357.06 L318.85,357.48 L318.40,357.32 L317.95,356.97 L317.50,357.16 L317.05,356.78 L316.60,356.70 L316.15,356.82 L315.70,356.55 L315.25,356.18 L314.80,355.93 L314.35,354.98 L313.90,354.59 L313.45,354.38 L313.00,354.04Z"/>
<path d="M323.00,366.68 L323.45,366.32 L323.90,365.83 L324.35,365.44 L324.80,365.30 L325.25,364.23 L325.70,364.41 L326.15,363.80 L326.60,364.28 L327.05,364.02 L327.50,363.51 L327.95,363.36 L328.40,363.81 L328.85,363.25 L329.30,363.74 L329.75,363.67 L330.20,363.04 L330.65,363.41 L331.10,363.44 L331.55,363.12 L332.00,363.33 L332.45,363.00 L332.90,363.08 L333.35,363.23 L333.80,363.33 L334.25,363.31 L334.70,363.38 L335.15,363.39 L335.60,362.91 L336.05,363.26 L336.50,362.71 L336.95,362.95 L337.40,363.26 L337.85,362.71 L338.30,363.13 L338.75,363.06 L339.20,362.75 L339.65,363.01 L340.10,362.52 L340.55,362.94 L341.00,362.26 L341.45,362.13 L341.90,362.81 L342.35,362.79 L342.80,362.33 L343.25,362.55 L343.70,362.02 L344.15,362.71 L344.60,362.47 L345.05,361.99 L345.50,362.37 L345.95,362.36 L346.40,362.25 L346.85,362.04 L347.30,362.25 L347.75,361.93 L348.20,361.77 L348.65,362.25 L349.10,362.21 L349.55,362.16 L350.00,361.61 L350.45,362.07 L350.90,361.57 L351.35,361.98 L351.80,361.78 L352.25,360.99 L352.70,361.16 L353.15,361.69 L353.60,361.75 L354.05,361.63 L354.50,361.56 L354.95,360.94 L355.40,361.32 L355.85,361.51 L356.30,360.79 L356.75,360.76 L357.20,361.33 L357.65,361.06 L358.10,361.08 L358.55,360.92 L359.00,360.62 L359.45,360.41 L359.90,361.14 L360.35,360.86 L360.80,360.80 L361.25,360.99 L361.70,360.96 L362.15,360.43 L362.60,360.79 L363.05,360.77 L363.50,360.92 L363.95,360.53 L364.40,360.20 L364.85,360.52 L365.30,360.04 L365.75,360.21 L366.20,360.35 L366.65,360.65 L367.10,360.07 L367.55,359.91 L368.00,360.63 L368.45,360.06 L368.90,360.43 L369.35,360.50 L369.80,360.11 L370.25,360.50 L370.70,360.47 L371.15,360.37 L371.60,360.12 L372.05,360.11 L372.50,359.62 L372.95,359.70 L373.40,359.73 L373.85,360.14 L374.30,360.12 L374.75,360.18 L375.20,360.19 L375.65,359.69 L376.10,359.73 L376.55,359.50 L377.00,359.32 L377.45,359.26 L377.90,359.96 L378.35,359.51 L378.80,359.23 L379.25,359.79 L379.70,359.67 L380.15,359.98 L380.60,359.91 L381.05,359.33 L381.50,359.19 L381.95,359.63 L382.40,359.84 L382.85,359.55 L383.30,359.83 L383.75,359.87 L384.20,359.89 L384.65,359.83 L385.10,359.62 L385.55,359.62 L386.00,359.56 L386.45,359.87 L386.90,359.86 L387.35,359.84 L387.80,359.74 L388.25,359.45 L388.70,359.81 L389.15,359.73 L389.60,359.13 L390.05,359.79 L390.50,359.11 L390.95,359.57 L391.40,359.78 L391.85,359.76 L392.30,359.54 L392.75,359.73 L393.20,359.72 L393.65,359.70 L394.10,359.51 L394.55,359.73 L395.00,359.51 L395.45,359.43 L395.90,359.67 L396.35,359.69 L396.80,359.71 L397.25,359.47 L397.70,358.99 L398.15,359.40 L398.60,359.38 L399.05,359.24 L399.50,359.64 L399.95,358.82 L400.40,359.34 L400.85,359.08 L401.30,359.09 L401.75,358.91 L402.20,358.87 L402.65,359.52 L403.10,359.61 L403.55,359.24 L404.00,359.55 L404.45,359.62 L404.90,359.55 L405.35,358.75 L405.80,359.43 L406.25,359.09 L406.70,359.13 L407.15,359.60 L407.60,358.98 L408.05,359.62 L408.50,359.51 L408.95,358.78 L409.40,359.11 L409.85,358.99 L410.30,358.87 L410.75,358.98 L411.20,359.29 L411.65,358.98 L412.10,358.91 L412.55,358.76 L413.00,358.78 L413.45,358.74 L413.90,359.52 L414.35,359.53 L414.80,359.38 L415.25,359.35 L415.70,359.14 L416.15,359.42 L416.60,358.99 L417.05,358.76 L417.50,359.40 L417.95,359.17 L418.40,359.44 L418.85,358.91 L419.30,359.54 L419.75,359.53 L420.20,358.94 L420.65,359.20 L421.10,359.42 L421.55,359.40 L422.00,359.15 L422.45,359.48 L422.90,359.03 L423.35,359.07 L423.80,359.44 L424.25,359.44 L424.70,359.40 L425.15,358.59 L425.60,359.36 L426.05,359.06 L426.50,359.24 L426.95,358.54 L427.40,358.47 L427.85,358.72 L428.30,359.08 L428.75,359.29 L429.20,359.12 L429.65,359.24 L430.10,359.27 L430.55,358.60 L431.00,359.13 L431.45,358.53 L431.90,359.23 L432.35,359.04 L432.80,359.09 L433.25,358.84 L433.70,358.94 L434.15,358.43 L434.60,359.04 L435.05,359.15 L435.50,358.72 L435.95,358.95 L436.40,358.40 L436.85,358.60 L437.30,359.00 L437.75,358.26 L438.20,359.05 L438.65,358.75 L439.10,358.90 L439.55,358.66 L440.00,358.50 L440.45,358.74 L440.90,358.13 L441.35,358.40 L441.80,358.84 L442.25,358.51 L442.70,358.88 L443.15,358.64 L443.60,358.36 L444.05,358.89 L444.50,358.21 L444.95,358.40 L445.40,358.79 L445.85,358.78 L446.30,358.01 L446.75,358.81 L447.20,358.02 L447.65,358.72 L448.10,358.79 L448.55,358.65 L449.00,357.94 L449.45,358.73 L449.90,358.57 L450.35,358.38 L450.80,358.64 L451.25,358.20 L451.70,358.43 L452.15,358.19 L452.60,358.58 L453.05,358.43 L453.50,358.32 L453.95,358.13 L454.40,358.04 L454.85,358.54 L455.30,358.58 L455.75,358.63 L456.20,358.11 L456.65,358.46 L457.10,358.60 L457.55,358.22 L458.00,358.23 L458.45,358.04 L458.90,357.78 L459.35,358.46 L459.80,357.97 L460.25,358.52 L460.70,358.28 L461.15,358.13 L461.60,358.51 L462.05,358.51 L462.50,358.28 L462.95,358.09 L463.40,358.34 L463.85,358.41 L464.30,357.91 L464.75,358.44 L465.20,357.94 L465.65,357.72 L466.10,357.94 L466.55,358.05 L467.00,358.40 L467.45,357.96 L467.90,358.33 L468.35,358.06 L468.80,358.32 L469.25,358.33 L469.70,357.95 L470.15,357.78 L470.60,357.91 L471.05,357.71 L471.50,358.33 L471.95,358.30 L472.40,358.31 L472.85,358.03 L473.30,358.29 L473.75,358.28 L474.20,357.92 L474.65,358.17 L475.10,358.22 L475.55,358.21 L476.00,357.66 L476.45,358.23 L476.90,358.23 L476.90,358.31 L476.45,358.57 L476.00,358.37 L475.55,358.68 L475.10,358.65 L474.65,358.45 L474.20,358.32 L473.75,358.30 L473.30,358.76 L472.85,358.76 L472.40,358.46 L471.95,358.39 L471.50,358.63 L471.05,358.45 L470.60,358.40 L470.15,358.51 L469.70,359.10 L469.25,358.46 L468.80,358.50 L468.35,358.97 L467.90,358.51 L467.45,358.79 L467.00,358.90 L466.55,359.11 L466.10,359.06 L465.65,359.17 L465.20,358.80 L464.75,358.96 L464.30,359.15 L463.85,359.18 L463.40,358.93 L462.95,358.95 L462.50,359.25 L462.05,358.88 L461.60,358.86 L461.15,359.36 L460.70,359.00 L460.25,359.37 L459.80,358.94 L459.35,358.98 L458.90,359.28 L458.45,359.02 L458.00,359.26 L457.55,359.60 L457.10,359.03 L456.65,359.44 L456.20,359.33 L455.75,359.23 L455.30,359.08 L454.85,359.68 L454.40,359.31 L453.95,359.10 L453.50,359.17 L453.05,359.20 L452.60,359.75 L452.15,359.23 L451.70,359.51 L451.25,359.37 L450.80,359.25 L450.35,359.69 L449.90,359.79 L449.45,359.90 L449.00,359.40 L448.55,359.48 L448.10,359.46 L447.65,359.57 L447.20,359.49 L446.75,359.56 L446.30,360.17 L445.85,359.65 L445.40,359.58 L444.95,359.63 L444.50,359.66 L444.05,359.85 L443.60,359.78 L443.15,360.20 L442.70,359.77 L442.25,360.11 L441.80,360.46 L441.35,360.16 L440.90,360.16 L440.45,360.02 L440.00,359.98 L439.55,360.01 L439.10,360.37 L438.65,360.01 L438.20,360.28 L437.75,360.62 L437.30,360.11 L436.85,360.12 L436.40,360.52 L435.95,360.57 L435.50,360.42 L435.05,360.72 L434.60,360.93 L434.15,360.47 L433.70,360.64 L433.25,360.45 L432.80,360.68 L432.35,361.05 L431.90,360.71 L431.45,360.77 L431.00,361.10 L430.55,360.71 L430.10,360.76 L429.65,360.66 L429.20,361.06 L428.75,361.26 L428.30,360.66 L427.85,360.71 L427.40,360.74 L426.95,360.93 L426.50,360.95 L426.05,361.36 L425.60,361.39 L425.15,360.95 L424.70,360.94 L424.25,361.39 L423.80,361.27 L423.35,361.43 L422.90,361.14 L422.45,361.08 L422.00,361.12 L421.55,361.59 L421.10,361.15 L420.65,361.29 L420.20,361.30 L419.75,361.21 L419.30,361.40 L418.85,361.70 L418.40,361.54 L417.95,361.81 L417.50,361.35 L417.05,361.85 L416.60,361.73 L416.15,361.86 L415.70,361.81 L415.25,362.07 L414.80,361.56 L414.35,361.57 L413.90,362.07 L413.45,362.04 L413.00,361.64 L412.55,361.86 L412.10,361.75 L411.65,362.15 L411.20,361.88 L410.75,362.22 L410.30,362.19 L409.85,362.44 L409.40,361.87 L408.95,362.20 L408.50,361.93 L408.05,362.30 L407.60,362.40 L407.15,362.27 L406.70,362.31 L406.25,362.63 L405.80,362.26 L405.35,362.55 L404.90,362.81 L404.45,362.20 L404.00,362.21 L403.55,362.24 L403.10,362.63 L402.65,362.29 L402.20,362.43 L401.75,362.34 L401.30,362.51 L400.85,362.47 L400.40,362.75 L399.95,362.44 L399.50,362.71 L399.05,362.49 L398.60,362.94 L398.15,362.57 L397.70,362.56 L397.25,362.64 L396.80,362.71 L396.35,362.68 L395.90,363.04 L395.45,363.01 L395.00,363.14 L394.55,363.35 L394.10,363.30 L393.65,363.30 L393.20,362.81 L392.75,362.93 L392.30,362.94 L391.85,363.07 L391.40,363.04 L390.95,363.12 L390.50,362.95 L390.05,362.97 L389.60,363.15 L389.15,363.51 L388.70,363.65 L388.25,363.08 L387.80,363.18 L387.35,363.34 L386.90,363.42 L386.45,363.32 L386.00,363.30 L385.55,363.59 L385.10,363.17 L384.65,363.18 L384.20,363.62 L383.75,363.58 L383.30,363.35 L382.85,363.22 L382.40,363.85 L381.95,363.89 L381.50,363.25 L381.05,363.29 L380.60,363.83 L380.15,363.29 L379.70,363.49 L379.25,363.82 L378.80,363.31 L378.35,363.49 L377.90,363.41 L377.45,363.53 L377.00,364.05 L376.55,363.37 L376.10,363.38 L375.65,363.51 L375.20,363.55 L374.75,363.62 L374.30,363.71 L373.85,363.43 L373.40,364.12 L372.95,363.47 L372.50,363.54 L372.05,363.49 L371.60,363.56 L371.15,363.54 L370.70,364.00 L370.25,363.86 L369.80,363.55 L369.35,364.12 L368.90,363.86 L368.45,364.20 L368.00,363.59 L367.55,363.62 L367.10,363.62 L366.65,363.65 L366.20,363.95 L365.75,363.81 L365.30,363.87 L364.85,363.69 L364.40,363.68 L363.95,363.69 L363.50,363.83 L363.05,364.25 L362.60,364.33 L362.15,363.98 L361.70,364.10 L361.25,364.20 L360.80,363.84 L360.35,363.90 L359.90,363.86 L359.45,364.02 L359.00,363.84 L358.55,363.92 L358.10,364.02 L357.65,363.97 L357.20,363.90 L356.75,363.97 L356.30,364.40 L355.85,364.03 L355.40,364.12 L354.95,364.23 L354.50,364.08 L354.05,364.11 L353.60,364.77 L353.15,364.30 L352.70,364.15 L352.25,364.62 L351.80,364.42 L351.35,364.54 L350.90,364.39 L350.45,364.57 L350.00,364.50 L349.55,364.30 L349.10,364.79 L348.65,364.38 L348.20,364.78 L347.75,364.60 L347.30,364.41 L346.85,364.82 L346.40,364.93 L345.95,364.65 L345.50,365.05 L345.05,364.64 L344.60,364.69 L344.15,364.81 L343.70,364.99 L343.25,364.79 L342.80,364.74 L342.35,364.66 L341.90,364.99 L341.45,365.06 L341.00,364.75 L340.55,364.98 L340.10,364.86 L339.65,365.09 L339.20,364.88 L338.75,364.94 L338.30,364.87 L337.85,365.17 L337.40,365.06 L336.95,365.48 L336.50,365.00 L336.05,365.06 L335.60,365.10 L335.15,365.10 L334.70,365.34 L334.25,365.14 L333.80,365.25 L333.35,365.24 L332.90,365.33 L332.45,365.28 L332.00,365.74 L331.55,365.46 L331.10,366.05 L330.65,365.39 L330.20,365.60 L329.75,365.56 L329.30,365.61 L328.85,365.67 L328.40,366.23 L327.95,365.84 L327.50,366.48 L327.05,366.30 L326.60,366.58 L326.15,366.23 L325.70,366.58 L325.25,366.82 L324.80,366.88 L324.35,367.26 L323.90,367.71 L323.45,368.16 L323.00,368.09Z"/>
<path d="M536.55,405.40 L536.56,404.82 L536.78,400.71 L536.99,396.97 L537.20,393.57 L537.42,390.49 L537.63,387.68 L537.84,385.13 L538.06,382.81 L538.27,380.70 L538.48,378.79 L538.70,377.04 L538.91,375.45 L539.12,374.00 L539.33,372.69 L539.55,371.49 L539.76,370.39 L539.97,369.40 L540.18,368.49 L540.39,367.67 L540.60,366.91 L540.81,366.23 L541.01,365.60 L541.21,365.03 L541.40,364.50 L541.59,364.03 L541.78,363.59 L541.97,363.19 L542.16,362.82 L542.35,362.49 L542.53,362.18 L542.72,361.90 L542.90,361.65 L543.08,361.41 L543.27,361.19 L543.45,360.99 L543.63,360.81 L543.81,360.64 L543.99,360.48 L544.17,360.33 L544.35,360.19 L544.53,360.06 L544.71,359.94 L544.89,359.83 L545.07,359.72 L545.25,359.63 L545.43,359.53 L545.62,359.44 L545.80,359.36 L545.98,359.28 L546.17,359.21 L546.36,359.14 L546.54,359.07 L546.73,359.01 L546.92,358.95 L547.11,358.89 L547.30,358.84 L547.49,358.79 L547.68,358.74 L547.87,358.70 L548.06,358.65 L548.26,358.61 L548.45,358.57 L548.64,358.53 L548.84,358.49 L549.03,358.46 L549.22,358.43 L549.42,358.39 L549.61,358.36 L549.81,358.33 L550.00,358.31 L550.20,358.28 L550.40,358.25 L550.59,358.23 L550.79,358.20 L550.99,358.18 L551.18,358.16 L551.38,358.14 L551.58,358.12 L551.77,358.10 L551.97,358.08 L552.17,358.06 L552.36,358.04 L552.56,358.03 L552.76,358.01 L552.96,357.99 L553.16,357.98 L553.35,357.97 L553.55,357.95 L553.75,357.94 L553.95,357.92 L554.15,357.91 L554.34,357.90 L554.54,357.89 L554.74,357.88 L554.94,357.87 L555.14,357.86 L555.34,357.85 L555.54,357.84 L555.74,357.83 L555.93,357.82 L556.13,357.81 L556.33,357.80 L556.53,357.79 L556.73,357.78 L556.93,357.78 L557.13,357.77 L557.33,357.76 L557.53,357.75 L557.72,357.75 L557.92,357.74 L558.12,357.73 L558.32,357.73 L558.52,357.72 L558.72,357.72 L558.92,357.71 L559.12,357.71 L559.32,357.70 L559.52,357.70 L559.72,357.69 L559.92,357.69 L560.12,357.68 L560.08,356.18 L559.88,356.19 L559.68,356.19 L559.48,356.20 L559.28,356.20 L559.08,356.21 L558.88,356.21 L558.68,356.22 L558.48,356.22 L558.28,356.23 L558.08,356.24 L557.88,356.24 L557.68,356.25 L557.47,356.25 L557.27,356.26 L557.07,356.27 L556.87,356.28 L556.67,356.28 L556.47,356.29 L556.27,356.30 L556.07,356.31 L555.87,356.32 L555.66,356.33 L555.46,356.34 L555.26,356.35 L555.06,356.36 L554.86,356.37 L554.66,356.38 L554.46,356.39 L554.26,356.40 L554.05,356.41 L553.85,356.43 L553.65,356.44 L553.45,356.45 L553.25,356.47 L553.04,356.48 L552.84,356.50 L552.64,356.52 L552.44,356.53 L552.24,356.55 L552.03,356.57 L551.83,356.59 L551.63,356.61 L551.42,356.63 L551.22,356.65 L551.02,356.67 L550.81,356.69 L550.61,356.71 L550.41,356.74 L550.20,356.77 L550.00,356.79 L549.80,356.82 L549.59,356.85 L549.39,356.88 L549.18,356.91 L548.98,356.95 L548.77,356.98 L548.56,357.02 L548.36,357.06 L548.15,357.10 L547.94,357.14 L547.74,357.19 L547.53,357.24 L547.32,357.29 L547.11,357.34 L546.90,357.39 L546.69,357.45 L546.48,357.52 L546.27,357.58 L546.06,357.65 L545.84,357.73 L545.63,357.81 L545.42,357.90 L545.20,357.99 L544.98,358.08 L544.77,358.19 L544.55,358.30 L544.33,358.42 L544.11,358.54 L543.89,358.68 L543.67,358.83 L543.45,358.99 L543.23,359.15 L543.01,359.34 L542.79,359.53 L542.57,359.74 L542.35,359.97 L542.13,360.21 L541.92,360.47 L541.70,360.75 L541.48,361.06 L541.27,361.38 L541.05,361.73 L540.84,362.11 L540.63,362.52 L540.42,362.97 L540.21,363.45 L540.00,363.97 L539.79,364.53 L539.59,365.14 L539.39,365.81 L539.20,366.54 L539.01,367.33 L538.82,368.19 L538.63,369.12 L538.44,370.15 L538.25,371.26 L538.07,372.49 L537.88,373.83 L537.69,375.29 L537.50,376.90 L537.32,378.66 L537.13,380.59 L536.94,382.71 L536.76,385.04 L536.57,387.60 L536.38,390.42 L536.20,393.51 L536.01,396.91 L535.82,400.66 L535.64,404.78 L535.65,405.40Z"/>
<path d="M550.45,430.30 L550.46,429.72 L550.67,424.41 L550.88,419.50 L551.10,414.98 L551.31,410.80 L551.52,406.93 L551.73,403.37 L551.94,400.07 L552.15,397.03 L552.36,394.21 L552.58,391.61 L552.79,389.21 L553.00,386.98 L553.21,384.92 L553.42,383.02 L553.63,381.26 L553.84,379.63 L554.05,378.12 L554.26,376.73 L554.47,375.43 L554.68,374.24 L554.89,373.13 L555.10,372.10 L555.31,371.15 L555.52,370.27 L555.73,369.45 L555.92,368.69 L556.12,367.98 L556.32,367.33 L556.51,366.72 L556.71,366.16 L556.90,365.64 L557.09,365.15 L557.29,364.70 L557.48,364.29 L557.67,363.90 L557.86,363.54 L558.05,363.20 L558.24,362.89 L558.42,362.60 L558.61,362.33 L558.80,362.08 L558.98,361.84 L559.17,361.62 L559.35,361.42 L559.53,361.22 L559.72,361.04 L559.90,360.87 L560.08,360.72 L560.27,360.57 L560.45,360.43 L560.63,360.30 L560.81,360.17 L561.00,360.05 L561.18,359.94 L561.36,359.84 L561.55,359.74 L561.73,359.64 L561.92,359.55 L562.10,359.47 L562.29,359.39 L562.48,359.31 L562.67,359.24 L562.85,359.17 L563.04,359.10 L563.23,359.04 L563.42,358.98 L563.61,358.92 L563.80,358.87 L563.99,358.82 L564.18,358.77 L564.38,358.72 L564.57,358.68 L564.76,358.63 L564.95,358.59 L565.15,358.55 L565.34,358.51 L565.53,358.48 L565.73,358.44 L565.92,358.41 L566.12,358.38 L566.31,358.35 L566.51,358.32 L566.70,358.29 L566.90,358.26 L567.10,358.24 L567.29,358.21 L567.49,358.19 L567.68,358.17 L567.88,358.15 L568.08,358.12 L568.28,358.10 L568.47,358.08 L568.67,358.07 L568.87,358.05 L569.06,358.03 L569.26,358.01 L569.46,358.00 L569.66,357.98 L569.86,357.97 L570.05,357.95 L570.25,357.94 L570.45,357.93 L570.65,357.91 L570.85,357.90 L571.04,357.89 L571.24,357.88 L571.44,357.87 L571.64,357.86 L571.84,357.85 L572.04,357.84 L572.24,357.83 L572.43,357.82 L572.63,357.81 L572.83,357.80 L573.03,357.79 L573.23,357.78 L573.43,357.77 L573.63,357.77 L573.83,357.76 L574.03,357.75 L573.97,356.25 L573.77,356.26 L573.57,356.27 L573.37,356.28 L573.17,356.28 L572.97,356.29 L572.77,356.30 L572.57,356.31 L572.37,356.32 L572.16,356.33 L571.96,356.34 L571.76,356.35 L571.56,356.36 L571.36,356.37 L571.16,356.38 L570.96,356.39 L570.75,356.40 L570.55,356.42 L570.35,356.43 L570.15,356.44 L569.95,356.46 L569.74,356.47 L569.54,356.49 L569.34,356.50 L569.14,356.52 L568.94,356.54 L568.73,356.55 L568.53,356.57 L568.33,356.59 L568.12,356.61 L567.92,356.63 L567.72,356.65 L567.52,356.68 L567.31,356.70 L567.11,356.73 L566.90,356.75 L566.70,356.78 L566.50,356.81 L566.29,356.84 L566.09,356.87 L565.88,356.90 L565.68,356.93 L565.47,356.97 L565.27,357.00 L565.06,357.04 L564.85,357.08 L564.65,357.12 L564.44,357.17 L564.23,357.21 L564.02,357.26 L563.82,357.31 L563.61,357.37 L563.40,357.43 L563.19,357.49 L562.98,357.55 L562.77,357.61 L562.56,357.68 L562.35,357.76 L562.13,357.84 L561.92,357.92 L561.71,358.01 L561.50,358.10 L561.28,358.20 L561.07,358.30 L560.85,358.41 L560.64,358.53 L560.42,358.65 L560.20,358.78 L559.99,358.92 L559.77,359.07 L559.55,359.22 L559.33,359.39 L559.12,359.57 L558.90,359.76 L558.68,359.96 L558.47,360.17 L558.25,360.40 L558.03,360.64 L557.82,360.89 L557.60,361.17 L557.39,361.46 L557.18,361.77 L556.96,362.10 L556.75,362.45 L556.54,362.82 L556.33,363.22 L556.12,363.64 L555.91,364.10 L555.71,364.58 L555.50,365.10 L555.29,365.66 L555.09,366.25 L554.88,366.89 L554.68,367.57 L554.48,368.30 L554.27,369.09 L554.08,369.93 L553.89,370.84 L553.70,371.82 L553.51,372.87 L553.32,374.00 L553.13,375.22 L552.94,376.53 L552.75,377.94 L552.56,379.47 L552.37,381.11 L552.18,382.89 L551.99,384.80 L551.80,386.87 L551.61,389.10 L551.42,391.52 L551.24,394.13 L551.05,396.95 L550.86,400.00 L550.67,403.31 L550.48,406.88 L550.29,410.74 L550.10,414.93 L549.92,419.46 L549.73,424.37 L549.54,429.68 L549.55,430.30Z"/>
<path d="M563.85,430.40 L563.86,429.82 L564.07,424.50 L564.28,419.59 L564.50,415.06 L564.71,410.87 L564.92,407.00 L565.13,403.43 L565.34,400.13 L565.55,397.08 L565.76,394.26 L565.98,391.66 L566.19,389.25 L566.40,387.02 L566.61,384.96 L566.82,383.06 L567.03,381.29 L567.24,379.66 L567.45,378.15 L567.66,376.75 L567.87,375.46 L568.08,374.26 L568.29,373.15 L568.50,372.12 L568.71,371.17 L568.92,370.28 L569.13,369.47 L569.32,368.71 L569.52,368.00 L569.72,367.35 L569.91,366.74 L570.11,366.17 L570.30,365.65 L570.49,365.17 L570.69,364.71 L570.88,364.30 L571.07,363.91 L571.26,363.55 L571.45,363.21 L571.64,362.90 L571.82,362.61 L572.01,362.33 L572.20,362.08 L572.38,361.85 L572.57,361.63 L572.75,361.42 L572.93,361.23 L573.12,361.05 L573.30,360.88 L573.48,360.72 L573.67,360.57 L573.85,360.43 L574.03,360.30 L574.21,360.17 L574.40,360.06 L574.58,359.95 L574.76,359.84 L574.95,359.74 L575.13,359.65 L575.32,359.56 L575.50,359.47 L575.69,359.39 L575.88,359.31 L576.07,359.24 L576.25,359.17 L576.44,359.11 L576.63,359.04 L576.82,358.98 L577.01,358.93 L577.20,358.87 L577.39,358.82 L577.58,358.77 L577.78,358.72 L577.97,358.68 L578.16,358.63 L578.35,358.59 L578.55,358.55 L578.74,358.52 L578.93,358.48 L579.13,358.45 L579.32,358.41 L579.52,358.38 L579.71,358.35 L579.91,358.32 L580.10,358.29 L580.30,358.27 L580.50,358.24 L580.69,358.22 L580.89,358.19 L581.08,358.17 L581.28,358.15 L581.48,358.13 L581.68,358.11 L581.87,358.09 L582.07,358.07 L582.27,358.05 L582.46,358.03 L582.66,358.01 L582.86,358.00 L583.06,357.98 L583.26,357.97 L583.45,357.95 L583.65,357.94 L583.85,357.93 L584.05,357.91 L584.25,357.90 L584.44,357.89 L584.64,357.88 L584.84,357.87 L585.04,357.86 L585.24,357.85 L585.44,357.84 L585.64,357.83 L585.83,357.82 L586.03,357.81 L586.23,357.80 L586.43,357.79 L586.63,357.78 L586.83,357.77 L587.03,357.77 L587.23,357.76 L587.43,357.75 L587.37,356.25 L587.17,356.26 L586.97,356.27 L586.77,356.28 L586.57,356.28 L586.37,356.29 L586.17,356.30 L585.97,356.31 L585.77,356.32 L585.56,356.33 L585.36,356.34 L585.16,356.35 L584.96,356.36 L584.76,356.37 L584.56,356.38 L584.36,356.39 L584.15,356.40 L583.95,356.42 L583.75,356.43 L583.55,356.44 L583.35,356.46 L583.14,356.47 L582.94,356.49 L582.74,356.50 L582.54,356.52 L582.34,356.54 L582.13,356.55 L581.93,356.57 L581.73,356.59 L581.52,356.61 L581.32,356.63 L581.12,356.66 L580.92,356.68 L580.71,356.70 L580.51,356.73 L580.30,356.75 L580.10,356.78 L579.90,356.81 L579.69,356.84 L579.49,356.87 L579.28,356.90 L579.08,356.93 L578.87,356.97 L578.67,357.00 L578.46,357.04 L578.25,357.08 L578.05,357.13 L577.84,357.17 L577.63,357.22 L577.42,357.27 L577.22,357.32 L577.01,357.37 L576.80,357.43 L576.59,357.49 L576.38,357.55 L576.17,357.62 L575.96,357.69 L575.75,357.76 L575.53,357.84 L575.32,357.92 L575.11,358.01 L574.90,358.10 L574.68,358.20 L574.47,358.30 L574.25,358.41 L574.04,358.53 L573.82,358.65 L573.60,358.78 L573.39,358.92 L573.17,359.07 L572.95,359.23 L572.73,359.40 L572.52,359.57 L572.30,359.76 L572.08,359.96 L571.87,360.18 L571.65,360.40 L571.43,360.64 L571.22,360.90 L571.00,361.17 L570.79,361.46 L570.58,361.77 L570.36,362.10 L570.15,362.45 L569.94,362.83 L569.73,363.23 L569.52,363.65 L569.31,364.11 L569.11,364.59 L568.90,365.11 L568.69,365.67 L568.49,366.26 L568.28,366.90 L568.08,367.58 L567.88,368.32 L567.67,369.10 L567.48,369.95 L567.29,370.86 L567.10,371.84 L566.91,372.89 L566.72,374.02 L566.53,375.24 L566.34,376.56 L566.15,377.97 L565.96,379.50 L565.77,381.15 L565.58,382.92 L565.39,384.84 L565.20,386.91 L565.01,389.15 L564.82,391.57 L564.64,394.18 L564.45,397.01 L564.26,400.06 L564.07,403.37 L563.88,406.95 L563.69,410.82 L563.50,415.01 L563.32,419.55 L563.13,424.46 L562.94,429.78 L562.95,430.40Z"/>
<path d="M577.35,429.80 L577.36,429.22 L577.57,423.94 L577.78,419.07 L578.00,414.58 L578.21,410.43 L578.42,406.59 L578.63,403.05 L578.84,399.78 L579.05,396.75 L579.26,393.96 L579.48,391.37 L579.69,388.98 L579.90,386.78 L580.11,384.73 L580.32,382.84 L580.53,381.09 L580.74,379.47 L580.95,377.98 L581.16,376.59 L581.37,375.31 L581.58,374.12 L581.79,373.02 L582.00,372.00 L582.21,371.05 L582.42,370.18 L582.63,369.36 L582.82,368.61 L583.02,367.91 L583.22,367.26 L583.41,366.66 L583.61,366.10 L583.80,365.58 L583.99,365.10 L584.19,364.65 L584.38,364.24 L584.57,363.85 L584.76,363.50 L584.95,363.16 L585.14,362.85 L585.32,362.56 L585.51,362.30 L585.70,362.05 L585.88,361.81 L586.06,361.59 L586.25,361.39 L586.43,361.20 L586.62,361.02 L586.80,360.85 L586.98,360.70 L587.16,360.55 L587.35,360.41 L587.53,360.28 L587.71,360.15 L587.89,360.04 L588.08,359.93 L588.26,359.82 L588.45,359.72 L588.63,359.63 L588.82,359.54 L589.00,359.46 L589.19,359.38 L589.38,359.30 L589.56,359.23 L589.75,359.16 L589.94,359.09 L590.13,359.03 L590.32,358.97 L590.51,358.92 L590.70,358.86 L590.89,358.81 L591.08,358.76 L591.27,358.71 L591.47,358.67 L591.66,358.63 L591.85,358.59 L592.05,358.55 L592.24,358.51 L592.43,358.47 L592.63,358.44 L592.82,358.41 L593.02,358.37 L593.21,358.34 L593.41,358.31 L593.60,358.29 L593.80,358.26 L594.00,358.23 L594.19,358.21 L594.39,358.19 L594.58,358.16 L594.78,358.14 L594.98,358.12 L595.17,358.10 L595.37,358.08 L595.57,358.06 L595.77,358.04 L595.96,358.03 L596.16,358.01 L596.36,357.99 L596.56,357.98 L596.75,357.96 L596.95,357.95 L597.15,357.94 L597.35,357.92 L597.55,357.91 L597.75,357.90 L597.94,357.89 L598.14,357.87 L598.34,357.86 L598.54,357.85 L598.74,357.84 L598.94,357.83 L599.14,357.82 L599.33,357.81 L599.53,357.81 L599.73,357.80 L599.93,357.79 L600.13,357.78 L600.33,357.77 L600.53,357.77 L600.73,357.76 L600.93,357.75 L600.87,356.25 L600.67,356.26 L600.47,356.27 L600.27,356.27 L600.07,356.28 L599.87,356.29 L599.67,356.30 L599.47,356.31 L599.27,356.32 L599.06,356.33 L598.86,356.33 L598.66,356.34 L598.46,356.36 L598.26,356.37 L598.06,356.38 L597.86,356.39 L597.65,356.40 L597.45,356.41 L597.25,356.43 L597.05,356.44 L596.85,356.45 L596.65,356.47 L596.44,356.48 L596.24,356.50 L596.04,356.52 L595.84,356.53 L595.63,356.55 L595.43,356.57 L595.23,356.59 L595.03,356.61 L594.82,356.63 L594.62,356.65 L594.42,356.67 L594.21,356.70 L594.01,356.72 L593.80,356.75 L593.60,356.77 L593.40,356.80 L593.19,356.83 L592.99,356.86 L592.78,356.89 L592.58,356.93 L592.37,356.96 L592.17,357.00 L591.96,357.03 L591.75,357.07 L591.55,357.12 L591.34,357.16 L591.13,357.21 L590.93,357.25 L590.72,357.31 L590.51,357.36 L590.30,357.42 L590.09,357.48 L589.88,357.54 L589.67,357.60 L589.46,357.67 L589.25,357.75 L589.04,357.82 L588.82,357.91 L588.61,357.99 L588.40,358.08 L588.18,358.18 L587.97,358.28 L587.75,358.39 L587.54,358.51 L587.32,358.63 L587.11,358.76 L586.89,358.90 L586.67,359.05 L586.45,359.20 L586.24,359.37 L586.02,359.54 L585.80,359.73 L585.58,359.93 L585.37,360.14 L585.15,360.37 L584.94,360.61 L584.72,360.86 L584.50,361.13 L584.29,361.42 L584.08,361.73 L583.86,362.05 L583.65,362.40 L583.44,362.77 L583.23,363.17 L583.02,363.59 L582.81,364.04 L582.61,364.53 L582.40,365.04 L582.19,365.59 L581.99,366.18 L581.78,366.81 L581.58,367.49 L581.38,368.22 L581.17,369.00 L580.98,369.84 L580.79,370.74 L580.60,371.71 L580.41,372.76 L580.22,373.88 L580.03,375.09 L579.84,376.39 L579.65,377.80 L579.46,379.31 L579.27,380.94 L579.08,382.71 L578.89,384.61 L578.70,386.66 L578.51,388.88 L578.32,391.28 L578.14,393.87 L577.95,396.68 L577.76,399.71 L577.57,402.99 L577.38,406.53 L577.19,410.37 L577.00,414.53 L576.82,419.03 L576.63,423.90 L576.44,429.18 L576.45,429.80Z"/>
<path d="M590.85,429.80 L590.86,429.22 L591.07,423.94 L591.28,419.07 L591.50,414.58 L591.71,410.43 L591.92,406.59 L592.13,403.05 L592.34,399.78 L592.55,396.75 L592.76,393.96 L592.98,391.37 L593.19,388.98 L593.40,386.78 L593.61,384.73 L593.82,382.84 L594.03,381.09 L594.24,379.47 L594.45,377.98 L594.66,376.59 L594.87,375.31 L595.08,374.12 L595.29,373.02 L595.50,372.00 L595.71,371.05 L595.92,370.18 L596.13,369.36 L596.32,368.61 L596.52,367.91 L596.72,367.26 L596.91,366.66 L597.11,366.10 L597.30,365.58 L597.49,365.10 L597.69,364.65 L597.88,364.24 L598.07,363.85 L598.26,363.50 L598.45,363.16 L598.64,362.85 L598.82,362.56 L599.01,362.30 L599.20,362.05 L599.38,361.81 L599.56,361.59 L599.75,361.39 L599.93,361.20 L600.12,361.02 L600.30,360.85 L600.48,360.70 L600.66,360.55 L600.85,360.41 L601.03,360.28 L601.21,360.15 L601.39,360.04 L601.58,359.93 L601.76,359.82 L601.95,359.72 L602.13,359.63 L602.32,359.54 L602.50,359.46 L602.69,359.38 L602.88,359.30 L603.06,359.23 L603.25,359.16 L603.44,359.09 L603.63,359.03 L603.82,358.97 L604.01,358.92 L604.20,358.86 L604.39,358.81 L604.58,358.76 L604.77,358.71 L604.97,358.67 L605.16,358.63 L605.35,358.59 L605.55,358.55 L605.74,358.51 L605.93,358.47 L606.13,358.44 L606.32,358.41 L606.52,358.37 L606.71,358.34 L606.91,358.31 L607.10,358.29 L607.30,358.26 L607.50,358.23 L607.69,358.21 L607.89,358.19 L608.08,358.16 L608.28,358.14 L608.48,358.12 L608.67,358.10 L608.87,358.08 L609.07,358.06 L609.27,358.04 L609.46,358.03 L609.66,358.01 L609.86,357.99 L610.06,357.98 L610.25,357.96 L610.45,357.95 L610.65,357.94 L610.85,357.92 L611.05,357.91 L611.25,357.90 L611.44,357.89 L611.64,357.87 L611.84,357.86 L612.04,357.85 L612.24,357.84 L612.44,357.83 L612.64,357.82 L612.83,357.81 L613.03,357.81 L613.23,357.80 L613.43,357.79 L613.63,357.78 L613.83,357.77 L614.03,357.77 L614.23,357.76 L614.43,357.75 L614.37,356.25 L614.17,356.26 L613.97,356.27 L613.77,356.27 L613.57,356.28 L613.37,356.29 L613.17,356.30 L612.97,356.31 L612.77,356.32 L612.56,356.33 L612.36,356.33 L612.16,356.34 L611.96,356.36 L611.76,356.37 L611.56,356.38 L611.36,356.39 L611.15,356.40 L610.95,356.41 L610.75,356.43 L610.55,356.44 L610.35,356.45 L610.15,356.47 L609.94,356.48 L609.74,356.50 L609.54,356.52 L609.34,356.53 L609.13,356.55 L608.93,356.57 L608.73,356.59 L608.53,356.61 L608.32,356.63 L608.12,356.65 L607.92,356.67 L607.71,356.70 L607.51,356.72 L607.30,356.75 L607.10,356.77 L606.90,356.80 L606.69,356.83 L606.49,356.86 L606.28,356.89 L606.08,356.93 L605.87,356.96 L605.67,357.00 L605.46,357.03 L605.25,357.07 L605.05,357.12 L604.84,357.16 L604.63,357.21 L604.43,357.25 L604.22,357.31 L604.01,357.36 L603.80,357.42 L603.59,357.48 L603.38,357.54 L603.17,357.60 L602.96,357.67 L602.75,357.75 L602.54,357.82 L602.32,357.91 L602.11,357.99 L601.90,358.08 L601.68,358.18 L601.47,358.28 L601.25,358.39 L601.04,358.51 L600.82,358.63 L600.61,358.76 L600.39,358.90 L600.17,359.05 L599.95,359.20 L599.74,359.37 L599.52,359.54 L599.30,359.73 L599.08,359.93 L598.87,360.14 L598.65,360.37 L598.44,360.61 L598.22,360.86 L598.00,361.13 L597.79,361.42 L597.58,361.73 L597.36,362.05 L597.15,362.40 L596.94,362.77 L596.73,363.17 L596.52,363.59 L596.31,364.04 L596.11,364.53 L595.90,365.04 L595.69,365.59 L595.49,366.18 L595.28,366.81 L595.08,367.49 L594.88,368.22 L594.67,369.00 L594.48,369.84 L594.29,370.74 L594.10,371.71 L593.91,372.76 L593.72,373.88 L593.53,375.09 L593.34,376.39 L593.15,377.80 L592.96,379.31 L592.77,380.94 L592.58,382.71 L592.39,384.61 L592.20,386.66 L592.01,388.88 L591.82,391.28 L591.64,393.87 L591.45,396.68 L591.26,399.71 L591.07,402.99 L590.88,406.53 L590.69,410.37 L590.50,414.53 L590.32,419.03 L590.13,423.90 L589.94,429.18 L589.95,429.80Z"/>
<path d="M604.35,429.80 L604.36,429.22 L604.57,423.94 L604.78,419.07 L605.00,414.58 L605.21,410.43 L605.42,406.59 L605.63,403.05 L605.84,399.78 L606.05,396.75 L606.26,393.96 L606.48,391.37 L606.69,388.98 L606.90,386.78 L607.11,384.73 L607.32,382.84 L607.53,381.09 L607.74,379.47 L607.95,377.98 L608.16,376.59 L608.37,375.31 L608.58,374.12 L608.79,373.02 L609.00,372.00 L609.21,371.05 L609.42,370.18 L609.63,369.36 L609.82,368.61 L610.02,367.91 L610.22,367.26 L610.41,366.66 L610.61,366.10 L610.80,365.58 L610.99,365.10 L611.19,364.65 L611.38,364.24 L611.57,363.85 L611.76,363.50 L611.95,363.16 L612.14,362.85 L612.32,362.56 L612.51,362.30 L612.70,362.05 L612.88,361.81 L613.06,361.59 L613.25,361.39 L613.43,361.20 L613.62,361.02 L613.80,360.85 L613.98,360.70 L614.16,360.55 L614.35,360.41 L614.53,360.28 L614.71,360.15 L614.89,360.04 L615.08,359.93 L615.26,359.82 L615.45,359.72 L615.63,359.63 L615.82,359.54 L616.00,359.46 L616.19,359.38 L616.38,359.30 L616.56,359.23 L616.75,359.16 L616.94,359.09 L617.13,359.03 L617.32,358.97 L617.51,358.92 L617.70,358.86 L617.89,358.81 L618.08,358.76 L618.27,358.71 L618.47,358.67 L618.66,358.63 L618.85,358.59 L619.05,358.55 L619.24,358.51 L619.43,358.47 L619.63,358.44 L619.82,358.41 L620.02,358.37 L620.21,358.34 L620.41,358.31 L620.60,358.29 L620.80,358.26 L621.00,358.23 L621.19,358.21 L621.39,358.19 L621.58,358.16 L621.78,358.14 L621.98,358.12 L622.17,358.10 L622.37,358.08 L622.57,358.06 L622.77,358.04 L622.96,358.03 L623.16,358.01 L623.36,357.99 L623.56,357.98 L623.75,357.96 L623.95,357.95 L624.15,357.94 L624.35,357.92 L624.55,357.91 L624.75,357.90 L624.94,357.89 L625.14,357.87 L625.34,357.86 L625.54,357.85 L625.74,357.84 L625.94,357.83 L626.14,357.82 L626.33,357.81 L626.53,357.81 L626.73,357.80 L626.93,357.79 L627.13,357.78 L627.33,357.77 L627.53,357.77 L627.73,357.76 L627.93,357.75 L627.87,356.25 L627.67,356.26 L627.47,356.27 L627.27,356.27 L627.07,356.28 L626.87,356.29 L626.67,356.30 L626.47,356.31 L626.27,356.32 L626.06,356.33 L625.86,356.33 L625.66,356.34 L625.46,356.36 L625.26,356.37 L625.06,356.38 L624.86,356.39 L624.65,356.40 L624.45,356.41 L624.25,356.43 L624.05,356.44 L623.85,356.45 L623.65,356.47 L623.44,356.48 L623.24,356.50 L623.04,356.52 L622.84,356.53 L622.63,356.55 L622.43,356.57 L622.23,356.59 L622.03,356.61 L621.82,356.63 L621.62,356.65 L621.42,356.67 L621.21,356.70 L621.01,356.72 L620.80,356.75 L620.60,356.77 L620.40,356.80 L620.19,356.83 L619.99,356.86 L619.78,356.89 L619.58,356.93 L619.37,356.96 L619.17,357.00 L618.96,357.03 L618.75,357.07 L618.55,357.12 L618.34,357.16 L618.13,357.21 L617.93,357.25 L617.72,357.31 L617.51,357.36 L617.30,357.42 L617.09,357.48 L616.88,357.54 L616.67,357.60 L616.46,357.67 L616.25,357.75 L616.04,357.82 L615.82,357.91 L615.61,357.99 L615.40,358.08 L615.18,358.18 L614.97,358.28 L614.75,358.39 L614.54,358.51 L614.32,358.63 L614.11,358.76 L613.89,358.90 L613.67,359.05 L613.45,359.20 L613.24,359.37 L613.02,359.54 L612.80,359.73 L612.58,359.93 L612.37,360.14 L612.15,360.37 L611.94,360.61 L611.72,360.86 L611.50,361.13 L611.29,361.42 L611.08,361.73 L610.86,362.05 L610.65,362.40 L610.44,362.77 L610.23,363.17 L610.02,363.59 L609.81,364.04 L609.61,364.53 L609.40,365.04 L609.19,365.59 L608.99,366.18 L608.78,366.81 L608.58,367.49 L608.38,368.22 L608.17,369.00 L607.98,369.84 L607.79,370.74 L607.60,371.71 L607.41,372.76 L607.22,373.88 L607.03,375.09 L606.84,376.39 L606.65,377.80 L606.46,379.31 L606.27,380.94 L606.08,382.71 L605.89,384.61 L605.70,386.66 L605.51,388.88 L605.32,391.28 L605.14,393.87 L604.95,396.68 L604.76,399.71 L604.57,402.99 L604.38,406.53 L604.19,410.37 L604.00,414.53 L603.82,419.03 L603.63,423.90 L603.44,429.18 L603.45,429.80Z"/>
<path d="M617.85,429.80 L617.86,429.22 L618.07,423.94 L618.28,419.07 L618.50,414.58 L618.71,410.43 L618.92,406.59 L619.13,403.05 L619.34,399.78 L619.55,396.75 L619.76,393.96 L619.98,391.37 L620.19,388.98 L620.40,386.78 L620.61,384.73 L620.82,382.84 L621.03,381.09 L621.24,379.47 L621.45,377.98 L621.66,376.59 L621.87,375.31 L622.08,374.12 L622.29,373.02 L622.50,372.00 L622.71,371.05 L622.92,370.18 L623.13,369.36 L623.32,368.61 L623.52,367.91 L623.72,367.26 L623.91,366.66 L624.11,366.10 L624.30,365.58 L624.49,365.10 L624.69,364.65 L624.88,364.24 L625.07,363.85 L625.26,363.50 L625.45,363.16 L625.64,362.85 L625.82,362.56 L626.01,362.30 L626.20,362.05 L626.38,361.81 L626.56,361.59 L626.75,361.39 L626.93,361.20 L627.12,361.02 L627.30,360.85 L627.48,360.70 L627.66,360.55 L627.85,360.41 L628.03,360.28 L628.21,360.15 L628.39,360.04 L628.58,359.93 L628.76,359.82 L628.95,359.72 L629.13,359.63 L629.32,359.54 L629.50,359.46 L629.69,359.38 L629.88,359.30 L630.06,359.23 L630.25,359.16 L630.44,359.09 L630.63,359.03 L630.82,358.97 L631.01,358.92 L631.20,358.86 L631.39,358.81 L631.58,358.76 L631.77,358.71 L631.97,358.67 L632.16,358.63 L632.35,358.59 L632.55,358.55 L632.74,358.51 L632.93,358.47 L633.13,358.44 L633.32,358.41 L633.52,358.37 L633.71,358.34 L633.91,358.31 L634.10,358.29 L634.30,358.26 L634.50,358.23 L634.69,358.21 L634.89,358.19 L635.08,358.16 L635.28,358.14 L635.48,358.12 L635.67,358.10 L635.87,358.08 L636.07,358.06 L636.27,358.04 L636.46,358.03 L636.66,358.01 L636.86,357.99 L637.06,357.98 L637.25,357.96 L637.45,357.95 L637.65,357.94 L637.85,357.92 L638.05,357.91 L638.25,357.90 L638.44,357.89 L638.64,357.87 L638.84,357.86 L639.04,357.85 L639.24,357.84 L639.44,357.83 L639.64,357.82 L639.83,357.81 L640.03,357.81 L640.23,357.80 L640.43,357.79 L640.63,357.78 L640.83,357.77 L641.03,357.77 L641.23,357.76 L641.43,357.75 L641.37,356.25 L641.17,356.26 L640.97,356.27 L640.77,356.27 L640.57,356.28 L640.37,356.29 L640.17,356.30 L639.97,356.31 L639.77,356.32 L639.56,356.33 L639.36,356.33 L639.16,356.34 L638.96,356.36 L638.76,356.37 L638.56,356.38 L638.36,356.39 L638.15,356.40 L637.95,356.41 L637.75,356.43 L637.55,356.44 L637.35,356.45 L637.15,356.47 L636.94,356.48 L636.74,356.50 L636.54,356.52 L636.34,356.53 L636.13,356.55 L635.93,356.57 L635.73,356.59 L635.53,356.61 L635.32,356.63 L635.12,356.65 L634.92,356.67 L634.71,356.70 L634.51,356.72 L634.30,356.75 L634.10,356.77 L633.90,356.80 L633.69,356.83 L633.49,356.86 L633.28,356.89 L633.08,356.93 L632.87,356.96 L632.67,357.00 L632.46,357.03 L632.25,357.07 L632.05,357.12 L631.84,357.16 L631.63,357.21 L631.43,357.25 L631.22,357.31 L631.01,357.36 L630.80,357.42 L630.59,357.48 L630.38,357.54 L630.17,357.60 L629.96,357.67 L629.75,357.75 L629.54,357.82 L629.32,357.91 L629.11,357.99 L628.90,358.08 L628.68,358.18 L628.47,358.28 L628.25,358.39 L628.04,358.51 L627.82,358.63 L627.61,358.76 L627.39,358.90 L627.17,359.05 L626.95,359.20 L626.74,359.37 L626.52,359.54 L626.30,359.73 L626.08,359.93 L625.87,360.14 L625.65,360.37 L625.44,360.61 L625.22,360.86 L625.00,361.13 L624.79,361.42 L624.58,361.73 L624.36,362.05 L624.15,362.40 L623.94,362.77 L623.73,363.17 L623.52,363.59 L623.31,364.04 L623.11,364.53 L622.90,365.04 L622.69,365.59 L622.49,366.18 L622.28,366.81 L622.08,367.49 L621.88,368.22 L621.67,369.00 L621.48,369.84 L621.29,370.74 L621.10,371.71 L620.91,372.76 L620.72,373.88 L620.53,375.09 L620.34,376.39 L620.15,377.80 L619.96,379.31 L619.77,380.94 L619.58,382.71 L619.39,384.61 L619.20,386.66 L619.01,388.88 L618.82,391.28 L618.64,393.87 L618.45,396.68 L618.26,399.71 L618.07,402.99 L617.88,406.53 L617.69,410.37 L617.50,414.53 L617.32,419.03 L617.13,423.90 L616.94,429.18 L616.95,429.80Z"/>
<path d="M630.95,429.80 L630.96,429.22 L631.17,423.94 L631.38,419.07 L631.60,414.58 L631.81,410.43 L632.02,406.59 L632.23,403.05 L632.44,399.78 L632.65,396.75 L632.86,393.96 L633.08,391.37 L633.29,388.98 L633.50,386.78 L633.71,384.73 L633.92,382.84 L634.13,381.09 L634.34,379.47 L634.55,377.98 L634.76,376.59 L634.97,375.31 L635.18,374.12 L635.39,373.02 L635.60,372.00 L635.81,371.05 L636.02,370.18 L636.23,369.36 L636.42,368.61 L636.62,367.91 L636.82,367.26 L637.01,366.66 L637.21,366.10 L637.40,365.58 L637.59,365.10 L637.79,364.65 L637.98,364.24 L638.17,363.85 L638.36,363.50 L638.55,363.16 L638.74,362.85 L638.92,362.56 L639.11,362.30 L639.30,362.05 L639.48,361.81 L639.66,361.59 L639.85,361.39 L640.03,361.20 L640.22,361.02 L640.40,360.85 L640.58,360.70 L640.76,360.55 L640.95,360.41 L641.13,360.28 L641.31,360.15 L641.49,360.04 L641.68,359.93 L641.86,359.82 L642.05,359.72 L642.23,359.63 L642.42,359.54 L642.60,359.46 L642.79,359.38 L642.98,359.30 L643.16,359.23 L643.35,359.16 L643.54,359.09 L643.73,359.03 L643.92,358.97 L644.11,358.92 L644.30,358.86 L644.49,358.81 L644.68,358.76 L644.87,358.71 L645.07,358.67 L645.26,358.63 L645.45,358.59 L645.65,358.55 L645.84,358.51 L646.03,358.47 L646.23,358.44 L646.42,358.41 L646.62,358.37 L646.81,358.34 L647.01,358.31 L647.20,358.29 L647.40,358.26 L647.60,358.23 L647.79,358.21 L647.99,358.19 L648.18,358.16 L648.38,358.14 L648.58,358.12 L648.77,358.10 L648.97,358.08 L649.17,358.06 L649.37,358.04 L649.56,358.03 L649.76,358.01 L649.96,357.99 L650.16,357.98 L650.35,357.96 L650.55,357.95 L650.75,357.94 L650.95,357.92 L651.15,357.91 L651.35,357.90 L651.54,357.89 L651.74,357.87 L651.94,357.86 L652.14,357.85 L652.34,357.84 L652.54,357.83 L652.74,357.82 L652.93,357.81 L653.13,357.81 L653.33,357.80 L653.53,357.79 L653.73,357.78 L653.93,357.77 L654.13,357.77 L654.33,357.76 L654.53,357.75 L654.47,356.25 L654.27,356.26 L654.07,356.27 L653.87,356.27 L653.67,356.28 L653.47,356.29 L653.27,356.30 L653.07,356.31 L652.87,356.32 L652.66,356.33 L652.46,356.33 L652.26,356.34 L652.06,356.36 L651.86,356.37 L651.66,356.38 L651.46,356.39 L651.25,356.40 L651.05,356.41 L650.85,356.43 L650.65,356.44 L650.45,356.45 L650.25,356.47 L650.04,356.48 L649.84,356.50 L649.64,356.52 L649.44,356.53 L649.23,356.55 L649.03,356.57 L648.83,356.59 L648.63,356.61 L648.42,356.63 L648.22,356.65 L648.02,356.67 L647.81,356.70 L647.61,356.72 L647.40,356.75 L647.20,356.77 L647.00,356.80 L646.79,356.83 L646.59,356.86 L646.38,356.89 L646.18,356.93 L645.97,356.96 L645.77,357.00 L645.56,357.03 L645.35,357.07 L645.15,357.12 L644.94,357.16 L644.73,357.21 L644.53,357.25 L644.32,357.31 L644.11,357.36 L643.90,357.42 L643.69,357.48 L643.48,357.54 L643.27,357.60 L643.06,357.67 L642.85,357.75 L642.64,357.82 L642.42,357.91 L642.21,357.99 L642.00,358.08 L641.78,358.18 L641.57,358.28 L641.35,358.39 L641.14,358.51 L640.92,358.63 L640.71,358.76 L640.49,358.90 L640.27,359.05 L640.05,359.20 L639.84,359.37 L639.62,359.54 L639.40,359.73 L639.18,359.93 L638.97,360.14 L638.75,360.37 L638.54,360.61 L638.32,360.86 L638.10,361.13 L637.89,361.42 L637.68,361.73 L637.46,362.05 L637.25,362.40 L637.04,362.77 L636.83,363.17 L636.62,363.59 L636.41,364.04 L636.21,364.53 L636.00,365.04 L635.79,365.59 L635.59,366.18 L635.38,366.81 L635.18,367.49 L634.98,368.22 L634.77,369.00 L634.58,369.84 L634.39,370.74 L634.20,371.71 L634.01,372.76 L633.82,373.88 L633.63,375.09 L633.44,376.39 L633.25,377.80 L633.06,379.31 L632.87,380.94 L632.68,382.71 L632.49,384.61 L632.30,386.66 L632.11,388.88 L631.92,391.28 L631.74,393.87 L631.55,396.68 L631.36,399.71 L631.17,402.99 L630.98,406.53 L630.79,410.37 L630.60,414.53 L630.42,419.03 L630.23,423.90 L630.04,429.18 L630.05,429.80Z"/>
<path d="M644.65,429.80 L644.66,429.22 L644.87,423.94 L645.08,419.07 L645.30,414.58 L645.51,410.43 L645.72,406.59 L645.93,403.05 L646.14,399.78 L646.35,396.75 L646.56,393.96 L646.78,391.37 L646.99,388.98 L647.20,386.78 L647.41,384.73 L647.62,382.84 L647.83,381.09 L648.04,379.47 L648.25,377.98 L648.46,376.59 L648.67,375.31 L648.88,374.12 L649.09,373.02 L649.30,372.00 L649.51,371.05 L649.72,370.18 L649.93,369.36 L650.12,368.61 L650.32,367.91 L650.52,367.26 L650.71,366.66 L650.91,366.10 L651.10,365.58 L651.29,365.10 L651.49,364.65 L651.68,364.24 L651.87,363.85 L652.06,363.50 L652.25,363.16 L652.44,362.85 L652.62,362.56 L652.81,362.30 L653.00,362.05 L653.18,361.81 L653.36,361.59 L653.55,361.39 L653.73,361.20 L653.92,361.02 L654.10,360.85 L654.28,360.70 L654.46,360.55 L654.65,360.41 L654.83,360.28 L655.01,360.15 L655.19,360.04 L655.38,359.93 L655.56,359.82 L655.75,359.72 L655.93,359.63 L656.12,359.54 L656.30,359.46 L656.49,359.38 L656.68,359.30 L656.86,359.23 L657.05,359.16 L657.24,359.09 L657.43,359.03 L657.62,358.97 L657.81,358.92 L658.00,358.86 L658.19,358.81 L658.38,358.76 L658.57,358.71 L658.77,358.67 L658.96,358.63 L659.15,358.59 L659.35,358.55 L659.54,358.51 L659.73,358.47 L659.93,358.44 L660.12,358.41 L660.32,358.37 L660.51,358.34 L660.71,358.31 L660.90,358.29 L661.10,358.26 L661.30,358.23 L661.49,358.21 L661.69,358.19 L661.88,358.16 L662.08,358.14 L662.28,358.12 L662.47,358.10 L662.67,358.08 L662.87,358.06 L663.07,358.04 L663.26,358.03 L663.46,358.01 L663.66,357.99 L663.86,357.98 L664.05,357.96 L664.25,357.95 L664.45,357.94 L664.65,357.92 L664.85,357.91 L665.05,357.90 L665.24,357.89 L665.44,357.87 L665.64,357.86 L665.84,357.85 L666.04,357.84 L666.24,357.83 L666.44,357.82 L666.63,357.81 L666.83,357.81 L667.03,357.80 L667.23,357.79 L667.43,357.78 L667.63,357.77 L667.83,357.77 L668.03,357.76 L668.23,357.75 L668.17,356.25 L667.97,356.26 L667.77,356.27 L667.57,356.27 L667.37,356.28 L667.17,356.29 L666.97,356.30 L666.77,356.31 L666.57,356.32 L666.36,356.33 L666.16,356.33 L665.96,356.34 L665.76,356.36 L665.56,356.37 L665.36,356.38 L665.16,356.39 L664.95,356.40 L664.75,356.41 L664.55,356.43 L664.35,356.44 L664.15,356.45 L663.95,356.47 L663.74,356.48 L663.54,356.50 L663.34,356.52 L663.14,356.53 L662.93,356.55 L662.73,356.57 L662.53,356.59 L662.33,356.61 L662.12,356.63 L661.92,356.65 L661.72,356.67 L661.51,356.70 L661.31,356.72 L661.10,356.75 L660.90,356.77 L660.70,356.80 L660.49,356.83 L660.29,356.86 L660.08,356.89 L659.88,356.93 L659.67,356.96 L659.47,357.00 L659.26,357.03 L659.05,357.07 L658.85,357.12 L658.64,357.16 L658.43,357.21 L658.23,357.25 L658.02,357.31 L657.81,357.36 L657.60,357.42 L657.39,357.48 L657.18,357.54 L656.97,357.60 L656.76,357.67 L656.55,357.75 L656.34,357.82 L656.12,357.91 L655.91,357.99 L655.70,358.08 L655.48,358.18 L655.27,358.28 L655.05,358.39 L654.84,358.51 L654.62,358.63 L654.41,358.76 L654.19,358.90 L653.97,359.05 L653.75,359.20 L653.54,359.37 L653.32,359.54 L653.10,359.73 L652.88,359.93 L652.67,360.14 L652.45,360.37 L652.24,360.61 L652.02,360.86 L651.80,361.13 L651.59,361.42 L651.38,361.73 L651.16,362.05 L650.95,362.40 L650.74,362.77 L650.53,363.17 L650.32,363.59 L650.11,364.04 L649.91,364.53 L649.70,365.04 L649.49,365.59 L649.29,366.18 L649.08,366.81 L648.88,367.49 L648.68,368.22 L648.47,369.00 L648.28,369.84 L648.09,370.74 L647.90,371.71 L647.71,372.76 L647.52,373.88 L647.33,375.09 L647.14,376.39 L646.95,377.80 L646.76,379.31 L646.57,380.94 L646.38,382.71 L646.19,384.61 L646.00,386.66 L645.81,388.88 L645.62,391.28 L645.44,393.87 L645.25,396.68 L645.06,399.71 L644.87,402.99 L644.68,406.53 L644.49,410.37 L644.30,414.53 L644.12,419.03 L643.93,423.90 L643.74,429.18 L643.75,429.80Z"/>
<path d="M657.85,429.80 L657.86,429.22 L658.07,423.94 L658.28,419.07 L658.50,414.58 L658.71,410.43 L658.92,406.59 L659.13,403.05 L659.34,399.78 L659.55,396.75 L659.76,393.96 L659.98,391.37 L660.19,388.98 L660.40,386.78 L660.61,384.73 L660.82,382.84 L661.03,381.09 L661.24,379.47 L661.45,377.98 L661.66,376.59 L661.87,375.31 L662.08,374.12 L662.29,373.02 L662.50,372.00 L662.71,371.05 L662.92,370.18 L663.13,369.36 L663.32,368.61 L663.52,367.91 L663.72,367.26 L663.91,366.66 L664.11,366.10 L664.30,365.58 L664.49,365.10 L664.69,364.65 L664.88,364.24 L665.07,363.85 L665.26,363.50 L665.45,363.16 L665.64,362.85 L665.82,362.56 L666.01,362.30 L666.20,362.05 L666.38,361.81 L666.56,361.59 L666.75,361.39 L666.93,361.20 L667.12,361.02 L667.30,360.85 L667.48,360.70 L667.66,360.55 L667.85,360.41 L668.03,360.28 L668.21,360.15 L668.39,360.04 L668.58,359.93 L668.76,359.82 L668.95,359.72 L669.13,359.63 L669.32,359.54 L669.50,359.46 L669.69,359.38 L669.88,359.30 L670.06,359.23 L670.25,359.16 L670.44,359.09 L670.63,359.03 L670.82,358.97 L671.01,358.92 L671.20,358.86 L671.39,358.81 L671.58,358.76 L671.77,358.71 L671.97,358.67 L672.16,358.63 L672.35,358.59 L672.55,358.55 L672.74,358.51 L672.93,358.47 L673.13,358.44 L673.32,358.41 L673.52,358.37 L673.71,358.34 L673.91,358.31 L674.10,358.29 L674.30,358.26 L674.50,358.23 L674.69,358.21 L674.89,358.19 L675.08,358.16 L675.28,358.14 L675.48,358.12 L675.67,358.10 L675.87,358.08 L676.07,358.06 L676.27,358.04 L676.46,358.03 L676.66,358.01 L676.86,357.99 L677.06,357.98 L677.25,357.96 L677.45,357.95 L677.65,357.94 L677.85,357.92 L678.05,357.91 L678.25,357.90 L678.44,357.89 L678.64,357.87 L678.84,357.86 L679.04,357.85 L679.24,357.84 L679.44,357.83 L679.64,357.82 L679.83,357.81 L680.03,357.81 L680.23,357.80 L680.43,357.79 L680.63,357.78 L680.83,357.77 L681.03,357.77 L681.23,357.76 L681.43,357.75 L681.37,356.25 L681.17,356.26 L680.97,356.27 L680.77,356.27 L680.57,356.28 L680.37,356.29 L680.17,356.30 L679.97,356.31 L679.77,356.32 L679.56,356.33 L679.36,356.33 L679.16,356.34 L678.96,356.36 L678.76,356.37 L678.56,356.38 L678.36,356.39 L678.15,356.40 L677.95,356.41 L677.75,356.43 L677.55,356.44 L677.35,356.45 L677.15,356.47 L676.94,356.48 L676.74,356.50 L676.54,356.52 L676.34,356.53 L676.13,356.55 L675.93,356.57 L675.73,356.59 L675.53,356.61 L675.32,356.63 L675.12,356.65 L674.92,356.67 L674.71,356.70 L674.51,356.72 L674.30,356.75 L674.10,356.77 L673.90,356.80 L673.69,356.83 L673.49,356.86 L673.28,356.89 L673.08,356.93 L672.87,356.96 L672.67,357.00 L672.46,357.03 L672.25,357.07 L672.05,357.12 L671.84,357.16 L671.63,357.21 L671.43,357.25 L671.22,357.31 L671.01,357.36 L670.80,357.42 L670.59,357.48 L670.38,357.54 L670.17,357.60 L669.96,357.67 L669.75,357.75 L669.54,357.82 L669.32,357.91 L669.11,357.99 L668.90,358.08 L668.68,358.18 L668.47,358.28 L668.25,358.39 L668.04,358.51 L667.82,358.63 L667.61,358.76 L667.39,358.90 L667.17,359.05 L666.95,359.20 L666.74,359.37 L666.52,359.54 L666.30,359.73 L666.08,359.93 L665.87,360.14 L665.65,360.37 L665.44,360.61 L665.22,360.86 L665.00,361.13 L664.79,361.42 L664.58,361.73 L664.36,362.05 L664.15,362.40 L663.94,362.77 L663.73,363.17 L663.52,363.59 L663.31,364.04 L663.11,364.53 L662.90,365.04 L662.69,365.59 L662.49,366.18 L662.28,366.81 L662.08,367.49 L661.88,368.22 L661.67,369.00 L661.48,369.84 L661.29,370.74 L661.10,371.71 L660.91,372.76 L660.72,373.88 L660.53,375.09 L660.34,376.39 L660.15,377.80 L659.96,379.31 L659.77,380.94 L659.58,382.71 L659.39,384.61 L659.20,386.66 L659.01,388.88 L658.82,391.28 L658.64,393.87 L658.45,396.68 L658.26,399.71 L658.07,402.99 L657.88,406.53 L657.69,410.37 L657.50,414.53 L657.32,419.03 L657.13,423.90 L656.94,429.18 L656.95,429.80Z"/>
</g>
<g stroke="#111" fill="none">
<path d="M56.10,210.20 L76.70,210.20" stroke-width="1.3"/>
<path d="M429.00,105.80 L444.80,105.80" stroke-width="1.3"/>
<path d="M685.40,202.30 L701.70,202.30" stroke-width="1.3"/>
<path d="M189.20,324.80 L212.10,324.80" stroke-width="1.5"/>
<path d="M433.30,302.75 L456.00,302.75" stroke-width="1.4"/>
<path d="M681.25,406.80 L698.75,406.80" stroke-width="1.4"/>
</g>
<g opacity="0.99" fill="#0a0a0a" stroke="#0a0a0a" stroke-width="0.3" stroke-linejoin="round" font-family="'Liberation Sans', sans-serif" style="font-kerning:none;text-rendering:geometricPrecision">
<text transform="translate(150.92,15.70) scale(0.9600,1)" font-size="15.2" letter-spacing="2.255">wf</text>
<text transform="translate(355.12,15.60) scale(1.1000,1)" font-size="14.4" letter-spacing="0.507">wfF401L</text>
<text transform="translate(572.32,14.90) scale(1.1000,1)" font-size="14.4" letter-spacing="0.530">wfF401A</text>
<text transform="translate(4.38,126.20) scale(1.0000,1)" font-size="11.6" letter-spacing="-0.149">-50</text>
<text transform="translate(27.23,126.20) scale(1.0000,1)" font-size="11.6" letter-spacing="0.321">mV</text>
<text transform="translate(15.64,354.60) scale(1.0099,1)" font-size="11.6" letter-spacing="0.000">0</text>
<text transform="translate(27.23,354.60) scale(1.0000,1)" font-size="11.6" letter-spacing="-0.379">mV</text>
<text transform="translate(50.43,206.60) scale(1.0240,1)" font-size="13.8" letter-spacing="0.000">5</text>
<text transform="translate(63.58,206.60) scale(1.0000,1)" font-size="13.8" letter-spacing="0.420">ms</text>
<text transform="translate(421.29,102.60) scale(0.9170,1)" font-size="13.8" letter-spacing="0.000">5</text>
<text transform="translate(434.18,102.60) scale(1.0000,1)" font-size="13.8" letter-spacing="-0.080">ms</text>
<text transform="translate(678.08,199.50) scale(0.9323,1)" font-size="13.8" letter-spacing="0.000">5</text>
<text transform="translate(690.98,199.50) scale(1.0000,1)" font-size="13.8" letter-spacing="-0.180">ms</text>
<text transform="translate(184.73,321.80) scale(1.0240,1)" font-size="13.8" letter-spacing="0.000">5</text>
<text transform="translate(197.98,321.80) scale(1.0000,1)" font-size="13.8" letter-spacing="0.320">ms</text>
<text transform="translate(429.15,299.50) scale(0.9934,1)" font-size="13.8" letter-spacing="0.000">5</text>
<text transform="translate(442.08,299.50) scale(1.0000,1)" font-size="13.8" letter-spacing="0.320">ms</text>
<text transform="translate(674.37,403.70) scale(0.9629,1)" font-size="13.8" letter-spacing="0.000">5</text>
<text transform="translate(687.08,403.70) scale(1.0000,1)" font-size="13.8" letter-spacing="0.220">ms</text>
</g>
</svg>
</body></html>
